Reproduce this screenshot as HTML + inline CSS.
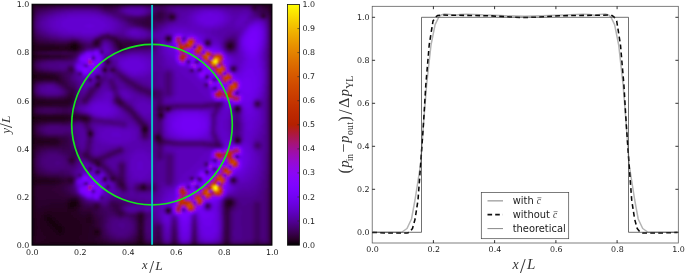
<!DOCTYPE html>
<html><head><meta charset="utf-8"><title>figure</title>
<style>
html,body{margin:0;padding:0;background:#fff;}
svg{display:block}
.t{font-family:"DejaVu Sans","Liberation Sans",sans-serif;font-size:7.9px;fill:#1a1a1a}
.m{font-family:"Liberation Serif","DejaVu Serif",serif;font-style:italic;fill:#333}
.r{font-family:"Liberation Serif","DejaVu Serif",serif;font-style:normal}
</style></head><body>
<svg width="685" height="273" viewBox="0 0 685 273">
<defs>
<clipPath id="hc"><rect x="0" y="0" width="240" height="241"/></clipPath>
<filter id="bl" x="-5%" y="-5%" width="110%" height="110%"><feGaussianBlur stdDeviation="0.8"/></filter>
<linearGradient id="cb" x1="0" y1="1" x2="0" y2="0">
<stop offset="0.000" stop-color="#000000"/>
<stop offset="0.025" stop-color="#280028"/>
<stop offset="0.050" stop-color="#39004f"/>
<stop offset="0.075" stop-color="#460074"/>
<stop offset="0.100" stop-color="#510096"/>
<stop offset="0.125" stop-color="#5a00b4"/>
<stop offset="0.150" stop-color="#6301ce"/>
<stop offset="0.175" stop-color="#6b01e3"/>
<stop offset="0.200" stop-color="#7202f3"/>
<stop offset="0.225" stop-color="#7903fc"/>
<stop offset="0.250" stop-color="#8004ff"/>
<stop offset="0.275" stop-color="#8605fc"/>
<stop offset="0.300" stop-color="#8c07f3"/>
<stop offset="0.325" stop-color="#9109e3"/>
<stop offset="0.350" stop-color="#970bce"/>
<stop offset="0.375" stop-color="#9c0db4"/>
<stop offset="0.400" stop-color="#a11096"/>
<stop offset="0.425" stop-color="#a61474"/>
<stop offset="0.450" stop-color="#ab174f"/>
<stop offset="0.475" stop-color="#b01b28"/>
<stop offset="0.500" stop-color="#b42000"/>
<stop offset="0.525" stop-color="#b92500"/>
<stop offset="0.550" stop-color="#bd2a00"/>
<stop offset="0.575" stop-color="#c13000"/>
<stop offset="0.600" stop-color="#c63700"/>
<stop offset="0.625" stop-color="#ca3e00"/>
<stop offset="0.650" stop-color="#ce4600"/>
<stop offset="0.675" stop-color="#d24e00"/>
<stop offset="0.700" stop-color="#d55700"/>
<stop offset="0.725" stop-color="#d96100"/>
<stop offset="0.750" stop-color="#dd6c00"/>
<stop offset="0.775" stop-color="#e07700"/>
<stop offset="0.800" stop-color="#e48300"/>
<stop offset="0.825" stop-color="#e88f00"/>
<stop offset="0.850" stop-color="#eb9d00"/>
<stop offset="0.875" stop-color="#efab00"/>
<stop offset="0.900" stop-color="#f2ba00"/>
<stop offset="0.925" stop-color="#f5ca00"/>
<stop offset="0.950" stop-color="#f9db00"/>
<stop offset="0.975" stop-color="#fcec00"/>
<stop offset="1.000" stop-color="#ffff00"/>
</linearGradient></defs>
<rect width="685" height="273" fill="#fff"/>
<g transform="translate(32.00 4.20)">
<rect x="0" y="0" width="240" height="241" fill="#10001c"/>
<g clip-path="url(#hc)"><g transform="scale(1 1.00417)" filter="url(#bl)" stroke-width="1.6" fill="none" shape-rendering="crispEdges">
<path stroke="#100006" d="M0 71.25h1.5M0 72.75h1.5M0 113.25h1.5M40.5 198.75h1.5M39 200.25h1.5"/>
<path stroke="#130009" d="M238.5 0.75h1.5M0 42.75h1.5M40.5 42.75h3M0 44.25h1.5M0 45.75h1.5M0 69.75h1.5M0 74.25h1.5M0 96.75h1.5M0 98.25h1.5M0 111.75h1.5M0 114.75h1.5M0 116.25h1.5M0 135.75h1.5M0 137.25h1.5M0 138.75h1.5M0 174.75h1.5M0 176.25h1.5M0 177.75h1.5M40.5 197.25h3M39 198.75h1.5M42 198.75h1.5M37.5 200.25h1.5M40.5 200.25h1.5M106.5 239.25h3"/>
<path stroke="#15000b" d="M238.5 2.25h1.5M238.5 3.75h1.5M238.5 5.25h1.5M238.5 6.75h1.5M0 41.25h1.5M40.5 41.25h3M39 42.75h1.5M40.5 44.25h3M0 47.25h1.5M0 50.25h1.5M0 51.75h1.5M0 53.25h1.5M0 68.25h1.5M0 75.75h1.5M0 95.25h1.5M0 99.75h1.5M0 101.25h1.5M0 110.25h1.5M0 117.75h1.5M0 134.25h1.5M0 140.25h1.5M0 173.25h1.5M0 179.25h1.5M39 197.25h1.5M37.5 198.75h1.5M42 200.25h1.5M37.5 201.75h3M0 209.25h1.5M0 210.75h1.5M0 212.25h1.5M0 213.75h1.5M0 215.25h1.5M0 216.75h1.5M0 218.25h1.5M0 219.75h1.5M0 221.25h1.5M0 222.75h1.5M0 224.25h1.5M0 225.75h1.5M0 227.25h1.5M0 228.75h1.5M0 230.25h1.5M0 231.75h1.5M0 233.25h1.5M0 234.75h1.5M0 239.25h1.5M4.5 239.25h51M105 239.25h1.5M109.5 239.25h1.5"/>
<path stroke="#18000e" d="M0 0.75h1.5M237 0.75h1.5M238.5 8.25h1.5M238.5 9.75h1.5M0 38.25h1.5M0 39.75h1.5M39 41.25h1.5M43.5 42.75h1.5M39 44.25h1.5M0 48.75h1.5M0 54.75h1.5M0 66.75h1.5M0 77.25h1.5M0 93.75h1.5M1.5 113.25h1.5M0 119.25h1.5M0 131.25h1.5M0 132.75h1.5M0 141.75h1.5M0 143.25h1.5M0 170.25h1.5M0 171.75h1.5M0 180.75h1.5M0 182.25h1.5M0 191.25h1.5M0 192.75h1.5M0 194.25h1.5M0 195.75h1.5M40.5 195.75h1.5M0 197.25h1.5M43.5 197.25h1.5M0 198.75h1.5M43.5 198.75h1.5M0 200.25h1.5M36 200.25h1.5M0 201.75h1.5M40.5 201.75h1.5M0 203.25h1.5M0 204.75h1.5M0 206.25h1.5M0 207.75h1.5M15 212.25h3M15 213.75h4.5M15 215.25h6M16.5 216.75h6M18 218.25h6M19.5 219.75h6M21 221.25h7.5M22.5 222.75h7.5M24 224.25h6M25.5 225.75h4.5M27 227.25h1.5M0 236.25h1.5M0 237.75h1.5M1.5 239.25h3M55.5 239.25h15M103.5 239.25h1.5M111 239.25h1.5M238.5 239.25h1.5"/>
<path stroke="#1b0012" d="M1.5 0.75h7.5M232.5 0.75h4.5M0 2.25h1.5M238.5 11.25h1.5M238.5 12.75h1.5M238.5 14.25h1.5M238.5 15.75h1.5M0 36.75h1.5M43.5 41.25h1.5M1.5 42.75h1.5M37.5 42.75h1.5M1.5 44.25h1.5M43.5 44.25h1.5M1.5 45.75h1.5M0 56.25h1.5M0 65.25h1.5M72 65.25h1.5M1.5 71.25h1.5M1.5 72.75h1.5M1.5 74.25h1.5M0 92.25h1.5M0 102.75h1.5M0 108.75h1.5M1.5 111.75h1.5M1.5 114.75h1.5M0 120.75h1.5M0 122.25h1.5M0 128.25h1.5M0 129.75h1.5M0 144.75h1.5M0 146.25h1.5M0 167.25h1.5M0 168.75h1.5M1.5 174.75h1.5M1.5 176.25h1.5M238.5 182.25h1.5M0 183.75h1.5M238.5 183.75h1.5M0 185.25h1.5M238.5 185.25h1.5M0 186.75h1.5M238.5 186.75h1.5M0 188.25h1.5M238.5 188.25h1.5M0 189.75h1.5M238.5 189.75h1.5M238.5 191.25h1.5M238.5 192.75h1.5M238.5 194.25h1.5M39 195.75h1.5M42 195.75h1.5M238.5 195.75h1.5M37.5 197.25h1.5M238.5 197.25h1.5M36 198.75h1.5M238.5 198.75h1.5M43.5 200.25h1.5M238.5 200.25h1.5M36 201.75h1.5M42 201.75h1.5M238.5 201.75h1.5M37.5 203.25h3M238.5 203.25h1.5M238.5 204.75h1.5M238.5 206.25h1.5M238.5 207.75h1.5M238.5 209.25h1.5M13.5 210.75h4.5M238.5 210.75h1.5M13.5 212.25h1.5M18 212.25h1.5M238.5 212.25h1.5M13.5 213.75h1.5M19.5 213.75h3M238.5 213.75h1.5M13.5 215.25h1.5M21 215.25h3M238.5 215.25h1.5M15 216.75h1.5M22.5 216.75h3M238.5 216.75h1.5M16.5 218.25h1.5M24 218.25h3M238.5 218.25h1.5M18 219.75h1.5M25.5 219.75h3M238.5 219.75h1.5M19.5 221.25h1.5M28.5 221.25h1.5M238.5 221.25h1.5M21 222.75h1.5M30 222.75h1.5M238.5 222.75h1.5M22.5 224.25h1.5M30 224.25h1.5M238.5 224.25h1.5M24 225.75h1.5M30 225.75h1.5M238.5 225.75h1.5M25.5 227.25h1.5M28.5 227.25h3M63 227.25h3M238.5 227.25h1.5M27 228.75h1.5M238.5 228.75h1.5M238.5 230.25h1.5M238.5 231.75h1.5M238.5 233.25h1.5M238.5 234.75h1.5M238.5 236.25h1.5M238.5 237.75h1.5M70.5 239.25h7.5M99 239.25h4.5M193.5 239.25h1.5"/>
<path stroke="#1e0015" d="M9 0.75h13.5M70.5 0.75h15M229.5 0.75h3M0 3.75h1.5M0 5.25h1.5M238.5 17.25h1.5M238.5 18.75h1.5M238.5 20.25h1.5M238.5 21.75h1.5M238.5 23.25h1.5M238.5 24.75h1.5M238.5 26.25h1.5M0 33.75h1.5M0 35.25h1.5M238.5 38.25h1.5M40.5 39.75h3M238.5 39.75h1.5M1.5 41.25h1.5M37.5 41.25h1.5M238.5 41.25h1.5M238.5 42.75h1.5M3 44.25h1.5M37.5 44.25h1.5M238.5 44.25h1.5M40.5 45.75h3M238.5 45.75h1.5M238.5 47.25h1.5M238.5 48.75h1.5M238.5 50.25h1.5M1.5 51.75h1.5M238.5 51.75h1.5M238.5 53.25h1.5M238.5 54.75h1.5M238.5 56.25h1.5M0 57.75h1.5M238.5 57.75h1.5M238.5 59.25h1.5M238.5 60.75h1.5M238.5 62.25h1.5M0 63.75h1.5M238.5 63.75h1.5M238.5 65.25h1.5M238.5 66.75h1.5M238.5 68.25h1.5M1.5 69.75h1.5M238.5 69.75h1.5M3 71.25h1.5M238.5 71.25h1.5M3 72.75h4.5M238.5 72.75h1.5M238.5 74.25h1.5M238.5 75.75h1.5M238.5 77.25h1.5M0 78.75h1.5M238.5 78.75h1.5M238.5 80.25h1.5M238.5 81.75h1.5M238.5 83.25h1.5M238.5 84.75h1.5M238.5 86.25h1.5M238.5 87.75h1.5M238.5 89.25h1.5M0 90.75h1.5M238.5 90.75h1.5M238.5 92.25h1.5M238.5 93.75h1.5M238.5 95.25h1.5M1.5 96.75h1.5M238.5 96.75h1.5M1.5 98.25h1.5M238.5 98.25h1.5M1.5 99.75h1.5M238.5 99.75h1.5M238.5 101.25h1.5M238.5 102.75h1.5M0 104.25h1.5M204 104.25h1.5M238.5 104.25h1.5M0 105.75h1.5M238.5 105.75h1.5M0 107.25h1.5M238.5 107.25h1.5M238.5 108.75h1.5M238.5 110.25h1.5M238.5 111.75h1.5M3 113.25h6M238.5 113.25h1.5M3 114.75h1.5M238.5 114.75h1.5M1.5 116.25h1.5M238.5 116.25h1.5M238.5 117.75h1.5M238.5 119.25h1.5M238.5 120.75h1.5M238.5 122.25h1.5M0 123.75h1.5M238.5 123.75h1.5M0 125.25h1.5M112.5 125.25h1.5M238.5 125.25h1.5M0 126.75h1.5M238.5 126.75h1.5M238.5 128.25h1.5M238.5 129.75h1.5M238.5 131.25h1.5M124.5 132.75h1.5M238.5 132.75h1.5M238.5 134.25h1.5M1.5 135.75h1.5M238.5 135.75h1.5M1.5 137.25h1.5M238.5 137.25h1.5M1.5 138.75h1.5M238.5 138.75h1.5M238.5 140.25h1.5M238.5 141.75h1.5M238.5 143.25h1.5M238.5 144.75h1.5M238.5 146.25h1.5M0 147.75h1.5M238.5 147.75h1.5M0 149.25h1.5M238.5 149.25h1.5M0 150.75h1.5M238.5 150.75h1.5M0 152.25h1.5M238.5 152.25h1.5M0 153.75h1.5M238.5 153.75h1.5M238.5 155.25h1.5M238.5 156.75h1.5M238.5 158.25h1.5M0 159.75h1.5M238.5 159.75h1.5M0 161.25h1.5M238.5 161.25h1.5M0 162.75h1.5M238.5 162.75h1.5M0 164.25h1.5M238.5 164.25h1.5M0 165.75h1.5M238.5 165.75h1.5M238.5 167.25h1.5M238.5 168.75h1.5M238.5 170.25h1.5M238.5 171.75h1.5M238.5 173.25h1.5M238.5 174.75h1.5M3 176.25h1.5M238.5 176.25h1.5M1.5 177.75h1.5M238.5 177.75h1.5M238.5 179.25h1.5M238.5 180.75h1.5M43.5 195.75h1.5M36 203.25h1.5M40.5 203.25h1.5M15 209.25h3M12 210.75h1.5M18 210.75h1.5M12 212.25h1.5M19.5 212.25h3M12 213.75h1.5M22.5 213.75h1.5M12 215.25h1.5M24 215.25h1.5M13.5 216.75h1.5M25.5 216.75h1.5M15 218.25h1.5M27 218.25h1.5M15 219.75h3M28.5 219.75h1.5M16.5 221.25h3M30 221.25h1.5M18 222.75h3M31.5 222.75h1.5M19.5 224.25h3M31.5 224.25h1.5M21 225.75h3M31.5 225.75h1.5M63 225.75h3M22.5 227.25h3M31.5 227.25h1.5M24 228.75h3M28.5 228.75h3M27 230.25h1.5M16.5 237.75h27M106.5 237.75h3M78 239.25h21M112.5 239.25h1.5M124.5 239.25h3M192 239.25h1.5M195 239.25h1.5"/>
<path stroke="#20001a" d="M22.5 0.75h13.5M63 0.75h7.5M85.5 0.75h4.5M228 0.75h1.5M0 6.75h1.5M0 8.25h1.5M238.5 27.75h1.5M238.5 29.25h1.5M0 30.75h1.5M238.5 30.75h1.5M0 32.25h1.5M238.5 32.25h1.5M238.5 33.75h1.5M238.5 35.25h1.5M238.5 36.75h1.5M39 39.75h1.5M45 41.25h1.5M3 42.75h4.5M36 42.75h1.5M45 42.75h1.5M4.5 44.25h18M36 44.25h1.5M3 45.75h3M37.5 45.75h3M1.5 47.25h1.5M1.5 53.25h1.5M0 59.25h1.5M0 60.75h1.5M0 62.25h1.5M1.5 68.25h1.5M3 69.75h1.5M4.5 71.25h7.5M7.5 72.75h10.5M64.5 72.75h1.5M3 74.25h3M1.5 75.75h1.5M0 80.25h1.5M0 89.25h1.5M1.5 95.25h1.5M3 96.75h1.5M3 98.25h1.5M1.5 110.25h1.5M3 111.75h3M9 113.25h24M4.5 114.75h22.5M112.5 123.75h1.5M111 125.25h1.5M1.5 134.25h1.5M3 135.75h1.5M204 135.75h1.5M3 137.25h1.5M1.5 140.25h1.5M0 155.25h1.5M0 156.75h1.5M0 158.25h1.5M1.5 173.25h1.5M3 174.75h3M4.5 176.25h9M3 177.75h3M1.5 179.25h1.5M109.5 182.25h3M40.5 194.25h1.5M37.5 195.75h1.5M36 197.25h1.5M195 197.25h3M34.5 198.75h1.5M45 198.75h1.5M195 198.75h3M34.5 200.25h1.5M34.5 201.75h1.5M43.5 201.75h1.5M42 203.25h1.5M37.5 204.75h4.5M15 207.75h3M1.5 209.25h1.5M12 209.25h3M18 209.25h3M1.5 210.75h1.5M10.5 210.75h1.5M19.5 210.75h4.5M1.5 212.25h1.5M10.5 212.25h1.5M22.5 212.25h3M1.5 213.75h1.5M10.5 213.75h1.5M24 213.75h4.5M55.5 213.75h1.5M1.5 215.25h1.5M10.5 215.25h1.5M25.5 215.25h6M55.5 215.25h3M1.5 216.75h1.5M10.5 216.75h3M27 216.75h6M1.5 218.25h1.5M12 218.25h3M28.5 218.25h6M1.5 219.75h1.5M13.5 219.75h1.5M30 219.75h6M1.5 221.25h1.5M13.5 221.25h3M31.5 221.25h4.5M1.5 222.75h1.5M15 222.75h3M33 222.75h4.5M1.5 224.25h1.5M16.5 224.25h3M33 224.25h4.5M1.5 225.75h1.5M18 225.75h3M33 225.75h4.5M1.5 227.25h1.5M19.5 227.25h3M33 227.25h3M66 227.25h1.5M1.5 228.75h1.5M21 228.75h3M31.5 228.75h4.5M63 228.75h3M1.5 230.25h1.5M22.5 230.25h4.5M28.5 230.25h6M1.5 231.75h1.5M24 231.75h9M1.5 233.25h1.5M27 233.25h3M1.5 234.75h1.5M19.5 236.25h19.5M108 236.25h1.5M1.5 237.75h1.5M4.5 237.75h12M43.5 237.75h12M109.5 237.75h1.5M114 239.25h3M120 239.25h4.5M127.5 239.25h1.5M141 239.25h3M162 239.25h1.5M196.5 239.25h1.5M237 239.25h1.5"/>
<path stroke="#23001e" d="M36 0.75h27M90 0.75h3M115.5 0.75h3M120 0.75h1.5M222 0.75h1.5M225 0.75h3M237 2.25h1.5M0 9.75h1.5M0 11.25h1.5M0 27.75h1.5M0 29.25h1.5M135 33.75h1.5M135 35.25h1.5M1.5 39.75h1.5M43.5 39.75h1.5M3 41.25h1.5M36 41.25h1.5M196.5 41.25h3M7.5 42.75h19.5M33 42.75h3M22.5 44.25h13.5M45 44.25h1.5M6 45.75h13.5M36 45.75h1.5M43.5 45.75h1.5M1.5 50.25h1.5M3 51.75h1.5M3 53.25h1.5M1.5 54.75h1.5M4.5 69.75h3M12 71.25h6M18 72.75h4.5M6 74.25h15M0 81.75h1.5M0 83.25h1.5M0 84.75h1.5M0 86.25h1.5M0 87.75h1.5M1.5 93.75h1.5M3 95.25h1.5M4.5 96.75h6M4.5 98.25h13.5M3 99.75h1.5M1.5 101.25h1.5M205.5 104.25h1.5M127.5 110.25h1.5M6 111.75h25.5M33 113.25h3M27 114.75h6M3 116.25h3M1.5 117.75h1.5M111 123.75h1.5M57 128.25h1.5M57 129.75h1.5M1.5 132.75h1.5M126 132.75h1.5M3 134.25h1.5M4.5 135.75h7.5M205.5 135.75h1.5M4.5 137.25h13.5M3 138.75h3M1.5 141.75h1.5M64.5 167.25h1.5M1.5 171.75h1.5M3 173.25h1.5M6 174.75h10.5M72 174.75h1.5M13.5 176.25h9M6 177.75h13.5M3 179.25h1.5M1.5 180.75h1.5M39 194.25h1.5M42 194.25h1.5M36 195.75h1.5M34.5 197.25h1.5M45 197.25h1.5M198 197.25h1.5M198 198.75h1.5M1.5 200.25h1.5M45 200.25h1.5M1.5 201.75h1.5M33 201.75h1.5M45 201.75h1.5M1.5 203.25h1.5M34.5 203.25h1.5M43.5 203.25h1.5M1.5 204.75h1.5M34.5 204.75h3M42 204.75h1.5M135 204.75h1.5M1.5 206.25h1.5M15 206.25h4.5M34.5 206.25h7.5M1.5 207.75h1.5M12 207.75h3M18 207.75h21M10.5 209.25h1.5M21 209.25h18M9 210.75h1.5M24 210.75h16.5M9 212.25h1.5M25.5 212.25h16.5M55.5 212.25h3M3 213.75h1.5M7.5 213.75h3M28.5 213.75h16.5M54 213.75h1.5M57 213.75h1.5M3 215.25h1.5M7.5 215.25h3M31.5 215.25h15M54 215.25h1.5M3 216.75h1.5M7.5 216.75h3M33 216.75h15M54 216.75h4.5M3 218.25h1.5M7.5 218.25h4.5M34.5 218.25h13.5M3 219.75h1.5M7.5 219.75h6M36 219.75h13.5M3 221.25h3M7.5 221.25h6M36 221.25h13.5M3 222.75h3M7.5 222.75h7.5M37.5 222.75h12M3 224.25h1.5M9 224.25h7.5M37.5 224.25h12M3 225.75h1.5M9 225.75h9M37.5 225.75h12M61.5 225.75h1.5M66 225.75h1.5M3 227.25h1.5M10.5 227.25h9M36 227.25h13.5M61.5 227.25h1.5M3 228.75h1.5M10.5 228.75h10.5M36 228.75h13.5M61.5 228.75h1.5M3 230.25h1.5M12 230.25h10.5M34.5 230.25h13.5M13.5 231.75h10.5M33 231.75h13.5M13.5 233.25h13.5M30 233.25h16.5M12 234.75h36M108 234.75h1.5M1.5 236.25h1.5M9 236.25h10.5M39 236.25h12M106.5 236.25h1.5M3 237.75h1.5M55.5 237.75h9M105 237.75h1.5M117 239.25h3M129 239.25h1.5M139.5 239.25h1.5M160.5 239.25h1.5M190.5 239.25h1.5M223.5 239.25h3M235.5 239.25h1.5"/>
<path stroke="#260023" d="M93 0.75h4.5M111 0.75h4.5M118.5 0.75h1.5M121.5 0.75h9M220.5 0.75h1.5M223.5 0.75h1.5M235.5 2.25h1.5M237 3.75h1.5M237 5.25h1.5M0 12.75h1.5M139.5 12.75h1.5M0 14.25h1.5M0 15.75h1.5M0 24.75h1.5M0 26.25h1.5M1.5 38.25h1.5M37.5 39.75h1.5M4.5 41.25h9M34.5 41.25h1.5M27 42.75h6M196.5 42.75h3M19.5 45.75h16.5M3 47.25h1.5M1.5 48.75h1.5M4.5 51.75h4.5M4.5 53.25h3M1.5 66.75h1.5M3 68.25h1.5M7.5 69.75h6M18 71.25h3M22.5 72.75h1.5M21 74.25h3M3 75.75h1.5M1.5 77.25h1.5M4.5 95.25h3M10.5 96.75h27M18 98.25h18M4.5 99.75h15M3 110.25h1.5M31.5 111.75h3M127.5 111.75h1.5M36 113.25h1.5M49.5 113.25h4.5M33 114.75h3M51 114.75h3M6 116.25h9M3 117.75h1.5M1.5 119.25h1.5M1.5 131.25h1.5M3 132.75h1.5M4.5 134.25h4.5M124.5 134.25h3M12 135.75h13.5M18 137.25h7.5M6 138.75h13.5M3 140.25h1.5M1.5 143.25h1.5M64.5 159.75h1.5M1.5 170.25h1.5M4.5 173.25h3M16.5 174.75h7.5M22.5 176.25h4.5M19.5 177.75h6M4.5 179.25h4.5M1.5 182.25h1.5M1.5 183.75h1.5M109.5 183.75h3M1.5 185.25h1.5M1.5 186.75h1.5M1.5 188.25h1.5M1.5 189.75h1.5M1.5 191.25h1.5M1.5 192.75h1.5M1.5 194.25h1.5M37.5 194.25h1.5M43.5 194.25h1.5M1.5 195.75h1.5M45 195.75h1.5M196.5 195.75h1.5M1.5 197.25h1.5M1.5 198.75h1.5M33 198.75h1.5M33 200.25h1.5M195 200.25h3M31.5 201.75h1.5M16.5 203.25h18M45 203.25h1.5M3 204.75h1.5M12 204.75h22.5M43.5 204.75h1.5M3 206.25h1.5M10.5 206.25h4.5M19.5 206.25h15M42 206.25h3M135 206.25h1.5M3 207.75h3M7.5 207.75h4.5M39 207.75h6M3 209.25h7.5M39 209.25h6M55.5 209.25h1.5M3 210.75h6M40.5 210.75h6M54 210.75h4.5M3 212.25h6M42 212.25h7.5M52.5 212.25h3M58.5 212.25h1.5M4.5 213.75h3M45 213.75h9M58.5 213.75h1.5M4.5 215.25h3M46.5 215.25h7.5M58.5 215.25h1.5M4.5 216.75h3M48 216.75h6M58.5 216.75h1.5M4.5 218.25h3M48 218.25h12M4.5 219.75h3M49.5 219.75h9M6 221.25h1.5M49.5 221.25h7.5M6 222.75h1.5M49.5 222.75h7.5M4.5 224.25h4.5M49.5 224.25h7.5M61.5 224.25h4.5M4.5 225.75h4.5M49.5 225.75h7.5M60 225.75h1.5M4.5 227.25h6M49.5 227.25h7.5M60 227.25h1.5M4.5 228.75h6M49.5 228.75h6M60 228.75h1.5M66 228.75h1.5M4.5 230.25h7.5M48 230.25h7.5M61.5 230.25h4.5M3 231.75h10.5M46.5 231.75h9M108 231.75h1.5M3 233.25h10.5M46.5 233.25h9M106.5 233.25h3M3 234.75h9M48 234.75h7.5M106.5 234.75h1.5M3 236.25h6M51 236.25h9M105 236.25h1.5M109.5 236.25h1.5M64.5 237.75h6M103.5 237.75h1.5M111 237.75h1.5M144 239.25h1.5M163.5 239.25h1.5M198 239.25h1.5M220.5 239.25h3M226.5 239.25h3M234 239.25h1.5"/>
<path stroke="#280028" d="M97.5 0.75h13.5M130.5 0.75h3M219 0.75h1.5M1.5 2.25h1.5M232.5 2.25h3M237 6.75h1.5M237 8.25h1.5M138 12.75h1.5M0 17.25h1.5M0 18.75h1.5M0 20.25h1.5M0 21.75h1.5M0 23.25h1.5M136.5 33.75h1.5M136.5 35.25h1.5M1.5 36.75h1.5M40.5 38.25h1.5M63 38.25h3M3 39.75h3M45 39.75h1.5M63 39.75h1.5M198 39.75h1.5M13.5 41.25h13.5M33 41.25h1.5M46.5 41.25h1.5M87 41.25h3M46.5 42.75h1.5M87 42.75h3M46.5 44.25h1.5M88.5 44.25h1.5M45 45.75h1.5M4.5 47.25h1.5M40.5 47.25h1.5M3 50.25h1.5M9 51.75h9M7.5 53.25h9M3 54.75h1.5M1.5 56.25h1.5M75 57.75h1.5M4.5 68.25h3M13.5 69.75h4.5M21 71.25h3M24 72.75h1.5M24 74.25h1.5M4.5 75.75h6M24 75.75h1.5M64.5 80.25h1.5M1.5 92.25h1.5M3 93.75h1.5M36 93.75h3M7.5 95.25h6M31.5 95.25h7.5M37.5 96.75h1.5M36 98.25h1.5M19.5 99.75h15M3 101.25h3M1.5 102.75h1.5M204 102.75h1.5M135 104.25h1.5M1.5 108.75h1.5M4.5 110.25h3M129 110.25h1.5M34.5 111.75h3M37.5 113.25h1.5M48 113.25h1.5M36 114.75h1.5M54 114.75h1.5M15 116.25h18M4.5 117.75h1.5M1.5 120.75h1.5M111 126.75h3M1.5 129.75h1.5M124.5 131.25h1.5M4.5 132.75h1.5M9 134.25h15M25.5 137.25h1.5M19.5 138.75h6M4.5 140.25h6M3 141.75h1.5M1.5 144.75h1.5M1.5 168.75h1.5M3 171.75h1.5M7.5 173.25h7.5M24 174.75h3M37.5 174.75h1.5M27 176.25h1.5M37.5 176.25h1.5M25.5 177.75h3M9 179.25h15M3 180.75h3M36 194.25h1.5M3 195.75h1.5M34.5 195.75h1.5M195 195.75h1.5M198 195.75h1.5M3 197.25h1.5M31.5 197.25h3M193.5 197.25h1.5M3 198.75h1.5M18 198.75h15M46.5 198.75h1.5M193.5 198.75h1.5M3 200.25h1.5M13.5 200.25h19.5M46.5 200.25h1.5M193.5 200.25h1.5M198 200.25h1.5M3 201.75h3M9 201.75h22.5M46.5 201.75h1.5M195 201.75h1.5M3 203.25h13.5M4.5 204.75h7.5M45 204.75h1.5M136.5 204.75h1.5M4.5 206.25h6M45 206.25h1.5M6 207.75h1.5M45 207.75h3M55.5 207.75h1.5M45 209.25h4.5M54 209.25h1.5M57 209.25h1.5M46.5 210.75h7.5M58.5 210.75h1.5M106.5 210.75h3M49.5 212.25h3M106.5 212.25h3M108 213.75h1.5M60 215.25h1.5M108 215.25h1.5M60 216.75h1.5M108 216.75h1.5M60 218.25h1.5M58.5 219.75h1.5M57 221.25h4.5M57 222.75h6M57 224.25h4.5M57 225.75h3M108 225.75h1.5M57 227.25h3M108 227.25h1.5M55.5 228.75h4.5M108 228.75h1.5M55.5 230.25h6M66 230.25h1.5M106.5 230.25h3M55.5 231.75h9M106.5 231.75h1.5M55.5 233.25h6M109.5 233.25h1.5M55.5 234.75h7.5M109.5 234.75h1.5M60 236.25h6M70.5 237.75h4.5M102 237.75h1.5M130.5 239.25h1.5M138 239.25h1.5M159 239.25h1.5M189 239.25h1.5M199.5 239.25h1.5M217.5 239.25h3M229.5 239.25h4.5"/>
<path stroke="#2b002d" d="M133.5 0.75h4.5M214.5 0.75h4.5M3 2.25h7.5M231 2.25h1.5M1.5 3.75h1.5M235.5 3.75h1.5M237 9.75h1.5M231 11.25h1.5M139.5 14.25h1.5M1.5 35.25h1.5M64.5 36.75h1.5M3 38.25h1.5M39 38.25h1.5M42 38.25h1.5M85.5 38.25h1.5M6 39.75h6M36 39.75h1.5M64.5 39.75h1.5M85.5 39.75h3M196.5 39.75h1.5M27 41.25h6M85.5 41.25h1.5M90 41.25h1.5M195 41.25h1.5M199.5 41.25h1.5M90 42.75h1.5M195 42.75h1.5M199.5 42.75h1.5M87 44.25h1.5M90 44.25h1.5M196.5 44.25h3M6 47.25h4.5M37.5 47.25h3M42 47.25h1.5M3 48.75h1.5M4.5 50.25h1.5M18 51.75h10.5M16.5 53.25h12M4.5 54.75h1.5M1.5 65.25h1.5M70.5 65.25h1.5M79.5 65.25h1.5M3 66.75h1.5M7.5 68.25h3M18 69.75h4.5M24 71.25h1.5M25.5 72.75h1.5M25.5 74.25h1.5M10.5 75.75h13.5M25.5 75.75h1.5M3 77.25h1.5M1.5 78.75h1.5M37.5 92.25h1.5M4.5 93.75h1.5M34.5 93.75h1.5M39 93.75h1.5M13.5 95.25h18M39 95.25h1.5M39 96.75h1.5M37.5 98.25h1.5M34.5 99.75h3M6 101.25h4.5M31.5 101.25h1.5M205.5 102.75h1.5M204 105.75h1.5M127.5 108.75h1.5M7.5 110.25h6M21 110.25h13.5M37.5 111.75h6M48 111.75h4.5M129 111.75h1.5M39 113.25h9M54 113.25h1.5M37.5 114.75h1.5M49.5 114.75h1.5M33 116.25h3M6 117.75h3M3 119.25h1.5M1.5 122.25h1.5M111 122.25h3M1.5 123.75h1.5M114 123.75h1.5M114 125.25h1.5M1.5 126.75h1.5M1.5 128.25h1.5M58.5 128.25h1.5M58.5 129.75h1.5M3 131.25h1.5M126 131.25h1.5M6 132.75h4.5M123 132.75h1.5M24 134.25h1.5M204 134.25h3M25.5 135.75h1.5M126 135.75h1.5M204 137.25h1.5M25.5 138.75h1.5M10.5 140.25h13.5M4.5 141.75h1.5M3 143.25h1.5M1.5 146.25h1.5M1.5 147.75h1.5M39 155.25h1.5M64.5 158.25h1.5M66 159.75h1.5M1.5 165.75h1.5M1.5 167.25h1.5M3 170.25h1.5M4.5 171.75h3M15 173.25h7.5M27 174.75h3M36 174.75h1.5M39 174.75h1.5M79.5 174.75h1.5M28.5 176.25h3M36 176.25h1.5M39 176.25h1.5M28.5 177.75h1.5M24 179.25h3M6 180.75h16.5M109.5 180.75h3M3 182.25h3M112.5 182.25h1.5M3 183.75h1.5M3 185.25h1.5M3 186.75h1.5M3 188.25h1.5M3 189.75h1.5M3 191.25h1.5M3 192.75h3M37.5 192.75h6M3 194.25h3M13.5 194.25h15M33 194.25h3M4.5 195.75h30M4.5 197.25h27M46.5 197.25h1.5M199.5 197.25h1.5M4.5 198.75h13.5M199.5 198.75h1.5M4.5 200.25h9M6 201.75h3M63 201.75h1.5M193.5 201.75h1.5M196.5 201.75h1.5M46.5 203.25h1.5M46.5 204.75h1.5M46.5 206.25h3M55.5 206.25h1.5M48 207.75h7.5M57 207.75h1.5M49.5 209.25h4.5M58.5 209.25h1.5M108 209.25h1.5M109.5 210.75h1.5M60 212.25h1.5M109.5 212.25h1.5M60 213.75h1.5M106.5 213.75h1.5M61.5 215.25h1.5M106.5 215.25h1.5M61.5 216.75h1.5M106.5 216.75h1.5M61.5 218.25h1.5M106.5 218.25h3M60 219.75h3M108 219.75h1.5M61.5 221.25h1.5M108 221.25h1.5M63 222.75h3M108 222.75h1.5M66 224.25h1.5M106.5 224.25h3M106.5 225.75h1.5M67.5 227.25h1.5M106.5 227.25h1.5M67.5 228.75h1.5M106.5 228.75h1.5M109.5 230.25h1.5M64.5 231.75h3M109.5 231.75h1.5M61.5 233.25h4.5M105 233.25h1.5M63 234.75h4.5M105 234.75h1.5M66 236.25h4.5M103.5 236.25h1.5M75 237.75h4.5M97.5 237.75h4.5M193.5 237.75h3M136.5 239.25h1.5M145.5 239.25h1.5M165 239.25h1.5M201 239.25h16.5"/>
<path stroke="#2e0033" d="M138 0.75h31.5M186 0.75h28.5M10.5 2.25h6M70.5 2.25h10.5M222 2.25h1.5M229.5 2.25h1.5M222 3.75h1.5M232.5 3.75h3M1.5 5.25h1.5M235.5 5.25h1.5M139.5 11.25h1.5M229.5 11.25h1.5M237 11.25h1.5M141 12.75h1.5M138 14.25h1.5M1.5 33.75h1.5M3 36.75h1.5M63 36.75h1.5M84 36.75h1.5M4.5 38.25h1.5M43.5 38.25h1.5M84 38.25h1.5M87 38.25h1.5M174 38.25h3M12 39.75h10.5M34.5 39.75h1.5M61.5 39.75h1.5M88.5 39.75h1.5M199.5 39.75h1.5M48 42.75h1.5M85.5 42.75h1.5M91.5 42.75h1.5M46.5 45.75h1.5M88.5 45.75h1.5M10.5 47.25h7.5M36 47.25h1.5M43.5 47.25h1.5M4.5 48.75h1.5M6 50.25h4.5M28.5 51.75h4.5M28.5 53.25h4.5M6 54.75h3M3 56.25h1.5M1.5 57.75h1.5M1.5 63.75h1.5M201 63.75h1.5M166.5 65.25h1.5M201 65.25h1.5M4.5 66.75h1.5M72 66.75h1.5M10.5 68.25h4.5M22.5 69.75h1.5M25.5 71.25h1.5M174 72.75h1.5M27 74.25h1.5M27 75.75h1.5M4.5 77.25h1.5M25.5 77.25h3M1.5 90.75h1.5M37.5 90.75h3M36 92.25h1.5M39 92.25h1.5M6 93.75h3M31.5 93.75h3M39 98.25h1.5M37.5 99.75h1.5M10.5 101.25h21M33 101.25h3M3 102.75h1.5M1.5 104.25h1.5M202.5 104.25h1.5M1.5 105.75h1.5M205.5 105.75h1.5M1.5 107.25h1.5M3 108.75h1.5M13.5 110.25h7.5M34.5 110.25h3M126 110.25h1.5M43.5 111.75h4.5M52.5 111.75h1.5M39 114.75h1.5M48 114.75h1.5M55.5 114.75h1.5M36 116.25h1.5M52.5 116.25h1.5M9 117.75h4.5M4.5 119.25h1.5M1.5 125.25h1.5M3 129.75h1.5M4.5 131.25h1.5M10.5 132.75h6M25.5 134.25h1.5M123 134.25h1.5M127.5 134.25h1.5M27 135.75h1.5M124.5 135.75h1.5M127.5 135.75h1.5M27 137.25h1.5M205.5 137.25h1.5M27 138.75h1.5M24 140.25h3M6 141.75h4.5M4.5 143.25h1.5M3 144.75h1.5M1.5 149.25h1.5M1.5 150.75h1.5M1.5 152.25h1.5M37.5 155.25h1.5M39 156.75h1.5M66 158.25h1.5M1.5 162.75h1.5M1.5 164.25h1.5M174 167.25h1.5M3 168.75h1.5M4.5 170.25h1.5M7.5 171.75h4.5M22.5 173.25h4.5M79.5 173.25h1.5M30 174.75h1.5M34.5 174.75h1.5M166.5 174.75h1.5M201 174.75h1.5M31.5 176.25h4.5M199.5 176.25h3M30 177.75h3M36 177.75h3M27 179.25h3M22.5 180.75h4.5M6 182.25h18M108 182.25h1.5M4.5 183.75h16.5M112.5 183.75h1.5M4.5 185.25h15M4.5 186.75h18M4.5 188.25h21M4.5 189.75h22.5M4.5 191.25h25.5M6 192.75h31.5M43.5 192.75h1.5M6 194.25h7.5M28.5 194.25h4.5M45 194.25h1.5M46.5 195.75h1.5M193.5 195.75h1.5M48 200.25h1.5M63 200.25h1.5M48 201.75h1.5M64.5 201.75h1.5M48 203.25h1.5M195 203.25h1.5M48 204.75h3M55.5 204.75h1.5M49.5 206.25h6M57 206.25h1.5M136.5 206.25h1.5M58.5 207.75h1.5M60 209.25h1.5M106.5 209.25h1.5M109.5 209.25h1.5M60 210.75h1.5M105 210.75h1.5M61.5 212.25h1.5M61.5 213.75h1.5M109.5 213.75h1.5M63 215.25h1.5M109.5 215.25h1.5M63 216.75h1.5M109.5 216.75h1.5M63 218.25h1.5M109.5 218.25h1.5M63 219.75h1.5M106.5 219.75h1.5M109.5 219.75h1.5M63 221.25h3M106.5 221.25h1.5M66 222.75h1.5M106.5 222.75h1.5M109.5 224.25h1.5M67.5 225.75h1.5M109.5 225.75h1.5M109.5 227.25h1.5M109.5 228.75h1.5M67.5 230.25h1.5M67.5 231.75h1.5M105 231.75h1.5M66 233.25h3M67.5 234.75h3M70.5 236.25h3M102 236.25h1.5M111 236.25h1.5M79.5 237.75h6M91.5 237.75h6M112.5 237.75h1.5M123 237.75h4.5M192 237.75h1.5M132 239.25h4.5M157.5 239.25h1.5M187.5 239.25h1.5"/>
<path stroke="#300039" d="M169.5 0.75h16.5M16.5 2.25h7.5M69 2.25h1.5M81 2.25h3M220.5 2.25h1.5M228 2.25h1.5M3 3.75h1.5M220.5 3.75h1.5M231 3.75h1.5M234 5.25h1.5M1.5 6.75h1.5M235.5 6.75h1.5M1.5 8.25h1.5M138 11.25h1.5M229.5 12.75h3M237 12.75h1.5M237 14.25h1.5M115.5 15.75h1.5M114 17.25h3M114 18.75h3M115.5 20.25h1.5M1.5 32.25h1.5M82.5 35.25h1.5M4.5 36.75h1.5M66 36.75h1.5M82.5 36.75h1.5M85.5 36.75h1.5M6 38.25h6M37.5 38.25h1.5M61.5 38.25h1.5M66 38.25h1.5M88.5 38.25h1.5M22.5 39.75h12M46.5 39.75h1.5M84 39.75h1.5M90 39.75h10.5M174 39.75h3M195 39.75h1.5M48 41.25h1.5M63 41.25h3M91.5 41.25h4.5M48 44.25h1.5M91.5 44.25h1.5M18 47.25h18M6 48.75h3M10.5 50.25h6M33 51.75h3M33 53.25h1.5M9 54.75h4.5M1.5 59.25h1.5M1.5 62.25h1.5M72 63.75h1.5M199.5 63.75h1.5M3 65.25h1.5M199.5 65.25h1.5M6 66.75h1.5M15 68.25h4.5M24 69.75h1.5M27 71.25h1.5M27 72.75h1.5M66 72.75h1.5M28.5 74.25h1.5M28.5 75.75h1.5M6 77.25h1.5M24 77.25h1.5M28.5 77.25h1.5M64.5 78.75h1.5M1.5 80.25h1.5M66 80.25h1.5M37.5 89.25h3M36 90.75h1.5M3 92.25h1.5M34.5 92.25h1.5M40.5 92.25h1.5M9 93.75h3M27 93.75h4.5M40.5 93.75h1.5M87 98.25h1.5M36 101.25h1.5M4.5 102.75h1.5M135 102.75h1.5M127.5 104.25h1.5M133.5 104.25h1.5M136.5 104.25h1.5M4.5 108.75h1.5M126 108.75h1.5M129 108.75h1.5M37.5 110.25h7.5M126 111.75h1.5M55.5 113.25h1.5M40.5 114.75h7.5M37.5 116.25h1.5M51 116.25h1.5M54 116.25h1.5M13.5 117.75h21M6 119.25h1.5M3 120.75h1.5M109.5 123.75h1.5M109.5 125.25h1.5M57 126.75h1.5M114 126.75h1.5M3 128.25h1.5M55.5 128.25h1.5M112.5 128.25h1.5M4.5 129.75h1.5M55.5 129.75h1.5M6 131.25h3M123 131.25h1.5M16.5 132.75h9M127.5 132.75h1.5M27 134.25h3M28.5 135.75h3M202.5 135.75h1.5M28.5 137.25h3M126 137.25h3M28.5 138.75h1.5M27 140.25h1.5M10.5 141.75h13.5M6 143.25h1.5M4.5 144.75h1.5M3 146.25h1.5M1.5 153.75h1.5M39 153.75h1.5M1.5 155.25h1.5M40.5 155.25h1.5M1.5 156.75h1.5M37.5 156.75h1.5M63 156.75h3M1.5 158.25h1.5M63 158.25h1.5M1.5 159.75h1.5M1.5 161.25h1.5M3 167.25h1.5M6 170.25h1.5M12 171.75h6M27 173.25h3M36 173.25h3M31.5 174.75h3M81 174.75h1.5M199.5 174.75h1.5M33 177.75h3M39 177.75h1.5M30 179.25h3M88.5 179.25h1.5M27 180.75h3M88.5 180.75h1.5M24 182.25h4.5M21 183.75h7.5M108 183.75h1.5M19.5 185.25h9M22.5 186.75h7.5M25.5 188.25h6M237 188.25h1.5M27 189.75h6M237 189.75h1.5M30 191.25h12M237 191.25h1.5M237 192.75h1.5M196.5 194.25h1.5M237 194.25h1.5M199.5 195.75h1.5M237 195.75h1.5M237 197.25h1.5M48 198.75h1.5M237 198.75h1.5M64.5 200.25h1.5M199.5 200.25h1.5M237 200.25h1.5M49.5 201.75h1.5M61.5 201.75h1.5M198 201.75h1.5M237 201.75h1.5M49.5 203.25h1.5M55.5 203.25h1.5M63 203.25h3M193.5 203.25h1.5M196.5 203.25h1.5M237 203.25h1.5M51 204.75h4.5M57 204.75h3M193.5 204.75h1.5M237 204.75h1.5M58.5 206.25h1.5M237 206.25h1.5M60 207.75h1.5M237 207.75h1.5M237 209.25h1.5M61.5 210.75h1.5M237 210.75h1.5M63 212.25h1.5M105 212.25h1.5M237 212.25h1.5M63 213.75h1.5M105 213.75h1.5M237 213.75h1.5M64.5 215.25h1.5M105 215.25h1.5M237 215.25h1.5M64.5 216.75h1.5M237 216.75h1.5M64.5 218.25h1.5M237 218.25h1.5M64.5 219.75h1.5M237 219.75h1.5M66 221.25h1.5M109.5 221.25h1.5M237 221.25h1.5M109.5 222.75h1.5M237 222.75h1.5M67.5 224.25h1.5M237 224.25h1.5M237 225.75h1.5M237 227.25h1.5M105 228.75h1.5M237 228.75h1.5M105 230.25h1.5M237 230.25h1.5M237 231.75h1.5M69 233.25h1.5M103.5 233.25h1.5M237 233.25h1.5M70.5 234.75h1.5M103.5 234.75h1.5M111 234.75h1.5M237 234.75h1.5M73.5 236.25h3M100.5 236.25h1.5M193.5 236.25h1.5M237 236.25h1.5M85.5 237.75h6M114 237.75h1.5M120 237.75h3M127.5 237.75h1.5M141 237.75h3M237 237.75h1.5M147 239.25h1.5M166.5 239.25h1.5M186 239.25h1.5"/>
<path stroke="#33003f" d="M24 2.25h7.5M66 2.25h3M84 2.25h3M223.5 2.25h4.5M4.5 3.75h6M229.5 3.75h1.5M3 5.25h1.5M222 5.25h1.5M231 5.25h3M234 6.75h1.5M235.5 8.25h1.5M1.5 9.75h1.5M126 9.75h3M229.5 9.75h3M124.5 11.25h4.5M124.5 12.75h4.5M136.5 12.75h1.5M114 14.25h4.5M141 14.25h1.5M112.5 15.75h3M117 15.75h1.5M237 15.75h1.5M109.5 17.25h4.5M117 17.25h1.5M237 17.25h1.5M109.5 18.75h4.5M117 18.75h1.5M111 20.25h4.5M117 20.25h1.5M115.5 21.75h3M1.5 30.75h1.5M79.5 33.75h1.5M133.5 33.75h1.5M3 35.25h1.5M66 35.25h1.5M81 35.25h1.5M84 35.25h1.5M133.5 35.25h1.5M6 36.75h1.5M87 36.75h1.5M12 38.25h6M36 38.25h1.5M45 38.25h1.5M82.5 38.25h1.5M90 38.25h9M196.5 38.25h3M66 39.75h1.5M100.5 39.75h16.5M61.5 41.25h1.5M84 41.25h1.5M96 41.25h10.5M49.5 42.75h1.5M93 42.75h3M85.5 44.25h1.5M195 44.25h1.5M199.5 44.25h1.5M87 45.75h1.5M90 45.75h1.5M45 47.25h1.5M9 48.75h6M40.5 48.75h1.5M16.5 50.25h12M36 51.75h3M34.5 53.25h3M13.5 54.75h9M4.5 56.25h1.5M73.5 57.75h1.5M75 59.25h1.5M1.5 60.75h1.5M37.5 65.25h1.5M73.5 65.25h1.5M7.5 66.75h3M19.5 68.25h4.5M25.5 69.75h1.5M64.5 71.25h1.5M28.5 72.75h1.5M30 75.75h1.5M7.5 77.25h4.5M22.5 77.25h1.5M30 77.25h1.5M3 78.75h1.5M27 78.75h6M66 78.75h1.5M64.5 81.75h1.5M39 86.25h1.5M37.5 87.75h4.5M1.5 89.25h1.5M36 89.25h1.5M40.5 89.25h1.5M40.5 90.75h1.5M4.5 92.25h1.5M33 92.25h1.5M12 93.75h15M40.5 95.25h1.5M40.5 96.75h1.5M85.5 96.75h3M88.5 98.25h1.5M39 99.75h1.5M37.5 101.25h1.5M6 102.75h3M27 102.75h9M127.5 102.75h1.5M136.5 102.75h1.5M3 104.25h1.5M126 104.25h1.5M126 105.75h3M135 105.75h1.5M3 107.25h1.5M127.5 107.25h1.5M6 108.75h3M28.5 108.75h7.5M45 110.25h1.5M54 111.75h1.5M127.5 113.25h1.5M39 116.25h1.5M49.5 116.25h1.5M55.5 116.25h1.5M34.5 117.75h1.5M7.5 119.25h3M4.5 120.75h1.5M111 120.75h1.5M3 122.25h1.5M114 122.25h1.5M3 123.75h1.5M3 125.25h1.5M3 126.75h1.5M111 128.25h1.5M6 129.75h1.5M9 131.25h3M57 131.25h1.5M25.5 132.75h3M30 134.25h3M31.5 135.75h3M31.5 137.25h3M30 138.75h3M28.5 140.25h4.5M24 141.75h4.5M7.5 143.25h4.5M6 144.75h1.5M4.5 146.25h1.5M3 147.75h1.5M3 149.25h1.5M37.5 153.75h1.5M40.5 153.75h1.5M63 155.25h1.5M40.5 156.75h1.5M61.5 156.75h1.5M66 156.75h1.5M3 165.75h1.5M237 165.75h1.5M237 167.25h1.5M4.5 168.75h1.5M237 168.75h1.5M7.5 170.25h3M237 170.25h1.5M18 171.75h9M237 171.75h1.5M30 173.25h6M39 173.25h1.5M81 173.25h1.5M237 173.25h1.5M237 174.75h1.5M237 176.25h1.5M87 177.75h3M237 177.75h1.5M33 179.25h4.5M87 179.25h1.5M90 179.25h1.5M237 179.25h1.5M30 180.75h3M90 180.75h1.5M237 180.75h1.5M28.5 182.25h3M237 182.25h1.5M28.5 183.75h3M237 183.75h1.5M28.5 185.25h3M237 185.25h1.5M30 186.75h3M237 186.75h1.5M31.5 188.25h3M33 189.75h4.5M42 191.25h1.5M45 192.75h1.5M46.5 194.25h1.5M195 194.25h1.5M198 194.25h1.5M48 197.25h1.5M192 197.25h1.5M192 198.75h1.5M49.5 200.25h1.5M61.5 200.25h1.5M174 200.25h3M192 200.25h1.5M51 201.75h1.5M66 201.75h1.5M174 201.75h3M192 201.75h1.5M51 203.25h4.5M57 203.25h6M60 204.75h4.5M195 204.75h1.5M60 206.25h1.5M193.5 206.25h3M61.5 207.75h1.5M87 207.75h1.5M193.5 207.75h1.5M61.5 209.25h3M105 209.25h1.5M63 210.75h3M64.5 212.25h1.5M64.5 213.75h3M66 215.25h1.5M66 216.75h1.5M105 216.75h1.5M66 218.25h1.5M105 218.25h1.5M66 219.75h1.5M105 219.75h1.5M105 221.25h1.5M67.5 222.75h1.5M105 222.75h1.5M105 224.25h1.5M69 225.75h1.5M105 225.75h1.5M69 227.25h1.5M105 227.25h1.5M193.5 227.25h1.5M69 228.75h1.5M193.5 228.75h1.5M69 230.25h1.5M193.5 230.25h1.5M69 231.75h1.5M103.5 231.75h1.5M111 231.75h1.5M193.5 231.75h1.5M70.5 233.25h1.5M111 233.25h1.5M193.5 233.25h1.5M72 234.75h3M102 234.75h1.5M193.5 234.75h3M76.5 236.25h3M97.5 236.25h3M112.5 236.25h1.5M124.5 236.25h3M192 236.25h1.5M195 236.25h1.5M115.5 237.75h3M160.5 237.75h3M196.5 237.75h1.5M148.5 239.25h1.5M156 239.25h1.5M168 239.25h4.5M181.5 239.25h4.5"/>
<path stroke="#360046" d="M31.5 2.25h10.5M58.5 2.25h7.5M87 2.25h1.5M120 2.25h1.5M10.5 3.75h4.5M72 3.75h9M223.5 3.75h1.5M228 3.75h1.5M4.5 5.25h1.5M220.5 5.25h1.5M229.5 5.25h1.5M3 6.75h1.5M231 6.75h3M126 8.25h3M234 8.25h1.5M124.5 9.75h1.5M129 9.75h1.5M235.5 9.75h1.5M1.5 11.25h1.5M123 11.25h1.5M129 11.25h1.5M136.5 11.25h1.5M141 11.25h1.5M232.5 11.25h1.5M115.5 12.75h3M120 12.75h1.5M123 12.75h1.5M129 12.75h1.5M112.5 14.25h1.5M120 14.25h1.5M123 14.25h6M136.5 14.25h1.5M108 15.75h4.5M105 17.25h4.5M106.5 18.75h3M237 18.75h1.5M109.5 20.25h1.5M237 20.25h1.5M112.5 21.75h3M237 21.75h1.5M1.5 29.25h1.5M75 32.25h1.5M3 33.75h1.5M76.5 33.75h3M81 33.75h3M4.5 35.25h1.5M64.5 35.25h1.5M67.5 35.25h1.5M79.5 35.25h1.5M7.5 36.75h4.5M40.5 36.75h3M61.5 36.75h1.5M81 36.75h1.5M88.5 36.75h1.5M18 38.25h6M34.5 38.25h1.5M99 38.25h6M111 38.25h7.5M199.5 38.25h1.5M48 39.75h1.5M60 39.75h1.5M82.5 39.75h1.5M117 39.75h1.5M49.5 41.25h1.5M106.5 41.25h10.5M193.5 41.25h1.5M201 41.25h1.5M84 42.75h1.5M96 42.75h6M201 42.75h1.5M49.5 44.25h1.5M93 44.25h1.5M237 44.25h1.5M48 45.75h1.5M237 45.75h1.5M237 47.25h1.5M15 48.75h15M34.5 48.75h6M42 48.75h1.5M237 48.75h1.5M28.5 50.25h12M237 50.25h1.5M39 51.75h1.5M237 51.75h1.5M37.5 53.25h1.5M237 53.25h1.5M22.5 54.75h10.5M237 54.75h1.5M6 56.25h3M75 56.25h1.5M237 56.25h1.5M3 57.75h1.5M76.5 57.75h1.5M163.5 57.75h1.5M237 57.75h1.5M237 59.25h1.5M237 60.75h1.5M237 62.25h1.5M3 63.75h1.5M37.5 63.75h1.5M237 63.75h1.5M4.5 65.25h1.5M39 65.25h1.5M81 65.25h1.5M10.5 66.75h3M37.5 66.75h1.5M79.5 66.75h1.5M24 68.25h1.5M27 69.75h1.5M28.5 71.25h1.5M30 72.75h1.5M30 74.25h1.5M64.5 74.25h1.5M31.5 75.75h1.5M57 75.75h1.5M181.5 75.75h1.5M12 77.25h10.5M31.5 77.25h1.5M25.5 78.75h1.5M33 78.75h1.5M28.5 80.25h6M63 80.25h1.5M237 80.25h1.5M1.5 81.75h1.5M33 81.75h3M237 81.75h1.5M34.5 83.25h3M237 83.25h1.5M36 84.75h4.5M237 84.75h1.5M37.5 86.25h1.5M40.5 86.25h1.5M237 86.25h1.5M1.5 87.75h1.5M237 87.75h1.5M237 89.25h1.5M3 90.75h1.5M34.5 90.75h1.5M237 90.75h1.5M6 92.25h1.5M31.5 92.25h1.5M237 92.25h1.5M237 93.75h1.5M85.5 95.25h1.5M237 95.25h1.5M88.5 96.75h1.5M237 96.75h1.5M40.5 98.25h1.5M85.5 98.25h1.5M225 98.25h1.5M237 98.25h1.5M88.5 99.75h1.5M223.5 99.75h3M237 99.75h1.5M237 101.25h1.5M9 102.75h18M36 102.75h1.5M126 102.75h1.5M129 102.75h1.5M133.5 102.75h1.5M202.5 102.75h1.5M237 102.75h1.5M4.5 104.25h1.5M129 104.25h1.5M237 104.25h1.5M3 105.75h1.5M202.5 105.75h1.5M237 105.75h1.5M126 107.25h1.5M237 107.25h1.5M9 108.75h6M19.5 108.75h9M36 108.75h7.5M237 108.75h1.5M46.5 110.25h1.5M237 110.25h1.5M237 111.75h1.5M237 113.25h1.5M237 114.75h1.5M40.5 116.25h1.5M237 116.25h1.5M36 117.75h1.5M52.5 117.75h3M237 117.75h1.5M10.5 119.25h3M237 119.25h1.5M6 120.75h1.5M109.5 120.75h1.5M112.5 120.75h1.5M237 120.75h1.5M4.5 122.25h1.5M109.5 122.25h1.5M237 122.25h1.5M237 123.75h1.5M237 125.25h1.5M109.5 126.75h1.5M237 126.75h1.5M4.5 128.25h1.5M237 128.25h1.5M7.5 129.75h1.5M124.5 129.75h3M237 129.75h1.5M12 131.25h3M58.5 131.25h1.5M127.5 131.25h1.5M237 131.25h1.5M28.5 132.75h6M237 132.75h1.5M33 134.25h3M202.5 134.25h1.5M237 134.25h1.5M34.5 135.75h1.5M129 135.75h1.5M207 135.75h1.5M237 135.75h1.5M34.5 137.25h1.5M124.5 137.25h1.5M129 137.25h1.5M237 137.25h1.5M33 138.75h3M237 138.75h1.5M33 140.25h3M237 140.25h1.5M28.5 141.75h7.5M237 141.75h1.5M12 143.25h6M22.5 143.25h4.5M30 143.25h3M237 143.25h1.5M7.5 144.75h1.5M237 144.75h1.5M6 146.25h1.5M237 146.25h1.5M4.5 147.75h1.5M237 147.75h1.5M237 149.25h1.5M3 150.75h1.5M40.5 150.75h1.5M52.5 150.75h3M237 150.75h1.5M3 152.25h1.5M39 152.25h3M237 152.25h1.5M237 153.75h1.5M36 155.25h1.5M60 155.25h3M64.5 155.25h1.5M237 155.25h1.5M60 156.75h1.5M237 156.75h1.5M39 158.25h1.5M237 158.25h1.5M63 159.75h1.5M67.5 159.75h1.5M237 159.75h1.5M64.5 161.25h3M237 161.25h1.5M3 162.75h1.5M237 162.75h1.5M3 164.25h1.5M181.5 164.25h1.5M237 164.25h1.5M4.5 167.25h1.5M6 168.75h3M64.5 168.75h1.5M10.5 170.25h4.5M27 171.75h4.5M40.5 174.75h1.5M70.5 174.75h1.5M40.5 176.25h1.5M85.5 176.25h4.5M85.5 177.75h1.5M37.5 179.25h1.5M33 180.75h3M87 180.75h1.5M108 180.75h1.5M112.5 180.75h1.5M31.5 182.25h3M88.5 182.25h3M114 182.25h1.5M163.5 182.25h1.5M31.5 183.75h1.5M31.5 185.25h3M109.5 185.25h3M33 186.75h3M34.5 188.25h3M37.5 189.75h3M43.5 191.25h1.5M48 195.75h1.5M201 197.25h1.5M49.5 198.75h1.5M201 198.75h1.5M51 200.25h1.5M66 200.25h1.5M81 200.25h4.5M52.5 201.75h9M81 201.75h4.5M199.5 201.75h1.5M66 203.25h1.5M82.5 203.25h3M192 203.25h1.5M64.5 204.75h1.5M84 204.75h3M133.5 204.75h1.5M196.5 204.75h1.5M61.5 206.25h4.5M84 206.25h4.5M133.5 206.25h1.5M63 207.75h3M85.5 207.75h1.5M88.5 207.75h1.5M106.5 207.75h3M195 207.75h1.5M64.5 209.25h1.5M87 209.25h3M111 209.25h1.5M193.5 209.25h3M66 210.75h1.5M103.5 210.75h1.5M111 210.75h1.5M193.5 210.75h3M66 212.25h3M103.5 212.25h1.5M111 212.25h1.5M193.5 212.25h3M67.5 213.75h1.5M103.5 213.75h1.5M111 213.75h1.5M193.5 213.75h3M67.5 215.25h1.5M111 215.25h1.5M193.5 215.25h3M67.5 216.75h1.5M193.5 216.75h3M67.5 218.25h1.5M193.5 218.25h3M67.5 219.75h1.5M193.5 219.75h3M67.5 221.25h1.5M193.5 221.25h3M193.5 222.75h3M69 224.25h1.5M193.5 224.25h3M193.5 225.75h3M195 227.25h1.5M111 228.75h1.5M195 228.75h1.5M70.5 230.25h1.5M103.5 230.25h1.5M111 230.25h1.5M195 230.25h1.5M70.5 231.75h1.5M124.5 231.75h3M195 231.75h1.5M72 233.25h3M102 233.25h1.5M124.5 233.25h3M195 233.25h1.5M75 234.75h1.5M100.5 234.75h1.5M124.5 234.75h3M192 234.75h1.5M79.5 236.25h4.5M93 236.25h4.5M123 236.25h1.5M127.5 236.25h1.5M141 236.25h1.5M118.5 237.75h1.5M129 237.75h1.5M139.5 237.75h1.5M190.5 237.75h1.5M223.5 237.75h3M235.5 237.75h1.5M150 239.25h6M172.5 239.25h9"/>
<path stroke="#38004d" d="M42 2.25h16.5M88.5 2.25h1.5M121.5 2.25h9M219 2.25h1.5M15 3.75h4.5M70.5 3.75h1.5M81 3.75h3M225 3.75h3M6 5.25h3M223.5 5.25h1.5M228 5.25h1.5M4.5 6.75h1.5M228 6.75h3M3 8.25h1.5M124.5 8.25h1.5M129 8.25h1.5M229.5 8.25h4.5M123 9.75h1.5M130.5 9.75h1.5M232.5 9.75h3M120 11.25h3M130.5 11.25h1.5M228 11.25h1.5M235.5 11.25h1.5M1.5 12.75h1.5M114 12.75h1.5M118.5 12.75h1.5M121.5 12.75h1.5M130.5 12.75h1.5M232.5 12.75h1.5M1.5 14.25h1.5M109.5 14.25h3M118.5 14.25h1.5M121.5 14.25h1.5M129 14.25h1.5M102 15.75h6M118.5 15.75h3M123 15.75h6M102 17.25h3M118.5 17.25h1.5M103.5 18.75h3M118.5 18.75h1.5M106.5 20.25h3M118.5 20.25h1.5M111 21.75h1.5M118.5 21.75h1.5M115.5 23.25h3M237 23.25h1.5M237 24.75h1.5M1.5 26.25h1.5M237 26.25h1.5M1.5 27.75h1.5M237 27.75h1.5M237 29.25h1.5M237 30.75h1.5M3 32.25h1.5M72 32.25h3M76.5 32.25h1.5M135 32.25h1.5M237 32.25h1.5M4.5 33.75h1.5M67.5 33.75h4.5M75 33.75h1.5M237 33.75h1.5M6 35.25h3M63 35.25h1.5M78 35.25h1.5M85.5 35.25h1.5M237 35.25h1.5M12 36.75h4.5M39 36.75h1.5M43.5 36.75h1.5M67.5 36.75h1.5M90 36.75h7.5M135 36.75h3M237 36.75h1.5M24 38.25h10.5M46.5 38.25h1.5M105 38.25h6M118.5 38.25h1.5M195 38.25h1.5M237 38.25h1.5M118.5 39.75h1.5M193.5 39.75h1.5M201 39.75h1.5M237 39.75h1.5M60 41.25h1.5M66 41.25h1.5M117 41.25h1.5M237 41.25h1.5M51 42.75h1.5M102 42.75h9M193.5 42.75h1.5M237 42.75h1.5M94.5 44.25h1.5M85.5 45.75h1.5M91.5 45.75h1.5M196.5 45.75h3M46.5 47.25h1.5M30 48.75h4.5M43.5 48.75h1.5M40.5 50.25h3M40.5 51.75h1.5M39 53.25h1.5M33 54.75h3M9 56.25h1.5M4.5 57.75h1.5M3 59.25h1.5M73.5 59.25h1.5M3 62.25h1.5M39 63.75h1.5M6 65.25h1.5M36 65.25h1.5M78 65.25h1.5M159 65.25h1.5M237 65.25h1.5M13.5 66.75h3M39 66.75h1.5M70.5 66.75h1.5M237 66.75h1.5M25.5 68.25h3M237 68.25h1.5M28.5 69.75h3M237 69.75h1.5M30 71.25h1.5M237 71.25h1.5M31.5 72.75h1.5M237 72.75h1.5M31.5 74.25h1.5M66 74.25h1.5M237 74.25h1.5M33 75.75h1.5M237 75.75h1.5M33 77.25h1.5M237 77.25h1.5M4.5 78.75h1.5M24 78.75h1.5M34.5 78.75h1.5M237 78.75h1.5M3 80.25h1.5M27 80.25h1.5M34.5 80.25h1.5M174 80.25h1.5M30 81.75h3M36 81.75h1.5M63 81.75h1.5M66 81.75h1.5M1.5 83.25h1.5M33 83.25h1.5M37.5 83.25h3M1.5 84.75h1.5M34.5 84.75h1.5M40.5 84.75h1.5M1.5 86.25h1.5M36 86.25h1.5M42 86.25h1.5M36 87.75h1.5M42 87.75h1.5M120 87.75h1.5M34.5 89.25h1.5M42 89.25h1.5M120 89.25h1.5M33 90.75h1.5M42 90.75h1.5M7.5 92.25h3M28.5 92.25h3M42 92.25h1.5M42 93.75h1.5M84 95.25h1.5M87 95.25h1.5M84 96.75h1.5M90 98.25h1.5M223.5 98.25h1.5M87 99.75h1.5M90 99.75h1.5M39 101.25h1.5M37.5 102.75h1.5M6 104.25h1.5M30 104.25h6M130.5 104.25h3M207 104.25h1.5M4.5 105.75h1.5M129 105.75h1.5M4.5 107.25h3M30 107.25h6M129 107.25h1.5M15 108.75h4.5M48 110.25h3M55.5 111.75h1.5M57 113.25h1.5M126 113.25h1.5M129 113.25h1.5M57 114.75h1.5M42 116.25h1.5M48 116.25h1.5M37.5 117.75h1.5M108 117.75h1.5M13.5 119.25h3M30 119.25h4.5M109.5 119.25h3M7.5 120.75h1.5M4.5 123.75h1.5M4.5 125.25h1.5M4.5 126.75h1.5M55.5 126.75h1.5M58.5 126.75h1.5M6 128.25h1.5M114 128.25h1.5M9 129.75h1.5M111 129.75h3M15 131.25h10.5M34.5 132.75h1.5M36 134.25h1.5M129 134.25h1.5M36 135.75h1.5M123 135.75h1.5M36 137.25h1.5M202.5 137.25h1.5M36 138.75h1.5M126 138.75h3M36 140.25h1.5M36 141.75h1.5M18 143.25h4.5M27 143.25h3M33 143.25h4.5M9 144.75h4.5M30 144.75h7.5M7.5 146.25h1.5M42 146.25h1.5M6 147.75h1.5M39 147.75h4.5M4.5 149.25h1.5M39 149.25h4.5M52.5 149.25h3M39 150.75h1.5M42 150.75h1.5M55.5 150.75h1.5M37.5 152.25h1.5M42 152.25h1.5M52.5 152.25h4.5M3 153.75h1.5M36 153.75h1.5M42 153.75h1.5M57 153.75h1.5M3 155.25h1.5M42 155.25h1.5M58.5 155.25h1.5M66 155.25h1.5M3 156.75h1.5M36 156.75h1.5M3 158.25h1.5M37.5 158.25h1.5M40.5 158.25h1.5M61.5 158.25h1.5M67.5 158.25h1.5M3 159.75h1.5M174 159.75h1.5M3 161.25h1.5M4.5 164.25h1.5M57 164.25h1.5M4.5 165.75h1.5M6 167.25h1.5M66 167.25h1.5M9 168.75h3M15 170.25h12M31.5 171.75h7.5M79.5 171.75h3M72 173.25h1.5M78 173.25h1.5M82.5 173.25h1.5M78 174.75h1.5M82.5 174.75h7.5M159 174.75h1.5M90 177.75h1.5M39 179.25h1.5M85.5 179.25h1.5M36 180.75h1.5M34.5 182.25h1.5M75 182.25h1.5M91.5 182.25h1.5M106.5 182.25h1.5M120 182.25h1.5M33 183.75h3M90 183.75h3M106.5 183.75h1.5M114 183.75h1.5M120 183.75h1.5M34.5 185.25h1.5M112.5 185.25h1.5M36 186.75h1.5M37.5 188.25h1.5M40.5 189.75h1.5M193.5 194.25h1.5M199.5 194.25h1.5M192 195.75h1.5M201 195.75h1.5M49.5 197.25h1.5M51 198.75h1.5M63 198.75h3M79.5 198.75h6M52.5 200.25h4.5M60 200.25h1.5M79.5 200.25h1.5M85.5 200.25h1.5M201 200.25h1.5M79.5 201.75h1.5M85.5 201.75h1.5M81 203.25h1.5M85.5 203.25h1.5M135 203.25h1.5M198 203.25h1.5M66 204.75h1.5M81 204.75h3M87 204.75h1.5M192 204.75h1.5M66 206.25h1.5M82.5 206.25h1.5M88.5 206.25h1.5M192 206.25h1.5M196.5 206.25h1.5M66 207.75h1.5M84 207.75h1.5M90 207.75h1.5M109.5 207.75h1.5M192 207.75h1.5M66 209.25h3M85.5 209.25h1.5M90 209.25h1.5M103.5 209.25h1.5M192 209.25h1.5M67.5 210.75h3M102 210.75h1.5M69 212.25h1.5M69 213.75h1.5M69 215.25h1.5M103.5 215.25h1.5M69 216.75h1.5M103.5 216.75h1.5M111 216.75h1.5M69 218.25h1.5M111 218.25h1.5M69 219.75h1.5M111 219.75h1.5M69 221.25h1.5M111 221.25h1.5M69 222.75h1.5M111 222.75h1.5M111 224.25h1.5M70.5 225.75h1.5M111 225.75h1.5M124.5 225.75h1.5M192 225.75h1.5M70.5 227.25h1.5M103.5 227.25h1.5M111 227.25h1.5M124.5 227.25h3M192 227.25h1.5M70.5 228.75h1.5M103.5 228.75h1.5M124.5 228.75h3M192 228.75h1.5M72 230.25h1.5M124.5 230.25h3M192 230.25h1.5M72 231.75h3M102 231.75h1.5M123 231.75h1.5M192 231.75h1.5M75 233.25h1.5M100.5 233.25h1.5M123 233.25h1.5M192 233.25h1.5M76.5 234.75h3M97.5 234.75h3M112.5 234.75h1.5M123 234.75h1.5M127.5 234.75h1.5M141 234.75h1.5M84 236.25h9M114 236.25h1.5M120 236.25h3M142.5 236.25h1.5M162 236.25h1.5M196.5 236.25h1.5M144 237.75h1.5M163.5 237.75h1.5M198 237.75h1.5M222 237.75h1.5M226.5 237.75h1.5M234 237.75h1.5"/>
<path stroke="#3b0054" d="M90 2.25h3M115.5 2.25h3M130.5 2.25h3M19.5 3.75h4.5M69 3.75h1.5M84 3.75h1.5M126 3.75h1.5M219 3.75h1.5M9 5.25h4.5M72 5.25h9M225 5.25h3M6 6.75h1.5M124.5 6.75h6M226.5 6.75h1.5M123 8.25h1.5M130.5 8.25h1.5M228 8.25h1.5M3 9.75h1.5M120 9.75h3M132 9.75h1.5M138 9.75h3M228 9.75h1.5M117 11.25h1.5M132 11.25h1.5M135 11.25h1.5M234 11.25h1.5M112.5 12.75h1.5M132 12.75h1.5M135 12.75h1.5M235.5 12.75h1.5M103.5 14.25h6M130.5 14.25h1.5M1.5 15.75h1.5M99 15.75h3M121.5 15.75h1.5M129 15.75h1.5M138 15.75h3M1.5 17.25h1.5M100.5 17.25h1.5M120 17.25h1.5M124.5 17.25h3M102 18.75h1.5M120 18.75h1.5M105 20.25h1.5M109.5 21.75h1.5M1.5 23.25h1.5M114 23.25h1.5M118.5 23.25h1.5M1.5 24.75h1.5M3 30.75h1.5M4.5 32.25h1.5M70.5 32.25h1.5M78 32.25h3M136.5 32.25h1.5M6 33.75h3M72 33.75h3M84 33.75h1.5M138 33.75h1.5M9 35.25h4.5M69 35.25h1.5M87 35.25h1.5M138 35.25h1.5M16.5 36.75h6M37.5 36.75h1.5M79.5 36.75h1.5M97.5 36.75h3M114 36.75h4.5M196.5 36.75h4.5M60 38.25h1.5M67.5 38.25h1.5M81 38.25h1.5M201 38.25h1.5M49.5 39.75h1.5M51 41.25h1.5M82.5 41.25h1.5M118.5 41.25h1.5M61.5 42.75h3M111 42.75h7.5M51 44.25h1.5M84 44.25h1.5M96 44.25h3M201 44.25h1.5M49.5 45.75h1.5M199.5 45.75h1.5M87 47.25h3M42 51.75h1.5M40.5 53.25h1.5M36 54.75h3M10.5 56.25h4.5M73.5 56.25h1.5M6 57.75h1.5M76.5 59.25h1.5M3 60.75h1.5M52.5 60.75h1.5M4.5 63.75h1.5M36 63.75h1.5M70.5 63.75h1.5M73.5 63.75h1.5M79.5 63.75h1.5M7.5 65.25h3M16.5 66.75h4.5M36 66.75h1.5M73.5 66.75h1.5M81 66.75h1.5M28.5 68.25h1.5M31.5 69.75h1.5M31.5 71.25h1.5M33 72.75h1.5M63 72.75h1.5M33 74.25h1.5M34.5 77.25h1.5M6 78.75h3M22.5 78.75h1.5M36 80.25h1.5M37.5 81.75h1.5M31.5 83.25h1.5M40.5 83.25h1.5M33 84.75h1.5M42 84.75h1.5M34.5 86.25h1.5M121.5 87.75h1.5M3 89.25h1.5M121.5 89.25h1.5M4.5 90.75h1.5M120 90.75h1.5M10.5 92.25h3M25.5 92.25h3M54 93.75h1.5M84 93.75h3M42 95.25h1.5M52.5 95.25h1.5M42 96.75h1.5M40.5 99.75h1.5M91.5 99.75h1.5M90 101.25h4.5M126 101.25h3M93 102.75h3M124.5 102.75h1.5M130.5 102.75h3M7.5 104.25h4.5M24 104.25h6M36 104.25h3M94.5 104.25h3M124.5 104.25h1.5M6 105.75h1.5M30 105.75h7.5M96 105.75h3M124.5 105.75h1.5M133.5 105.75h1.5M136.5 105.75h1.5M7.5 107.25h3M24 107.25h6M36 107.25h4.5M99 107.25h1.5M204 107.25h1.5M43.5 108.75h1.5M100.5 108.75h1.5M124.5 108.75h1.5M51 110.25h1.5M100.5 110.25h3M124.5 110.25h1.5M130.5 110.25h1.5M102 111.75h3M124.5 111.75h1.5M103.5 113.25h3M105 114.75h3M43.5 116.25h4.5M57 116.25h1.5M106.5 116.25h3M39 117.75h1.5M51 117.75h1.5M55.5 117.75h1.5M106.5 117.75h1.5M109.5 117.75h1.5M16.5 119.25h13.5M34.5 119.25h3M108 119.25h1.5M9 120.75h1.5M114 120.75h1.5M6 122.25h1.5M115.5 125.25h1.5M6 126.75h1.5M7.5 128.25h1.5M109.5 128.25h1.5M10.5 129.75h1.5M123 129.75h1.5M25.5 131.25h10.5M55.5 131.25h1.5M111 131.25h3M36 132.75h1.5M121.5 132.75h1.5M204 132.75h3M121.5 134.25h1.5M207 134.25h1.5M37.5 135.75h1.5M130.5 135.75h1.5M37.5 137.25h1.5M130.5 137.25h1.5M37.5 138.75h1.5M124.5 138.75h1.5M129 138.75h1.5M37.5 140.25h1.5M184.5 140.25h1.5M37.5 141.75h1.5M37.5 143.25h1.5M13.5 144.75h16.5M37.5 144.75h4.5M9 146.25h3M30 146.25h12M43.5 146.25h1.5M7.5 147.75h1.5M34.5 147.75h4.5M43.5 147.75h1.5M54 147.75h1.5M6 149.25h1.5M36 149.25h3M43.5 149.25h1.5M51 149.25h1.5M55.5 149.25h1.5M4.5 150.75h1.5M37.5 150.75h1.5M51 150.75h1.5M4.5 152.25h1.5M36 152.25h1.5M57 152.25h1.5M55.5 153.75h1.5M58.5 153.75h10.5M57 155.25h1.5M67.5 155.25h1.5M42 156.75h1.5M58.5 156.75h1.5M67.5 156.75h1.5M4.5 161.25h1.5M67.5 161.25h1.5M4.5 162.75h1.5M6 164.25h1.5M6 165.75h1.5M7.5 167.25h3M12 168.75h3M27 170.25h6M39 171.75h1.5M40.5 173.25h1.5M84 173.25h1.5M87 173.25h3M84 176.25h1.5M90 176.25h1.5M40.5 177.75h1.5M52.5 179.25h1.5M91.5 179.25h1.5M37.5 180.75h1.5M85.5 180.75h1.5M91.5 180.75h1.5M36 182.25h1.5M87 182.25h1.5M36 183.75h1.5M88.5 183.75h1.5M36 185.25h1.5M108 185.25h1.5M37.5 186.75h1.5M39 188.25h3M42 189.75h1.5M45 191.25h1.5M46.5 192.75h1.5M48 194.25h1.5M49.5 195.75h1.5M79.5 197.25h4.5M235.5 197.25h1.5M52.5 198.75h1.5M61.5 198.75h1.5M78 198.75h1.5M85.5 198.75h1.5M235.5 198.75h1.5M57 200.25h3M78 200.25h1.5M87 200.25h1.5M235.5 200.25h1.5M67.5 201.75h1.5M78 201.75h1.5M87 201.75h1.5M235.5 201.75h1.5M67.5 203.25h1.5M79.5 203.25h1.5M87 203.25h1.5M235.5 203.25h1.5M67.5 204.75h1.5M79.5 204.75h1.5M235.5 204.75h1.5M67.5 206.25h3M81 206.25h1.5M235.5 206.25h1.5M67.5 207.75h3M82.5 207.75h1.5M105 207.75h1.5M196.5 207.75h1.5M235.5 207.75h1.5M69 209.25h3M84 209.25h1.5M196.5 209.25h1.5M235.5 209.25h1.5M70.5 210.75h1.5M87 210.75h3M100.5 210.75h1.5M192 210.75h1.5M235.5 210.75h1.5M70.5 212.25h1.5M102 212.25h1.5M192 212.25h1.5M235.5 212.25h1.5M70.5 213.75h1.5M102 213.75h1.5M192 213.75h1.5M235.5 213.75h1.5M70.5 215.25h1.5M192 215.25h1.5M235.5 215.25h1.5M70.5 216.75h1.5M192 216.75h1.5M235.5 216.75h1.5M70.5 218.25h1.5M103.5 218.25h1.5M192 218.25h1.5M235.5 218.25h1.5M70.5 219.75h1.5M103.5 219.75h1.5M192 219.75h1.5M235.5 219.75h1.5M70.5 221.25h1.5M103.5 221.25h1.5M192 221.25h1.5M235.5 221.25h1.5M70.5 222.75h1.5M103.5 222.75h1.5M124.5 222.75h3M192 222.75h1.5M235.5 222.75h1.5M70.5 224.25h1.5M103.5 224.25h1.5M124.5 224.25h3M192 224.25h1.5M235.5 224.25h1.5M103.5 225.75h1.5M123 225.75h1.5M126 225.75h1.5M235.5 225.75h1.5M72 227.25h1.5M123 227.25h1.5M235.5 227.25h1.5M72 228.75h1.5M123 228.75h1.5M235.5 228.75h1.5M73.5 230.25h1.5M102 230.25h1.5M123 230.25h1.5M235.5 230.25h1.5M75 231.75h1.5M100.5 231.75h1.5M127.5 231.75h1.5M141 231.75h1.5M235.5 231.75h1.5M76.5 233.25h1.5M99 233.25h1.5M112.5 233.25h1.5M121.5 233.25h1.5M127.5 233.25h1.5M141 233.25h1.5M196.5 233.25h1.5M235.5 233.25h1.5M79.5 234.75h3M94.5 234.75h3M120 234.75h3M142.5 234.75h1.5M196.5 234.75h1.5M115.5 236.25h3M139.5 236.25h1.5M160.5 236.25h1.5M190.5 236.25h1.5M223.5 236.25h3M235.5 236.25h1.5M138 237.75h1.5M159 237.75h1.5M220.5 237.75h1.5M228 237.75h6"/>
<path stroke="#3e005c" d="M93 2.25h1.5M112.5 2.25h3M118.5 2.25h1.5M133.5 2.25h1.5M217.5 2.25h1.5M24 3.75h6M66 3.75h3M85.5 3.75h1.5M123 3.75h3M127.5 3.75h3M13.5 5.25h4.5M70.5 5.25h1.5M81 5.25h3M124.5 5.25h6M7.5 6.75h3M76.5 6.75h4.5M123 6.75h1.5M130.5 6.75h1.5M222 6.75h4.5M4.5 8.25h1.5M121.5 8.25h1.5M132 8.25h1.5M226.5 8.25h1.5M133.5 9.75h1.5M136.5 9.75h1.5M3 11.25h1.5M115.5 11.25h1.5M118.5 11.25h1.5M133.5 11.25h1.5M111 12.75h1.5M133.5 12.75h1.5M142.5 12.75h1.5M228 12.75h1.5M234 12.75h1.5M96 14.25h7.5M132 14.25h1.5M135 14.25h1.5M235.5 14.25h1.5M96 15.75h3M130.5 15.75h1.5M97.5 17.25h3M121.5 17.25h3M127.5 17.25h1.5M1.5 18.75h1.5M100.5 18.75h1.5M121.5 18.75h1.5M1.5 20.25h1.5M102 20.25h3M120 20.25h1.5M1.5 21.75h1.5M108 21.75h1.5M120 21.75h1.5M112.5 23.25h1.5M117 24.75h1.5M3 29.25h1.5M4.5 30.75h1.5M75 30.75h1.5M6 32.25h1.5M69 32.25h1.5M81 32.25h1.5M9 33.75h1.5M66 33.75h1.5M13.5 35.25h3M76.5 35.25h1.5M88.5 35.25h4.5M151.5 35.25h1.5M22.5 36.75h4.5M34.5 36.75h3M45 36.75h1.5M100.5 36.75h3M111 36.75h3M118.5 36.75h1.5M174 36.75h3M48 38.25h1.5M177 38.25h1.5M193.5 38.25h1.5M51 39.75h1.5M58.5 39.75h1.5M67.5 39.75h1.5M81 39.75h1.5M120 39.75h1.5M52.5 41.25h1.5M58.5 41.25h1.5M120 41.25h1.5M52.5 42.75h1.5M60 42.75h1.5M64.5 42.75h1.5M82.5 42.75h1.5M118.5 42.75h1.5M99 44.25h7.5M193.5 44.25h1.5M93 45.75h1.5M195 45.75h1.5M48 47.25h1.5M90 47.25h1.5M45 48.75h1.5M43.5 50.25h1.5M42 53.25h1.5M60 53.25h1.5M39 54.75h1.5M15 56.25h6M76.5 56.25h1.5M7.5 57.75h1.5M4.5 59.25h1.5M4.5 60.75h1.5M4.5 62.25h1.5M37.5 62.25h1.5M201 62.25h1.5M6 63.75h1.5M81 63.75h1.5M202.5 63.75h1.5M10.5 65.25h1.5M40.5 65.25h1.5M202.5 65.25h1.5M21 66.75h6M34.5 66.75h1.5M78 66.75h1.5M30 68.25h10.5M33 69.75h3M46.5 69.75h1.5M33 71.25h1.5M66 71.25h1.5M34.5 72.75h1.5M34.5 74.25h1.5M34.5 75.75h1.5M93 75.75h1.5M36 77.25h1.5M66 77.25h1.5M94.5 77.25h3M9 78.75h1.5M36 78.75h1.5M63 78.75h1.5M97.5 78.75h3M4.5 80.25h1.5M25.5 80.25h1.5M37.5 80.25h1.5M99 80.25h4.5M3 81.75h1.5M28.5 81.75h1.5M39 81.75h3M102 81.75h4.5M42 83.25h1.5M105 83.25h4.5M108 84.75h4.5M58.5 86.25h1.5M111 86.25h4.5M120 86.25h1.5M34.5 87.75h1.5M57 87.75h3M114 87.75h4.5M123 87.75h1.5M204 87.75h1.5M33 89.25h1.5M55.5 89.25h3M123 89.25h1.5M6 90.75h1.5M31.5 90.75h1.5M55.5 90.75h3M121.5 90.75h1.5M13.5 92.25h12M54 92.25h3M120 92.25h1.5M52.5 93.75h1.5M51 95.25h1.5M54 95.25h1.5M82.5 95.25h1.5M51 96.75h3M90 96.75h1.5M42 98.25h1.5M84 98.25h1.5M85.5 99.75h1.5M126 99.75h1.5M184.5 99.75h3M226.5 99.75h1.5M40.5 101.25h1.5M88.5 101.25h1.5M129 101.25h1.5M184.5 101.25h1.5M39 102.75h1.5M91.5 102.75h1.5M96 102.75h1.5M138 102.75h1.5M12 104.25h12M93 104.25h1.5M97.5 104.25h1.5M138 104.25h1.5M7.5 105.75h22.5M37.5 105.75h1.5M94.5 105.75h1.5M99 105.75h1.5M130.5 105.75h1.5M207 105.75h1.5M10.5 107.25h13.5M40.5 107.25h3M97.5 107.25h1.5M100.5 107.25h1.5M124.5 107.25h1.5M205.5 107.25h1.5M45 108.75h1.5M99 108.75h1.5M102 108.75h1.5M130.5 108.75h1.5M52.5 110.25h1.5M130.5 111.75h1.5M102 113.25h1.5M103.5 114.75h1.5M126 114.75h3M105 116.25h1.5M40.5 117.75h1.5M49.5 117.75h1.5M37.5 119.25h1.5M52.5 119.25h3M112.5 119.25h1.5M10.5 120.75h3M108 120.75h1.5M7.5 122.25h1.5M6 123.75h1.5M115.5 123.75h1.5M6 125.25h1.5M55.5 125.25h3M7.5 126.75h1.5M9 128.25h1.5M60 128.25h1.5M126 128.25h1.5M12 129.75h3M60 129.75h1.5M114 129.75h1.5M127.5 129.75h1.5M36 131.25h1.5M121.5 131.25h1.5M37.5 132.75h1.5M57 132.75h1.5M112.5 132.75h1.5M129 132.75h1.5M37.5 134.25h1.5M123 137.25h1.5M132 137.25h1.5M207 137.25h1.5M39 138.75h1.5M130.5 138.75h1.5M184.5 138.75h1.5M39 140.25h1.5M126 140.25h3M183 140.25h1.5M186 140.25h1.5M39 141.75h1.5M39 143.25h3M42 144.75h3M12 146.25h3M25.5 146.25h4.5M84 146.25h4.5M9 147.75h1.5M30 147.75h4.5M52.5 147.75h1.5M55.5 147.75h1.5M81 147.75h3M7.5 149.25h1.5M33 149.25h3M78 149.25h3M6 150.75h1.5M34.5 150.75h3M43.5 150.75h1.5M57 150.75h1.5M75 150.75h3M43.5 152.25h1.5M51 152.25h1.5M58.5 152.25h1.5M70.5 152.25h3M204 152.25h1.5M4.5 153.75h1.5M54 153.75h1.5M69 153.75h1.5M4.5 155.25h1.5M34.5 155.25h1.5M69 155.25h1.5M4.5 156.75h1.5M4.5 158.25h1.5M36 158.25h1.5M60 158.25h1.5M69 158.25h1.5M4.5 159.75h1.5M39 159.75h1.5M69 159.75h1.5M69 161.25h3M88.5 161.25h1.5M6 162.75h1.5M88.5 162.75h1.5M7.5 164.25h1.5M88.5 164.25h1.5M7.5 165.75h3M64.5 165.75h1.5M88.5 165.75h1.5M10.5 167.25h3M63 167.25h1.5M88.5 167.25h1.5M15 168.75h16.5M78 168.75h1.5M88.5 168.75h1.5M33 170.25h4.5M46.5 170.25h1.5M78 170.25h3M88.5 170.25h1.5M78 171.75h1.5M82.5 171.75h1.5M87 171.75h3M85.5 173.25h1.5M90 173.25h1.5M73.5 174.75h1.5M90 174.75h1.5M202.5 174.75h1.5M72 176.25h1.5M79.5 176.25h4.5M202.5 176.25h1.5M235.5 176.25h1.5M84 177.75h1.5M201 177.75h1.5M235.5 177.75h1.5M109.5 179.25h3M235.5 179.25h1.5M39 180.75h1.5M106.5 180.75h1.5M114 180.75h1.5M120 180.75h1.5M235.5 180.75h1.5M37.5 182.25h1.5M105 182.25h1.5M115.5 182.25h3M121.5 182.25h1.5M235.5 182.25h1.5M37.5 183.75h1.5M105 183.75h1.5M115.5 183.75h3M121.5 183.75h1.5M235.5 183.75h1.5M37.5 185.25h1.5M90 185.25h3M114 185.25h1.5M120 185.25h1.5M235.5 185.25h1.5M39 186.75h1.5M60 186.75h1.5M235.5 186.75h1.5M235.5 188.25h1.5M43.5 189.75h1.5M235.5 189.75h1.5M235.5 191.25h1.5M196.5 192.75h1.5M235.5 192.75h1.5M235.5 194.25h1.5M235.5 195.75h1.5M51 197.25h1.5M78 197.25h1.5M84 197.25h3M202.5 197.25h1.5M54 198.75h3M60 198.75h1.5M66 198.75h1.5M87 198.75h3M202.5 198.75h1.5M67.5 200.25h1.5M76.5 200.25h1.5M88.5 200.25h1.5M76.5 201.75h1.5M201 201.75h1.5M69 203.25h1.5M76.5 203.25h3M136.5 203.25h1.5M199.5 203.25h1.5M69 204.75h3M76.5 204.75h3M88.5 204.75h1.5M198 204.75h1.5M70.5 206.25h4.5M78 206.25h3M90 206.25h1.5M70.5 207.75h4.5M81 207.75h1.5M91.5 207.75h1.5M111 207.75h1.5M135 207.75h1.5M72 209.25h3M82.5 209.25h1.5M91.5 209.25h1.5M100.5 209.25h3M112.5 209.25h1.5M72 210.75h3M85.5 210.75h1.5M90 210.75h1.5M99 210.75h1.5M112.5 210.75h1.5M196.5 210.75h1.5M72 212.25h1.5M100.5 212.25h1.5M112.5 212.25h1.5M196.5 212.25h1.5M72 213.75h1.5M112.5 213.75h1.5M196.5 213.75h1.5M72 215.25h1.5M102 215.25h1.5M196.5 215.25h1.5M72 216.75h1.5M196.5 216.75h1.5M72 218.25h1.5M196.5 218.25h1.5M196.5 219.75h1.5M124.5 221.25h3M196.5 221.25h1.5M72 222.75h1.5M123 222.75h1.5M196.5 222.75h1.5M72 224.25h1.5M123 224.25h1.5M196.5 224.25h1.5M72 225.75h1.5M196.5 225.75h1.5M102 227.25h1.5M121.5 227.25h1.5M127.5 227.25h1.5M141 227.25h1.5M196.5 227.25h1.5M73.5 228.75h1.5M102 228.75h1.5M121.5 228.75h1.5M127.5 228.75h1.5M141 228.75h1.5M196.5 228.75h1.5M75 230.25h1.5M100.5 230.25h1.5M112.5 230.25h1.5M121.5 230.25h1.5M127.5 230.25h1.5M141 230.25h3M196.5 230.25h1.5M76.5 231.75h1.5M99 231.75h1.5M112.5 231.75h1.5M120 231.75h3M142.5 231.75h1.5M196.5 231.75h1.5M78 233.25h3M96 233.25h3M120 233.25h1.5M142.5 233.25h1.5M162 233.25h1.5M82.5 234.75h12M114 234.75h1.5M139.5 234.75h1.5M160.5 234.75h3M190.5 234.75h1.5M223.5 234.75h3M235.5 234.75h1.5M118.5 236.25h1.5M129 236.25h1.5M198 236.25h1.5M222 236.25h1.5M226.5 236.25h1.5M130.5 237.75h1.5M189 237.75h1.5M199.5 237.75h1.5M211.5 237.75h9"/>
<path stroke="#400064" d="M94.5 2.25h3M111 2.25h1.5M135 2.25h3M216 2.25h1.5M30 3.75h7.5M63 3.75h3M87 3.75h1.5M120 3.75h3M130.5 3.75h3M18 5.25h3M69 5.25h1.5M84 5.25h1.5M123 5.25h1.5M130.5 5.25h1.5M219 5.25h1.5M10.5 6.75h3M73.5 6.75h3M81 6.75h3M121.5 6.75h1.5M132 6.75h1.5M6 8.25h3M120 8.25h1.5M133.5 8.25h1.5M225 8.25h1.5M4.5 9.75h1.5M135 9.75h1.5M141 9.75h1.5M226.5 9.75h1.5M114 11.25h1.5M142.5 11.25h1.5M3 12.75h1.5M108 12.75h3M93 14.25h3M133.5 14.25h1.5M142.5 14.25h1.5M229.5 14.25h3M94.5 15.75h1.5M132 15.75h1.5M136.5 15.75h1.5M141 15.75h1.5M235.5 15.75h1.5M96 17.25h1.5M129 17.25h1.5M235.5 17.25h1.5M99 18.75h1.5M123 18.75h4.5M100.5 20.25h1.5M121.5 20.25h1.5M105 21.75h3M111 23.25h1.5M120 23.25h1.5M115.5 24.75h1.5M118.5 24.75h1.5M3 26.25h1.5M3 27.75h1.5M4.5 29.25h1.5M6 30.75h1.5M73.5 30.75h1.5M7.5 32.25h3M82.5 32.25h1.5M10.5 33.75h4.5M64.5 33.75h1.5M85.5 33.75h1.5M16.5 35.25h4.5M61.5 35.25h1.5M70.5 35.25h1.5M93 35.25h3M117 35.25h1.5M198 35.25h1.5M27 36.75h7.5M46.5 36.75h1.5M60 36.75h1.5M69 36.75h1.5M78 36.75h1.5M103.5 36.75h7.5M133.5 36.75h1.5M195 36.75h1.5M201 36.75h1.5M49.5 38.25h1.5M79.5 38.25h1.5M120 38.25h1.5M172.5 38.25h1.5M52.5 39.75h1.5M177 39.75h1.5M202.5 39.75h1.5M54 41.25h4.5M81 41.25h1.5M202.5 41.25h1.5M54 42.75h6M66 42.75h1.5M120 42.75h1.5M202.5 42.75h1.5M52.5 44.25h1.5M82.5 44.25h1.5M106.5 44.25h10.5M51 45.75h1.5M84 45.75h1.5M94.5 45.75h1.5M69 47.25h1.5M85.5 47.25h1.5M91.5 47.25h1.5M43.5 51.75h1.5M40.5 54.75h1.5M21 56.25h16.5M9 57.75h3M154.5 57.75h1.5M6 59.25h1.5M6 62.25h1.5M36 62.25h1.5M39 62.25h1.5M199.5 62.25h1.5M7.5 63.75h1.5M78 63.75h1.5M12 65.25h4.5M34.5 65.25h1.5M82.5 65.25h1.5M27 66.75h3M33 66.75h1.5M40.5 66.75h1.5M82.5 66.75h1.5M159 66.75h1.5M201 66.75h1.5M36 69.75h3M34.5 71.25h3M88.5 71.25h1.5M36 72.75h1.5M88.5 72.75h3M36 74.25h1.5M90 74.25h4.5M36 75.75h1.5M66 75.75h1.5M91.5 75.75h1.5M94.5 75.75h3M37.5 77.25h1.5M64.5 77.25h1.5M67.5 77.25h1.5M93 77.25h1.5M97.5 77.25h3M10.5 78.75h12M37.5 78.75h3M67.5 78.75h1.5M94.5 78.75h3M100.5 78.75h1.5M24 80.25h1.5M39 80.25h3M67.5 80.25h1.5M97.5 80.25h1.5M103.5 80.25h1.5M172.5 80.25h1.5M27 81.75h1.5M61.5 81.75h1.5M100.5 81.75h1.5M106.5 81.75h1.5M3 83.25h1.5M30 83.25h1.5M61.5 83.25h4.5M102 83.25h3M109.5 83.25h1.5M31.5 84.75h1.5M43.5 84.75h1.5M58.5 84.75h4.5M105 84.75h3M112.5 84.75h3M181.5 84.75h1.5M33 86.25h1.5M43.5 86.25h1.5M57 86.25h1.5M60 86.25h1.5M108 86.25h3M115.5 86.25h3M121.5 86.25h3M3 87.75h1.5M33 87.75h1.5M43.5 87.75h1.5M60 87.75h1.5M112.5 87.75h1.5M118.5 87.75h1.5M124.5 87.75h3M4.5 89.25h1.5M43.5 89.25h1.5M58.5 89.25h1.5M115.5 89.25h4.5M124.5 89.25h3M7.5 90.75h1.5M28.5 90.75h3M43.5 90.75h1.5M54 90.75h1.5M123 90.75h4.5M43.5 92.25h1.5M52.5 92.25h1.5M57 92.25h1.5M84 92.25h3M121.5 92.25h6M43.5 93.75h1.5M51 93.75h1.5M55.5 93.75h1.5M82.5 93.75h1.5M87 93.75h1.5M88.5 95.25h1.5M82.5 96.75h1.5M91.5 98.25h1.5M126 98.25h1.5M226.5 98.25h1.5M42 99.75h1.5M93 99.75h1.5M127.5 99.75h1.5M183 99.75h1.5M187.5 99.75h1.5M87 101.25h1.5M94.5 101.25h1.5M124.5 101.25h1.5M130.5 101.25h1.5M133.5 101.25h4.5M183 101.25h1.5M186 101.25h1.5M204 101.25h1.5M225 101.25h1.5M40.5 102.75h1.5M90 102.75h1.5M207 102.75h1.5M39 104.25h1.5M39 105.75h1.5M132 105.75h1.5M96 107.25h1.5M130.5 107.25h1.5M202.5 107.25h1.5M46.5 108.75h1.5M97.5 108.75h1.5M54 110.25h1.5M99 110.25h1.5M103.5 110.25h1.5M57 111.75h1.5M100.5 111.75h1.5M105 111.75h1.5M106.5 113.25h1.5M124.5 113.25h1.5M58.5 114.75h1.5M108 114.75h1.5M109.5 116.25h1.5M42 117.75h1.5M57 117.75h1.5M105 117.75h1.5M111 117.75h1.5M39 119.25h1.5M55.5 119.25h1.5M106.5 119.25h1.5M13.5 120.75h3M28.5 120.75h9M54 120.75h1.5M9 122.25h3M108 122.25h1.5M115.5 122.25h1.5M7.5 123.75h1.5M55.5 123.75h1.5M108 123.75h1.5M7.5 125.25h1.5M108 125.25h1.5M9 126.75h1.5M115.5 126.75h1.5M10.5 128.25h1.5M124.5 128.25h1.5M15 129.75h22.5M109.5 129.75h1.5M37.5 131.25h1.5M114 131.25h1.5M55.5 132.75h1.5M58.5 132.75h1.5M111 132.75h1.5M202.5 132.75h1.5M39 134.25h1.5M39 135.75h1.5M121.5 135.75h1.5M132 135.75h1.5M39 137.25h1.5M133.5 137.25h3M132 138.75h1.5M183 138.75h1.5M124.5 140.25h1.5M129 140.25h1.5M181.5 140.25h1.5M225 140.25h1.5M40.5 141.75h1.5M126 141.75h1.5M184.5 141.75h3M42 143.25h1.5M87 144.75h1.5M15 146.25h10.5M45 146.25h1.5M54 146.25h3M82.5 146.25h1.5M10.5 147.75h4.5M25.5 147.75h4.5M45 147.75h1.5M51 147.75h1.5M79.5 147.75h1.5M84 147.75h3M9 149.25h1.5M30 149.25h3M45 149.25h1.5M75 149.25h3M81 149.25h1.5M7.5 150.75h1.5M33 150.75h1.5M49.5 150.75h1.5M72 150.75h3M78 150.75h1.5M6 152.25h3M34.5 152.25h1.5M69 152.25h1.5M73.5 152.25h3M6 153.75h1.5M34.5 153.75h1.5M43.5 153.75h1.5M52.5 153.75h1.5M70.5 153.75h3M6 155.25h1.5M43.5 155.25h1.5M55.5 155.25h1.5M181.5 155.25h1.5M6 156.75h1.5M34.5 156.75h1.5M57 156.75h1.5M69 156.75h1.5M6 158.25h1.5M42 158.25h1.5M235.5 158.25h1.5M6 159.75h1.5M36 159.75h3M40.5 159.75h1.5M70.5 159.75h1.5M88.5 159.75h1.5M172.5 159.75h1.5M235.5 159.75h1.5M6 161.25h1.5M72 161.25h1.5M90 161.25h1.5M235.5 161.25h1.5M7.5 162.75h1.5M70.5 162.75h4.5M90 162.75h1.5M235.5 162.75h1.5M9 164.25h1.5M72 164.25h4.5M90 164.25h1.5M235.5 164.25h1.5M10.5 165.75h3M73.5 165.75h4.5M90 165.75h1.5M235.5 165.75h1.5M13.5 167.25h6M27 167.25h4.5M75 167.25h4.5M90 167.25h1.5M235.5 167.25h1.5M31.5 168.75h4.5M76.5 168.75h1.5M79.5 168.75h1.5M87 168.75h1.5M90 168.75h1.5M235.5 168.75h1.5M37.5 170.25h1.5M81 170.25h1.5M87 170.25h1.5M90 170.25h1.5M235.5 170.25h1.5M40.5 171.75h1.5M84 171.75h3M90 171.75h1.5M235.5 171.75h1.5M159 173.25h1.5M201 173.25h1.5M235.5 173.25h1.5M235.5 174.75h1.5M91.5 177.75h1.5M199.5 177.75h1.5M40.5 179.25h1.5M84 179.25h1.5M121.5 180.75h1.5M39 182.25h1.5M85.5 182.25h1.5M93 182.25h1.5M118.5 182.25h1.5M154.5 182.25h1.5M39 183.75h1.5M93 183.75h1.5M103.5 183.75h1.5M118.5 183.75h1.5M39 185.25h1.5M106.5 185.25h1.5M40.5 186.75h1.5M42 188.25h1.5M46.5 191.25h1.5M48 192.75h1.5M69 192.75h1.5M195 192.75h1.5M198 192.75h1.5M49.5 194.25h1.5M192 194.25h1.5M201 194.25h1.5M51 195.75h1.5M79.5 195.75h6M202.5 195.75h1.5M52.5 197.25h1.5M87 197.25h3M190.5 197.25h1.5M57 198.75h3M76.5 198.75h1.5M90 198.75h3M190.5 198.75h1.5M223.5 198.75h3M90 200.25h1.5M190.5 200.25h1.5M202.5 200.25h1.5M223.5 200.25h3M69 201.75h1.5M75 201.75h1.5M88.5 201.75h1.5M190.5 201.75h1.5M223.5 201.75h3M70.5 203.25h6M88.5 203.25h1.5M190.5 203.25h1.5M223.5 203.25h3M72 204.75h4.5M151.5 204.75h1.5M223.5 204.75h3M75 206.25h3M198 206.25h1.5M223.5 206.25h3M75 207.75h6M136.5 207.75h1.5M223.5 207.75h3M75 209.25h7.5M93 209.25h3M97.5 209.25h3M223.5 209.25h3M75 210.75h1.5M84 210.75h1.5M91.5 210.75h3M96 210.75h3M223.5 210.75h3M73.5 212.25h3M87 212.25h3M99 212.25h1.5M223.5 212.25h3M73.5 213.75h1.5M100.5 213.75h1.5M223.5 213.75h3M73.5 215.25h1.5M100.5 215.25h1.5M112.5 215.25h1.5M223.5 215.25h3M73.5 216.75h1.5M102 216.75h1.5M112.5 216.75h1.5M223.5 216.75h3M102 218.25h1.5M112.5 218.25h1.5M223.5 218.25h3M72 219.75h1.5M102 219.75h1.5M112.5 219.75h1.5M124.5 219.75h1.5M223.5 219.75h3M72 221.25h1.5M102 221.25h1.5M123 221.25h1.5M223.5 221.25h3M102 222.75h1.5M121.5 222.75h1.5M127.5 222.75h1.5M223.5 222.75h3M73.5 224.25h1.5M102 224.25h1.5M112.5 224.25h1.5M121.5 224.25h1.5M127.5 224.25h1.5M141 224.25h1.5M223.5 224.25h3M73.5 225.75h1.5M102 225.75h1.5M112.5 225.75h1.5M120 225.75h3M127.5 225.75h1.5M141 225.75h1.5M223.5 225.75h3M73.5 227.25h1.5M112.5 227.25h1.5M120 227.25h1.5M142.5 227.25h1.5M223.5 227.25h3M75 228.75h1.5M100.5 228.75h1.5M112.5 228.75h1.5M120 228.75h1.5M142.5 228.75h1.5M223.5 228.75h3M76.5 230.25h1.5M99 230.25h1.5M120 230.25h1.5M162 230.25h1.5M223.5 230.25h3M78 231.75h1.5M97.5 231.75h1.5M160.5 231.75h3M223.5 231.75h3M81 233.25h3M93 233.25h3M114 233.25h1.5M139.5 233.25h1.5M160.5 233.25h1.5M190.5 233.25h1.5M222 233.25h4.5M115.5 234.75h3M129 234.75h1.5M222 234.75h1.5M226.5 234.75h1.5M144 236.25h1.5M163.5 236.25h1.5M220.5 236.25h1.5M228 236.25h1.5M234 236.25h1.5M145.5 237.75h1.5M165 237.75h1.5M201 237.75h10.5"/>
<path stroke="#43006b" d="M97.5 2.25h13.5M138 2.25h6M207 2.25h9M37.5 3.75h25.5M88.5 3.75h1.5M133.5 3.75h1.5M21 5.25h4.5M67.5 5.25h1.5M120 5.25h3M132 5.25h1.5M13.5 6.75h3M72 6.75h1.5M84 6.75h1.5M120 6.75h1.5M133.5 6.75h1.5M220.5 6.75h1.5M9 8.25h3M76.5 8.25h9M135 8.25h4.5M223.5 8.25h1.5M6 9.75h1.5M117 9.75h3M225 9.75h1.5M4.5 11.25h1.5M226.5 11.25h1.5M90 12.75h18M3 14.25h1.5M91.5 14.25h1.5M232.5 14.25h3M3 15.75h1.5M93 15.75h1.5M133.5 15.75h3M94.5 17.25h1.5M130.5 17.25h1.5M96 18.75h3M127.5 18.75h3M235.5 18.75h1.5M99 20.25h1.5M123 20.25h3M103.5 21.75h1.5M121.5 21.75h3M109.5 23.25h1.5M121.5 23.25h1.5M3 24.75h1.5M114 24.75h1.5M120 24.75h1.5M4.5 27.75h1.5M7.5 30.75h1.5M72 30.75h1.5M76.5 30.75h1.5M10.5 32.25h1.5M67.5 32.25h1.5M84 32.25h1.5M133.5 32.25h1.5M15 33.75h3M87 33.75h3M21 35.25h4.5M37.5 35.25h7.5M72 35.25h4.5M96 35.25h3M114 35.25h3M118.5 35.25h1.5M196.5 35.25h1.5M199.5 35.25h3M120 36.75h1.5M51 38.25h1.5M58.5 38.25h1.5M202.5 38.25h1.5M54 39.75h4.5M121.5 39.75h1.5M172.5 39.75h1.5M192 39.75h1.5M67.5 41.25h1.5M121.5 41.25h1.5M175.5 41.25h1.5M192 41.25h1.5M81 42.75h1.5M192 42.75h1.5M54 44.25h1.5M117 44.25h1.5M120 44.25h1.5M96 45.75h4.5M201 45.75h1.5M196.5 47.25h3M46.5 48.75h1.5M45 50.25h1.5M235.5 50.25h1.5M235.5 51.75h1.5M235.5 53.25h1.5M75 54.75h1.5M37.5 56.25h3M12 57.75h3M7.5 59.25h1.5M6 60.75h1.5M73.5 60.75h3M7.5 62.25h1.5M72 62.25h1.5M9 63.75h3M34.5 63.75h1.5M40.5 63.75h1.5M198 63.75h1.5M16.5 65.25h4.5M168 65.25h1.5M30 66.75h3M199.5 66.75h1.5M40.5 68.25h1.5M72 68.25h1.5M81 68.25h6M39 69.75h1.5M85.5 69.75h3M37.5 71.25h1.5M85.5 71.25h3M90 71.25h1.5M174 71.25h1.5M37.5 72.75h1.5M67.5 72.75h1.5M87 72.75h1.5M91.5 72.75h1.5M37.5 74.25h1.5M57 74.25h1.5M67.5 74.25h1.5M88.5 74.25h1.5M94.5 74.25h1.5M37.5 75.75h1.5M58.5 75.75h1.5M64.5 75.75h1.5M67.5 75.75h1.5M90 75.75h1.5M97.5 75.75h1.5M39 77.25h1.5M78 77.25h1.5M100.5 77.25h1.5M40.5 78.75h1.5M79.5 78.75h1.5M102 78.75h1.5M6 80.25h1.5M42 80.25h1.5M79.5 80.25h1.5M96 80.25h1.5M105 80.25h1.5M4.5 81.75h1.5M42 81.75h1.5M79.5 81.75h3M99 81.75h1.5M108 81.75h1.5M28.5 83.25h1.5M43.5 83.25h1.5M60 83.25h1.5M81 83.25h1.5M111 83.25h1.5M3 84.75h1.5M57 84.75h1.5M63 84.75h1.5M103.5 84.75h1.5M115.5 84.75h1.5M120 84.75h3M3 86.25h1.5M31.5 86.25h1.5M61.5 86.25h1.5M106.5 86.25h1.5M124.5 86.25h3M55.5 87.75h1.5M111 87.75h1.5M127.5 87.75h1.5M31.5 89.25h1.5M54 89.25h1.5M114 89.25h1.5M127.5 89.25h1.5M9 90.75h3M27 90.75h1.5M58.5 90.75h1.5M118.5 90.75h1.5M127.5 90.75h1.5M235.5 90.75h1.5M127.5 92.25h1.5M235.5 92.25h1.5M120 93.75h1.5M123 93.75h6M235.5 93.75h1.5M43.5 95.25h1.5M49.5 95.25h1.5M124.5 95.25h4.5M235.5 95.25h1.5M43.5 96.75h1.5M49.5 96.75h1.5M54 96.75h1.5M124.5 96.75h4.5M235.5 96.75h1.5M51 98.25h1.5M124.5 98.25h1.5M127.5 98.25h1.5M184.5 98.25h3M235.5 98.25h1.5M124.5 99.75h1.5M129 99.75h1.5M180 99.75h3M235.5 99.75h1.5M42 101.25h1.5M96 101.25h1.5M132 101.25h1.5M138 101.25h3M144 101.25h1.5M171 101.25h6M181.5 101.25h1.5M205.5 101.25h1.5M223.5 101.25h1.5M235.5 101.25h1.5M97.5 102.75h1.5M123 102.75h1.5M139.5 102.75h1.5M183 102.75h3M235.5 102.75h1.5M40.5 104.25h1.5M91.5 104.25h1.5M99 104.25h1.5M123 104.25h1.5M201 104.25h1.5M235.5 104.25h1.5M40.5 105.75h1.5M93 105.75h1.5M100.5 105.75h1.5M123 105.75h1.5M235.5 105.75h1.5M43.5 107.25h1.5M102 107.25h1.5M235.5 107.25h1.5M48 108.75h1.5M235.5 108.75h1.5M123 110.25h1.5M235.5 110.25h1.5M235.5 111.75h1.5M58.5 113.25h1.5M100.5 113.25h1.5M235.5 113.25h1.5M102 114.75h1.5M124.5 114.75h1.5M235.5 114.75h1.5M58.5 116.25h1.5M103.5 116.25h1.5M126 116.25h3M235.5 116.25h1.5M43.5 117.75h1.5M48 117.75h1.5M126 117.75h1.5M235.5 117.75h1.5M51 119.25h1.5M114 119.25h1.5M235.5 119.25h1.5M16.5 120.75h12M37.5 120.75h1.5M52.5 120.75h1.5M55.5 120.75h1.5M235.5 120.75h1.5M12 122.25h1.5M54 122.25h3M235.5 122.25h1.5M9 123.75h3M54 123.75h1.5M57 123.75h1.5M235.5 123.75h1.5M9 125.25h1.5M58.5 125.25h1.5M126 125.25h1.5M235.5 125.25h1.5M10.5 126.75h1.5M54 126.75h1.5M108 126.75h1.5M124.5 126.75h3M235.5 126.75h1.5M12 128.25h3M31.5 128.25h6M54 128.25h1.5M115.5 128.25h1.5M123 128.25h1.5M127.5 128.25h1.5M235.5 128.25h1.5M37.5 129.75h1.5M54 129.75h1.5M121.5 129.75h1.5M235.5 129.75h1.5M39 131.25h1.5M60 131.25h1.5M109.5 131.25h1.5M129 131.25h1.5M204 131.25h1.5M235.5 131.25h1.5M39 132.75h1.5M114 132.75h1.5M120 132.75h1.5M235.5 132.75h1.5M55.5 134.25h3M130.5 134.25h1.5M235.5 134.25h1.5M57 135.75h1.5M235.5 135.75h1.5M40.5 137.25h1.5M55.5 137.25h3M136.5 137.25h3M183 137.25h3M235.5 137.25h1.5M40.5 138.75h1.5M55.5 138.75h3M123 138.75h1.5M133.5 138.75h13.5M169.5 138.75h3M181.5 138.75h1.5M186 138.75h1.5M204 138.75h3M235.5 138.75h1.5M40.5 140.25h1.5M55.5 140.25h1.5M175.5 140.25h6M187.5 140.25h1.5M223.5 140.25h1.5M235.5 140.25h1.5M42 141.75h1.5M55.5 141.75h1.5M124.5 141.75h1.5M127.5 141.75h1.5M183 141.75h1.5M187.5 141.75h1.5M223.5 141.75h3M235.5 141.75h1.5M43.5 143.25h1.5M55.5 143.25h1.5M126 143.25h3M235.5 143.25h1.5M45 144.75h1.5M54 144.75h3M85.5 144.75h1.5M88.5 144.75h1.5M126 144.75h1.5M235.5 144.75h1.5M52.5 146.25h1.5M81 146.25h1.5M88.5 146.25h1.5M126 146.25h1.5M235.5 146.25h1.5M15 147.75h10.5M78 147.75h1.5M87 147.75h1.5M126 147.75h3M235.5 147.75h1.5M10.5 149.25h4.5M25.5 149.25h4.5M49.5 149.25h1.5M57 149.25h1.5M73.5 149.25h1.5M82.5 149.25h1.5M126 149.25h3M235.5 149.25h1.5M9 150.75h3M30 150.75h3M45 150.75h1.5M70.5 150.75h1.5M79.5 150.75h1.5M126 150.75h3M235.5 150.75h1.5M9 152.25h1.5M31.5 152.25h3M45 152.25h1.5M49.5 152.25h1.5M60 152.25h1.5M66 152.25h3M76.5 152.25h1.5M126 152.25h3M235.5 152.25h1.5M7.5 153.75h1.5M33 153.75h1.5M235.5 153.75h1.5M7.5 155.25h1.5M33 155.25h1.5M70.5 155.25h1.5M235.5 155.25h1.5M7.5 156.75h1.5M43.5 156.75h1.5M235.5 156.75h1.5M7.5 158.25h1.5M34.5 158.25h1.5M70.5 158.25h1.5M7.5 159.75h1.5M42 159.75h1.5M61.5 159.75h1.5M87 159.75h1.5M90 159.75h1.5M7.5 161.25h3M37.5 161.25h4.5M63 161.25h1.5M87 161.25h1.5M9 162.75h3M69 162.75h1.5M87 162.75h1.5M10.5 164.25h3M58.5 164.25h1.5M87 164.25h1.5M13.5 165.75h4.5M27 165.75h9M57 165.75h1.5M87 165.75h1.5M19.5 167.25h7.5M31.5 167.25h6M87 167.25h1.5M36 168.75h3M174 168.75h1.5M39 170.25h1.5M76.5 170.25h1.5M82.5 170.25h1.5M85.5 170.25h1.5M46.5 171.75h1.5M42 173.25h1.5M199.5 173.25h1.5M42 174.75h1.5M91.5 174.75h1.5M168 174.75h1.5M198 174.75h1.5M91.5 176.25h1.5M198 176.25h1.5M82.5 177.75h1.5M108 179.25h1.5M112.5 179.25h1.5M120 179.25h1.5M40.5 180.75h1.5M75 180.75h1.5M84 180.75h1.5M93 180.75h1.5M105 180.75h1.5M115.5 180.75h3M73.5 182.25h1.5M103.5 182.25h1.5M40.5 183.75h1.5M87 183.75h1.5M234 183.75h1.5M40.5 185.25h1.5M88.5 185.25h1.5M93 185.25h1.5M105 185.25h1.5M115.5 185.25h3M121.5 185.25h1.5M234 185.25h1.5M42 186.75h1.5M91.5 186.75h1.5M109.5 186.75h3M120 186.75h1.5M234 186.75h1.5M234 188.25h1.5M45 189.75h1.5M234 189.75h1.5M234 191.25h1.5M199.5 192.75h1.5M234 192.75h1.5M234 194.25h1.5M78 195.75h1.5M85.5 195.75h3M234 195.75h1.5M54 197.25h1.5M63 197.25h1.5M76.5 197.25h1.5M90 197.25h4.5M234 197.25h1.5M67.5 198.75h1.5M93 198.75h3M222 198.75h1.5M226.5 198.75h1.5M234 198.75h1.5M69 200.25h1.5M75 200.25h1.5M91.5 200.25h1.5M222 200.25h1.5M226.5 200.25h1.5M234 200.25h1.5M70.5 201.75h4.5M202.5 201.75h1.5M222 201.75h1.5M226.5 201.75h1.5M234 201.75h1.5M133.5 203.25h1.5M201 203.25h1.5M222 203.25h1.5M226.5 203.25h1.5M234 203.25h1.5M90 204.75h1.5M138 204.75h1.5M190.5 204.75h1.5M199.5 204.75h1.5M222 204.75h1.5M226.5 204.75h1.5M234 204.75h1.5M91.5 206.25h1.5M106.5 206.25h3M138 206.25h1.5M190.5 206.25h1.5M222 206.25h1.5M226.5 206.25h1.5M234 206.25h1.5M93 207.75h1.5M103.5 207.75h1.5M190.5 207.75h1.5M198 207.75h1.5M222 207.75h1.5M226.5 207.75h1.5M234 207.75h1.5M96 209.25h1.5M114 209.25h1.5M190.5 209.25h1.5M198 209.25h1.5M222 209.25h1.5M226.5 209.25h1.5M234 209.25h1.5M76.5 210.75h7.5M94.5 210.75h1.5M114 210.75h1.5M190.5 210.75h1.5M198 210.75h1.5M222 210.75h1.5M226.5 210.75h1.5M234 210.75h1.5M76.5 212.25h1.5M84 212.25h3M90 212.25h3M96 212.25h3M114 212.25h1.5M190.5 212.25h1.5M198 212.25h1.5M222 212.25h1.5M226.5 212.25h1.5M234 212.25h1.5M75 213.75h1.5M97.5 213.75h3M114 213.75h1.5M190.5 213.75h1.5M198 213.75h1.5M222 213.75h1.5M226.5 213.75h1.5M234 213.75h1.5M75 215.25h1.5M99 215.25h1.5M198 215.25h1.5M222 215.25h1.5M226.5 215.25h1.5M234 215.25h1.5M75 216.75h1.5M100.5 216.75h1.5M198 216.75h1.5M222 216.75h1.5M226.5 216.75h1.5M234 216.75h1.5M73.5 218.25h1.5M100.5 218.25h1.5M198 218.25h1.5M222 218.25h1.5M226.5 218.25h1.5M234 218.25h1.5M73.5 219.75h1.5M123 219.75h1.5M126 219.75h1.5M198 219.75h1.5M222 219.75h1.5M226.5 219.75h1.5M234 219.75h1.5M73.5 221.25h1.5M112.5 221.25h1.5M120 221.25h3M127.5 221.25h1.5M141 221.25h1.5M198 221.25h1.5M222 221.25h1.5M226.5 221.25h1.5M234 221.25h1.5M73.5 222.75h1.5M112.5 222.75h1.5M120 222.75h1.5M141 222.75h1.5M190.5 222.75h1.5M198 222.75h1.5M222 222.75h1.5M226.5 222.75h1.5M234 222.75h1.5M75 224.25h1.5M120 224.25h1.5M142.5 224.25h1.5M190.5 224.25h1.5M198 224.25h1.5M222 224.25h1.5M226.5 224.25h1.5M234 224.25h1.5M75 225.75h1.5M100.5 225.75h1.5M142.5 225.75h1.5M162 225.75h1.5M190.5 225.75h1.5M198 225.75h1.5M222 225.75h1.5M226.5 225.75h1.5M234 225.75h1.5M75 227.25h3M100.5 227.25h1.5M160.5 227.25h3M190.5 227.25h1.5M198 227.25h1.5M222 227.25h1.5M226.5 227.25h1.5M234 227.25h1.5M76.5 228.75h1.5M99 228.75h1.5M114 228.75h1.5M139.5 228.75h1.5M160.5 228.75h3M190.5 228.75h1.5M198 228.75h1.5M222 228.75h1.5M226.5 228.75h1.5M234 228.75h1.5M78 230.25h3M97.5 230.25h1.5M114 230.25h1.5M139.5 230.25h1.5M160.5 230.25h1.5M190.5 230.25h1.5M198 230.25h1.5M222 230.25h1.5M226.5 230.25h1.5M234 230.25h1.5M79.5 231.75h4.5M94.5 231.75h3M114 231.75h3M139.5 231.75h1.5M190.5 231.75h1.5M198 231.75h1.5M222 231.75h1.5M226.5 231.75h1.5M234 231.75h1.5M84 233.25h9M115.5 233.25h3M129 233.25h1.5M198 233.25h1.5M226.5 233.25h1.5M234 233.25h1.5M118.5 234.75h1.5M144 234.75h1.5M198 234.75h1.5M220.5 234.75h1.5M228 234.75h1.5M234 234.75h1.5M138 236.25h1.5M159 236.25h1.5M199.5 236.25h1.5M219 236.25h1.5M229.5 236.25h4.5M132 237.75h1.5M136.5 237.75h1.5M187.5 237.75h1.5"/>
<path stroke="#460074" d="M144 2.25h24M187.5 2.25h19.5M115.5 3.75h3M135 3.75h1.5M217.5 3.75h1.5M25.5 5.25h4.5M66 5.25h1.5M85.5 5.25h1.5M133.5 5.25h3M16.5 6.75h4.5M70.5 6.75h1.5M85.5 6.75h1.5M135 6.75h1.5M12 8.25h3M75 8.25h1.5M85.5 8.25h1.5M139.5 8.25h1.5M222 8.25h1.5M7.5 9.75h3M79.5 9.75h9M115.5 9.75h1.5M223.5 9.75h1.5M6 11.25h1.5M84 11.25h9M112.5 11.25h1.5M225 11.25h1.5M4.5 12.75h1.5M87 12.75h3M90 14.25h1.5M91.5 15.75h1.5M3 17.25h1.5M93 17.25h1.5M132 17.25h1.5M138 17.25h1.5M3 18.75h1.5M130.5 18.75h1.5M3 20.25h1.5M97.5 20.25h1.5M126 20.25h3M235.5 20.25h1.5M3 21.75h1.5M100.5 21.75h3M124.5 21.75h1.5M235.5 21.75h1.5M3 23.25h1.5M108 23.25h1.5M123 23.25h1.5M235.5 23.25h1.5M112.5 24.75h1.5M4.5 26.25h1.5M115.5 26.25h4.5M6 29.25h3M9 30.75h3M70.5 30.75h1.5M78 30.75h1.5M12 32.25h3M85.5 32.25h1.5M18 33.75h3M63 33.75h1.5M90 33.75h4.5M25.5 35.25h4.5M34.5 35.25h3M45 35.25h1.5M99 35.25h3M112.5 35.25h1.5M195 35.25h1.5M48 36.75h1.5M76.5 36.75h1.5M138 36.75h1.5M193.5 36.75h1.5M202.5 36.75h1.5M52.5 38.25h1.5M69 38.25h1.5M78 38.25h1.5M121.5 38.25h1.5M192 38.25h1.5M79.5 39.75h1.5M235.5 39.75h1.5M174 41.25h1.5M235.5 41.25h1.5M121.5 42.75h1.5M235.5 42.75h1.5M55.5 44.25h6M81 44.25h1.5M118.5 44.25h1.5M121.5 44.25h1.5M202.5 44.25h1.5M235.5 44.25h1.5M52.5 45.75h1.5M82.5 45.75h1.5M100.5 45.75h15M120 45.75h1.5M193.5 45.75h1.5M235.5 45.75h1.5M49.5 47.25h1.5M84 47.25h1.5M93 47.25h1.5M199.5 47.25h1.5M235.5 47.25h1.5M87 48.75h3M235.5 48.75h1.5M43.5 53.25h1.5M61.5 53.25h1.5M42 54.75h1.5M235.5 54.75h1.5M40.5 56.25h1.5M235.5 56.25h1.5M15 57.75h9M72 57.75h1.5M78 57.75h1.5M156 57.75h1.5M235.5 57.75h1.5M9 59.25h3M235.5 59.25h1.5M7.5 60.75h3M37.5 60.75h1.5M235.5 60.75h1.5M9 62.25h3M34.5 62.25h1.5M73.5 62.25h1.5M79.5 62.25h1.5M235.5 62.25h1.5M12 63.75h4.5M82.5 63.75h1.5M235.5 63.75h1.5M21 65.25h7.5M31.5 65.25h3M75 65.25h1.5M198 65.25h1.5M235.5 65.25h1.5M84 66.75h1.5M166.5 66.75h1.5M235.5 66.75h1.5M46.5 68.25h1.5M79.5 68.25h1.5M87 68.25h1.5M235.5 68.25h1.5M48 69.75h1.5M84 69.75h1.5M88.5 69.75h1.5M135 69.75h1.5M235.5 69.75h1.5M39 71.25h1.5M63 71.25h1.5M91.5 71.25h1.5M135 71.25h1.5M235.5 71.25h1.5M93 72.75h1.5M135 72.75h1.5M172.5 72.75h1.5M235.5 72.75h1.5M63 74.25h1.5M69 74.25h1.5M96 74.25h1.5M135 74.25h1.5M235.5 74.25h1.5M39 75.75h1.5M55.5 75.75h1.5M69 75.75h1.5M78 75.75h1.5M135 75.75h1.5M235.5 75.75h1.5M40.5 77.25h1.5M57 77.25h1.5M69 77.25h1.5M79.5 77.25h1.5M91.5 77.25h1.5M135 77.25h1.5M235.5 77.25h1.5M42 78.75h1.5M78 78.75h1.5M81 78.75h1.5M93 78.75h1.5M103.5 78.75h1.5M135 78.75h1.5M235.5 78.75h1.5M7.5 80.25h3M22.5 80.25h1.5M61.5 80.25h1.5M78 80.25h1.5M81 80.25h1.5M94.5 80.25h1.5M106.5 80.25h1.5M135 80.25h1.5M235.5 80.25h1.5M25.5 81.75h1.5M43.5 81.75h1.5M67.5 81.75h1.5M97.5 81.75h1.5M109.5 81.75h1.5M135 81.75h1.5M235.5 81.75h1.5M4.5 83.25h1.5M58.5 83.25h1.5M66 83.25h1.5M79.5 83.25h1.5M82.5 83.25h1.5M100.5 83.25h1.5M112.5 83.25h3M120 83.25h1.5M135 83.25h1.5M181.5 83.25h1.5M235.5 83.25h1.5M30 84.75h1.5M45 84.75h1.5M81 84.75h3M102 84.75h1.5M117 84.75h1.5M123 84.75h3M135 84.75h1.5M235.5 84.75h1.5M45 86.25h1.5M55.5 86.25h1.5M105 86.25h1.5M118.5 86.25h1.5M127.5 86.25h1.5M135 86.25h1.5M235.5 86.25h1.5M4.5 87.75h1.5M31.5 87.75h1.5M45 87.75h1.5M61.5 87.75h1.5M108 87.75h3M129 87.75h1.5M135 87.75h1.5M235.5 87.75h1.5M6 89.25h1.5M30 89.25h1.5M45 89.25h1.5M60 89.25h1.5M112.5 89.25h1.5M129 89.25h1.5M235.5 89.25h1.5M12 90.75h3M22.5 90.75h4.5M45 90.75h1.5M52.5 90.75h1.5M84 90.75h1.5M115.5 90.75h3M129 90.75h1.5M45 92.25h1.5M51 92.25h1.5M82.5 92.25h1.5M45 93.75h1.5M49.5 93.75h1.5M57 93.75h1.5M121.5 93.75h1.5M55.5 95.25h1.5M123 95.25h1.5M91.5 96.75h1.5M223.5 96.75h3M43.5 98.25h1.5M52.5 98.25h1.5M82.5 98.25h1.5M93 98.25h1.5M183 98.25h1.5M187.5 98.25h1.5M84 99.75h1.5M94.5 99.75h1.5M123 99.75h1.5M174 99.75h6M222 99.75h1.5M123 101.25h1.5M141 101.25h3M145.5 101.25h25.5M177 101.25h4.5M187.5 101.25h1.5M226.5 101.25h1.5M42 102.75h1.5M88.5 102.75h1.5M141 102.75h4.5M186 102.75h1.5M183 104.25h3M42 105.75h1.5M201 105.75h1.5M45 107.25h1.5M94.5 107.25h1.5M123 107.25h1.5M207 107.25h1.5M49.5 108.75h1.5M96 108.75h1.5M103.5 108.75h1.5M123 108.75h1.5M204 108.75h1.5M55.5 110.25h1.5M97.5 110.25h1.5M105 110.25h1.5M99 111.75h1.5M106.5 111.75h1.5M123 111.75h1.5M108 113.25h1.5M123 113.25h1.5M130.5 113.25h1.5M60 114.75h1.5M109.5 114.75h1.5M129 114.75h1.5M60 116.25h1.5M111 116.25h1.5M124.5 116.25h1.5M45 117.75h3M58.5 117.75h1.5M112.5 117.75h1.5M124.5 117.75h1.5M127.5 117.75h1.5M202.5 117.75h3M40.5 119.25h1.5M57 119.25h1.5M105 119.25h1.5M124.5 119.25h4.5M202.5 119.25h3M39 120.75h1.5M106.5 120.75h1.5M115.5 120.75h1.5M124.5 120.75h3M202.5 120.75h3M13.5 122.25h4.5M27 122.25h12M52.5 122.25h1.5M57 122.25h1.5M124.5 122.25h4.5M202.5 122.25h3M12 123.75h1.5M33 123.75h3M124.5 123.75h4.5M204 123.75h1.5M10.5 125.25h3M54 125.25h1.5M124.5 125.25h1.5M127.5 125.25h1.5M12 126.75h3M31.5 126.75h6M60 126.75h1.5M123 126.75h1.5M127.5 126.75h1.5M15 128.25h16.5M37.5 128.25h1.5M121.5 128.25h1.5M39 129.75h1.5M115.5 129.75h1.5M120 129.75h1.5M54 131.25h1.5M115.5 131.25h1.5M120 131.25h1.5M202.5 131.25h1.5M205.5 131.25h1.5M40.5 132.75h1.5M109.5 132.75h1.5M207 132.75h1.5M40.5 134.25h1.5M58.5 134.25h1.5M112.5 134.25h1.5M120 134.25h1.5M201 134.25h1.5M40.5 135.75h1.5M55.5 135.75h1.5M120 135.75h1.5M133.5 135.75h1.5M183 135.75h1.5M201 135.75h1.5M121.5 137.25h1.5M139.5 137.25h3M147 138.75h22.5M172.5 138.75h9M225 138.75h1.5M42 140.25h1.5M54 140.25h1.5M57 140.25h1.5M123 140.25h1.5M130.5 140.25h1.5M171 140.25h4.5M226.5 140.25h1.5M54 141.75h1.5M57 141.75h1.5M129 141.75h1.5M180 141.75h3M226.5 141.75h1.5M54 143.25h1.5M57 143.25h1.5M124.5 143.25h1.5M52.5 144.75h1.5M57 144.75h1.5M84 144.75h1.5M124.5 144.75h1.5M127.5 144.75h1.5M46.5 146.25h1.5M57 146.25h1.5M79.5 146.25h1.5M124.5 146.25h1.5M127.5 146.25h1.5M46.5 147.75h1.5M49.5 147.75h1.5M57 147.75h1.5M76.5 147.75h1.5M124.5 147.75h1.5M15 149.25h10.5M46.5 149.25h3M84 149.25h1.5M124.5 149.25h1.5M12 150.75h6M24 150.75h6M46.5 150.75h3M58.5 150.75h1.5M69 150.75h1.5M81 150.75h1.5M124.5 150.75h1.5M10.5 152.25h4.5M28.5 152.25h3M61.5 152.25h4.5M78 152.25h1.5M124.5 152.25h1.5M136.5 152.25h1.5M9 153.75h4.5M30 153.75h3M45 153.75h1.5M51 153.75h1.5M73.5 153.75h1.5M126 153.75h3M136.5 153.75h1.5M9 155.25h3M31.5 155.25h1.5M54 155.25h1.5M72 155.25h1.5M136.5 155.25h1.5M9 156.75h3M31.5 156.75h3M55.5 156.75h1.5M70.5 156.75h1.5M136.5 156.75h1.5M181.5 156.75h1.5M9 158.25h3M33 158.25h1.5M43.5 158.25h1.5M58.5 158.25h1.5M88.5 158.25h1.5M136.5 158.25h1.5M9 159.75h4.5M33 159.75h3M72 159.75h1.5M136.5 159.75h1.5M10.5 161.25h3M33 161.25h4.5M42 161.25h1.5M73.5 161.25h1.5M91.5 161.25h1.5M136.5 161.25h1.5M12 162.75h4.5M31.5 162.75h10.5M57 162.75h1.5M66 162.75h3M75 162.75h1.5M91.5 162.75h1.5M136.5 162.75h1.5M13.5 164.25h25.5M55.5 164.25h1.5M70.5 164.25h1.5M76.5 164.25h1.5M91.5 164.25h1.5M136.5 164.25h1.5M18 165.75h9M36 165.75h3M66 165.75h1.5M72 165.75h1.5M78 165.75h1.5M91.5 165.75h1.5M136.5 165.75h1.5M37.5 167.25h1.5M73.5 167.25h1.5M79.5 167.25h1.5M91.5 167.25h1.5M136.5 167.25h1.5M172.5 167.25h1.5M39 168.75h1.5M66 168.75h1.5M75 168.75h1.5M81 168.75h1.5M85.5 168.75h1.5M91.5 168.75h1.5M136.5 168.75h1.5M40.5 170.25h1.5M48 170.25h1.5M84 170.25h1.5M91.5 170.25h1.5M136.5 170.25h1.5M234 170.25h1.5M76.5 171.75h1.5M91.5 171.75h1.5M234 171.75h1.5M70.5 173.25h1.5M73.5 173.25h1.5M91.5 173.25h1.5M166.5 173.25h1.5M234 173.25h1.5M234 174.75h1.5M234 176.25h1.5M52.5 177.75h1.5M202.5 177.75h1.5M234 177.75h1.5M93 179.25h1.5M121.5 179.25h1.5M234 179.25h1.5M103.5 180.75h1.5M118.5 180.75h1.5M123 180.75h1.5M234 180.75h1.5M40.5 182.25h1.5M76.5 182.25h1.5M123 182.25h1.5M156 182.25h1.5M234 182.25h1.5M75 183.75h1.5M123 183.75h1.5M103.5 185.25h1.5M118.5 185.25h1.5M123 185.25h1.5M61.5 186.75h1.5M90 186.75h1.5M108 186.75h1.5M112.5 186.75h1.5M121.5 186.75h1.5M43.5 188.25h1.5M232.5 189.75h1.5M69 191.25h1.5M232.5 191.25h1.5M193.5 192.75h1.5M201 192.75h1.5M232.5 192.75h1.5M51 194.25h1.5M79.5 194.25h6M202.5 194.25h1.5M232.5 194.25h1.5M52.5 195.75h1.5M88.5 195.75h4.5M190.5 195.75h1.5M204 195.75h1.5M232.5 195.75h1.5M55.5 197.25h7.5M64.5 197.25h3M94.5 197.25h4.5M204 197.25h1.5M222 197.25h6M232.5 197.25h1.5M75 198.75h1.5M96 198.75h4.5M204 198.75h1.5M228 198.75h1.5M232.5 198.75h1.5M70.5 200.25h4.5M93 200.25h1.5M177 200.25h1.5M204 200.25h1.5M220.5 200.25h1.5M228 200.25h1.5M232.5 200.25h1.5M90 201.75h1.5M177 201.75h1.5M220.5 201.75h1.5M228 201.75h1.5M232.5 201.75h1.5M90 203.25h1.5M174 203.25h3M202.5 203.25h1.5M220.5 203.25h1.5M228 203.25h1.5M232.5 203.25h1.5M201 204.75h1.5M220.5 204.75h1.5M228 204.75h1.5M232.5 204.75h1.5M109.5 206.25h1.5M199.5 206.25h1.5M220.5 206.25h1.5M228 206.25h1.5M232.5 206.25h1.5M94.5 207.75h1.5M102 207.75h1.5M112.5 207.75h1.5M133.5 207.75h1.5M220.5 207.75h1.5M228 207.75h1.5M232.5 207.75h1.5M115.5 209.25h3M220.5 209.25h1.5M228 209.25h1.5M232.5 209.25h1.5M115.5 210.75h3M220.5 210.75h1.5M228 210.75h1.5M232.5 210.75h1.5M78 212.25h6M93 212.25h3M115.5 212.25h3M220.5 212.25h1.5M228 212.25h1.5M232.5 212.25h1.5M76.5 213.75h3M85.5 213.75h4.5M96 213.75h1.5M115.5 213.75h1.5M220.5 213.75h1.5M228 213.75h1.5M232.5 213.75h1.5M76.5 215.25h1.5M97.5 215.25h1.5M114 215.25h3M190.5 215.25h1.5M220.5 215.25h1.5M228 215.25h1.5M232.5 215.25h1.5M76.5 216.75h1.5M99 216.75h1.5M114 216.75h3M190.5 216.75h1.5M220.5 216.75h1.5M228 216.75h1.5M232.5 216.75h1.5M75 218.25h3M99 218.25h1.5M114 218.25h3M123 218.25h3M190.5 218.25h1.5M220.5 218.25h1.5M228 218.25h1.5M232.5 218.25h1.5M75 219.75h3M100.5 219.75h1.5M114 219.75h3M120 219.75h3M141 219.75h1.5M190.5 219.75h1.5M220.5 219.75h1.5M228 219.75h1.5M232.5 219.75h1.5M75 221.25h3M100.5 221.25h1.5M114 221.25h3M142.5 221.25h1.5M162 221.25h1.5M190.5 221.25h1.5M220.5 221.25h1.5M228 221.25h1.5M232.5 221.25h1.5M75 222.75h3M100.5 222.75h1.5M114 222.75h3M142.5 222.75h1.5M160.5 222.75h3M220.5 222.75h1.5M228 222.75h1.5M232.5 222.75h1.5M76.5 224.25h1.5M99 224.25h3M114 224.25h3M139.5 224.25h1.5M160.5 224.25h3M220.5 224.25h1.5M228 224.25h1.5M232.5 224.25h1.5M76.5 225.75h1.5M99 225.75h1.5M114 225.75h3M139.5 225.75h1.5M160.5 225.75h1.5M220.5 225.75h1.5M228 225.75h1.5M232.5 225.75h1.5M78 227.25h1.5M97.5 227.25h3M114 227.25h4.5M139.5 227.25h1.5M220.5 227.25h1.5M228 227.25h1.5M232.5 227.25h1.5M78 228.75h3M96 228.75h3M115.5 228.75h3M129 228.75h1.5M220.5 228.75h1.5M228 228.75h1.5M232.5 228.75h1.5M81 230.25h3M94.5 230.25h3M115.5 230.25h3M129 230.25h1.5M220.5 230.25h1.5M228 230.25h1.5M232.5 230.25h1.5M84 231.75h10.5M117 231.75h3M129 231.75h1.5M220.5 231.75h1.5M228 231.75h1.5M232.5 231.75h1.5M118.5 233.25h1.5M144 233.25h1.5M163.5 233.25h1.5M220.5 233.25h1.5M228 233.25h6M163.5 234.75h1.5M219 234.75h1.5M229.5 234.75h4.5M130.5 236.25h1.5M189 236.25h1.5M201 236.25h1.5M210 236.25h9M133.5 237.75h3M157.5 237.75h1.5"/>
<path stroke="#48007c" d="M168 2.25h19.5M90 3.75h3M114 3.75h1.5M118.5 3.75h1.5M136.5 3.75h3M30 5.25h6M63 5.25h3M87 5.25h1.5M136.5 5.25h1.5M21 6.75h3M69 6.75h1.5M87 6.75h1.5M136.5 6.75h3M219 6.75h1.5M15 8.25h3M72 8.25h3M87 8.25h1.5M117 8.25h3M141 8.25h1.5M220.5 8.25h1.5M10.5 9.75h3M78 9.75h1.5M88.5 9.75h3M114 9.75h1.5M142.5 9.75h1.5M222 9.75h1.5M7.5 11.25h3M81 11.25h3M93 11.25h3M109.5 11.25h3M223.5 11.25h1.5M6 12.75h1.5M85.5 12.75h1.5M226.5 12.75h1.5M4.5 14.25h1.5M87 14.25h3M228 14.25h1.5M4.5 15.75h1.5M90 15.75h1.5M142.5 15.75h1.5M234 15.75h1.5M91.5 17.25h1.5M133.5 17.25h4.5M139.5 17.25h1.5M94.5 18.75h1.5M132 18.75h1.5M96 20.25h1.5M129 20.25h1.5M97.5 21.75h3M126 21.75h1.5M106.5 23.25h1.5M124.5 23.25h1.5M4.5 24.75h1.5M111 24.75h1.5M121.5 24.75h1.5M235.5 24.75h1.5M6 26.25h1.5M120 26.25h1.5M235.5 26.25h1.5M6 27.75h3M235.5 27.75h1.5M9 29.25h1.5M235.5 29.25h1.5M12 30.75h1.5M69 30.75h1.5M79.5 30.75h3M235.5 30.75h1.5M15 32.25h3M66 32.25h1.5M87 32.25h3M138 32.25h1.5M235.5 32.25h1.5M21 33.75h4.5M94.5 33.75h1.5M115.5 33.75h3M132 33.75h1.5M196.5 33.75h6M235.5 33.75h1.5M30 35.25h4.5M46.5 35.25h1.5M102 35.25h10.5M120 35.25h1.5M132 35.25h1.5M150 35.25h1.5M202.5 35.25h1.5M235.5 35.25h1.5M49.5 36.75h1.5M58.5 36.75h1.5M70.5 36.75h1.5M75 36.75h1.5M121.5 36.75h1.5M177 36.75h1.5M235.5 36.75h1.5M54 38.25h4.5M123 38.25h1.5M235.5 38.25h1.5M69 39.75h1.5M123 39.75h1.5M79.5 41.25h1.5M123 41.25h1.5M67.5 42.75h1.5M123 42.75h1.5M61.5 44.25h1.5M192 44.25h1.5M81 45.75h1.5M115.5 45.75h3M121.5 45.75h1.5M202.5 45.75h1.5M67.5 47.25h1.5M82.5 47.25h1.5M94.5 47.25h3M120 47.25h1.5M195 47.25h1.5M201 47.25h1.5M69 48.75h1.5M85.5 48.75h1.5M90 48.75h1.5M45 51.75h1.5M73.5 54.75h1.5M76.5 54.75h1.5M78 56.25h1.5M24 57.75h16.5M165 57.75h1.5M12 59.25h7.5M37.5 59.25h1.5M72 59.25h1.5M78 59.25h1.5M10.5 60.75h4.5M36 60.75h1.5M39 60.75h1.5M72 60.75h1.5M76.5 60.75h1.5M12 62.25h4.5M40.5 62.25h1.5M52.5 62.25h1.5M75 62.25h1.5M81 62.25h1.5M202.5 62.25h1.5M16.5 63.75h6M33 63.75h1.5M75 63.75h1.5M28.5 65.25h3M69 65.25h1.5M76.5 65.25h1.5M84 65.25h1.5M157.5 65.25h1.5M75 66.75h1.5M85.5 66.75h1.5M70.5 68.25h1.5M73.5 68.25h1.5M135 68.25h3M40.5 69.75h1.5M82.5 69.75h1.5M90 69.75h1.5M133.5 69.75h1.5M136.5 69.75h1.5M84 71.25h1.5M133.5 71.25h1.5M136.5 71.25h1.5M39 72.75h1.5M85.5 72.75h1.5M94.5 72.75h1.5M133.5 72.75h1.5M136.5 72.75h1.5M39 74.25h1.5M70.5 74.25h1.5M87 74.25h1.5M133.5 74.25h1.5M136.5 74.25h1.5M181.5 74.25h1.5M40.5 75.75h1.5M70.5 75.75h1.5M76.5 75.75h1.5M79.5 75.75h1.5M88.5 75.75h1.5M99 75.75h1.5M133.5 75.75h1.5M136.5 75.75h1.5M42 77.25h1.5M76.5 77.25h1.5M81 77.25h1.5M90 77.25h1.5M102 77.25h1.5M133.5 77.25h1.5M136.5 77.25h1.5M43.5 78.75h1.5M69 78.75h1.5M76.5 78.75h1.5M91.5 78.75h1.5M105 78.75h1.5M133.5 78.75h1.5M136.5 78.75h1.5M10.5 80.25h4.5M21 80.25h1.5M43.5 80.25h1.5M82.5 80.25h1.5M108 80.25h1.5M133.5 80.25h1.5M136.5 80.25h1.5M6 81.75h1.5M24 81.75h1.5M45 81.75h1.5M60 81.75h1.5M78 81.75h1.5M82.5 81.75h1.5M96 81.75h1.5M111 81.75h1.5M120 81.75h1.5M133.5 81.75h1.5M136.5 81.75h1.5M174 81.75h1.5M27 83.25h1.5M45 83.25h1.5M57 83.25h1.5M99 83.25h1.5M115.5 83.25h1.5M121.5 83.25h3M133.5 83.25h1.5M136.5 83.25h1.5M4.5 84.75h1.5M28.5 84.75h1.5M55.5 84.75h1.5M64.5 84.75h1.5M79.5 84.75h1.5M126 84.75h3M133.5 84.75h1.5M136.5 84.75h1.5M4.5 86.25h1.5M30 86.25h1.5M63 86.25h1.5M81 86.25h3M103.5 86.25h1.5M129 86.25h1.5M133.5 86.25h1.5M136.5 86.25h1.5M6 87.75h1.5M30 87.75h1.5M54 87.75h1.5M82.5 87.75h1.5M106.5 87.75h1.5M130.5 87.75h4.5M136.5 87.75h1.5M7.5 89.25h3M28.5 89.25h1.5M52.5 89.25h1.5M82.5 89.25h3M111 89.25h1.5M130.5 89.25h1.5M133.5 89.25h4.5M204 89.25h1.5M15 90.75h7.5M51 90.75h1.5M60 90.75h1.5M82.5 90.75h1.5M85.5 90.75h1.5M114 90.75h1.5M49.5 92.25h1.5M58.5 92.25h1.5M87 92.25h1.5M118.5 92.25h1.5M129 92.25h1.5M48 93.75h1.5M88.5 93.75h1.5M129 93.75h1.5M45 95.25h4.5M81 95.25h1.5M90 95.25h1.5M120 95.25h3M129 95.25h1.5M45 96.75h1.5M48 96.75h1.5M121.5 96.75h3M129 96.75h1.5M49.5 98.25h1.5M54 98.25h1.5M123 98.25h1.5M129 98.25h1.5M181.5 98.25h1.5M222 98.25h1.5M43.5 99.75h1.5M130.5 99.75h1.5M171 99.75h3M43.5 101.25h1.5M85.5 101.25h1.5M97.5 101.25h1.5M202.5 101.25h1.5M99 102.75h1.5M121.5 102.75h1.5M145.5 102.75h28.5M181.5 102.75h1.5M42 104.25h1.5M90 104.25h1.5M100.5 104.25h1.5M121.5 104.25h1.5M139.5 104.25h1.5M43.5 105.75h1.5M91.5 105.75h1.5M121.5 105.75h1.5M138 105.75h1.5M183 105.75h1.5M132 107.25h4.5M183 107.25h1.5M51 108.75h1.5M181.5 108.75h1.5M202.5 108.75h1.5M205.5 108.75h1.5M121.5 110.25h1.5M204 110.25h1.5M121.5 111.75h1.5M60 113.25h1.5M99 113.25h1.5M202.5 113.25h3M61.5 114.75h1.5M100.5 114.75h1.5M123 114.75h1.5M202.5 114.75h3M61.5 116.25h9M102 116.25h1.5M123 116.25h1.5M202.5 116.25h3M73.5 117.75h9M103.5 117.75h1.5M123 117.75h1.5M205.5 117.75h1.5M42 119.25h1.5M49.5 119.25h1.5M123 119.25h1.5M201 119.25h1.5M205.5 119.25h1.5M40.5 120.75h1.5M51 120.75h1.5M57 120.75h1.5M120 120.75h1.5M123 120.75h1.5M127.5 120.75h1.5M201 120.75h1.5M205.5 120.75h1.5M18 122.25h9M39 122.25h1.5M106.5 122.25h1.5M120 122.25h1.5M123 122.25h1.5M205.5 122.25h1.5M13.5 123.75h19.5M36 123.75h3M58.5 123.75h1.5M120 123.75h1.5M123 123.75h1.5M202.5 123.75h1.5M205.5 123.75h1.5M13.5 125.25h25.5M120 125.25h1.5M123 125.25h1.5M202.5 125.25h3M15 126.75h16.5M37.5 126.75h1.5M120 126.75h3M202.5 126.75h3M39 128.25h1.5M108 128.25h1.5M120 128.25h1.5M204 128.25h1.5M40.5 129.75h1.5M129 129.75h1.5M202.5 129.75h3M40.5 131.25h1.5M181.5 131.25h1.5M54 132.75h1.5M115.5 132.75h1.5M130.5 132.75h1.5M181.5 132.75h3M201 132.75h1.5M42 134.25h1.5M111 134.25h1.5M114 134.25h1.5M132 134.25h1.5M183 134.25h1.5M42 135.75h1.5M54 135.75h1.5M58.5 135.75h1.5M135 135.75h3M184.5 135.75h1.5M42 137.25h1.5M54 137.25h1.5M58.5 137.25h1.5M120 137.25h1.5M142.5 137.25h3M181.5 137.25h1.5M186 137.25h1.5M42 138.75h1.5M54 138.75h1.5M58.5 138.75h1.5M121.5 138.75h1.5M223.5 138.75h1.5M226.5 138.75h1.5M121.5 140.25h1.5M132 140.25h1.5M139.5 140.25h31.5M43.5 141.75h1.5M123 141.75h1.5M177 141.75h3M45 143.25h1.5M52.5 143.25h1.5M85.5 143.25h4.5M123 143.25h1.5M129 143.25h1.5M225 143.25h1.5M46.5 144.75h1.5M82.5 144.75h1.5M90 144.75h1.5M123 144.75h1.5M129 144.75h1.5M51 146.25h1.5M78 146.25h1.5M90 146.25h1.5M123 146.25h1.5M129 146.25h1.5M48 147.75h1.5M75 147.75h1.5M88.5 147.75h1.5M123 147.75h1.5M129 147.75h1.5M58.5 149.25h1.5M72 149.25h1.5M85.5 149.25h1.5M123 149.25h1.5M129 149.25h1.5M234 149.25h1.5M18 150.75h6M60 150.75h1.5M67.5 150.75h1.5M82.5 150.75h1.5M123 150.75h1.5M129 150.75h1.5M136.5 150.75h1.5M204 150.75h1.5M234 150.75h1.5M15 152.25h13.5M46.5 152.25h3M123 152.25h1.5M129 152.25h1.5M135 152.25h1.5M138 152.25h1.5M234 152.25h1.5M13.5 153.75h16.5M46.5 153.75h1.5M49.5 153.75h1.5M75 153.75h1.5M124.5 153.75h1.5M129 153.75h1.5M135 153.75h1.5M138 153.75h1.5M234 153.75h1.5M12 155.25h19.5M45 155.25h1.5M52.5 155.25h1.5M126 155.25h1.5M135 155.25h1.5M138 155.25h1.5M234 155.25h1.5M12 156.75h12M27 156.75h4.5M45 156.75h1.5M72 156.75h1.5M135 156.75h1.5M138 156.75h1.5M234 156.75h1.5M12 158.25h10.5M28.5 158.25h4.5M45 158.25h1.5M72 158.25h1.5M87 158.25h1.5M90 158.25h1.5M135 158.25h1.5M138 158.25h1.5M174 158.25h1.5M234 158.25h1.5M13.5 159.75h10.5M27 159.75h6M43.5 159.75h1.5M91.5 159.75h1.5M135 159.75h1.5M138 159.75h1.5M234 159.75h1.5M13.5 161.25h19.5M85.5 161.25h1.5M135 161.25h1.5M138 161.25h1.5M234 161.25h1.5M16.5 162.75h15M42 162.75h1.5M64.5 162.75h1.5M85.5 162.75h1.5M135 162.75h1.5M138 162.75h1.5M234 162.75h1.5M39 164.25h3M69 164.25h1.5M85.5 164.25h1.5M135 164.25h1.5M138 164.25h1.5M234 164.25h1.5M39 165.75h1.5M85.5 165.75h1.5M135 165.75h1.5M138 165.75h1.5M181.5 165.75h1.5M234 165.75h1.5M39 167.25h1.5M81 167.25h1.5M85.5 167.25h1.5M135 167.25h1.5M138 167.25h1.5M234 167.25h1.5M63 168.75h1.5M82.5 168.75h3M135 168.75h1.5M138 168.75h1.5M234 168.75h1.5M75 170.25h1.5M135 170.25h1.5M138 170.25h1.5M42 171.75h1.5M135 171.75h4.5M76.5 173.25h1.5M135 173.25h4.5M202.5 173.25h1.5M135 174.75h4.5M157.5 174.75h1.5M42 176.25h1.5M70.5 176.25h1.5M78 176.25h1.5M135 176.25h4.5M232.5 176.25h1.5M93 177.75h1.5M120 177.75h3M135 177.75h3M232.5 177.75h1.5M82.5 179.25h1.5M106.5 179.25h1.5M114 179.25h1.5M123 179.25h1.5M232.5 179.25h1.5M232.5 180.75h1.5M84 182.25h1.5M94.5 182.25h1.5M102 182.25h1.5M165 182.25h1.5M232.5 182.25h1.5M42 183.75h1.5M85.5 183.75h1.5M94.5 183.75h1.5M102 183.75h1.5M232.5 183.75h1.5M42 185.25h1.5M87 185.25h1.5M94.5 185.25h1.5M232.5 185.25h1.5M88.5 186.75h1.5M93 186.75h1.5M105 186.75h3M114 186.75h3M231 186.75h3M120 188.25h1.5M231 188.25h3M231 189.75h1.5M48 191.25h1.5M231 191.25h1.5M49.5 192.75h1.5M67.5 192.75h1.5M231 192.75h1.5M78 194.25h1.5M85.5 194.25h4.5M204 194.25h1.5M229.5 194.25h3M54 195.75h1.5M76.5 195.75h1.5M93 195.75h4.5M222 195.75h10.5M67.5 197.25h1.5M75 197.25h1.5M99 197.25h7.5M205.5 197.25h1.5M220.5 197.25h1.5M228 197.25h4.5M69 198.75h1.5M73.5 198.75h1.5M100.5 198.75h6M174 198.75h3M205.5 198.75h1.5M220.5 198.75h1.5M229.5 198.75h3M94.5 200.25h1.5M172.5 200.25h1.5M205.5 200.25h1.5M219 200.25h1.5M229.5 200.25h3M91.5 201.75h1.5M172.5 201.75h1.5M204 201.75h1.5M219 201.75h1.5M229.5 201.75h3M204 203.25h1.5M219 203.25h1.5M229.5 203.25h3M91.5 204.75h1.5M202.5 204.75h1.5M219 204.75h1.5M229.5 204.75h3M93 206.25h1.5M105 206.25h1.5M111 206.25h1.5M201 206.25h1.5M219 206.25h1.5M229.5 206.25h3M96 207.75h6M114 207.75h1.5M117 207.75h1.5M199.5 207.75h1.5M219 207.75h1.5M229.5 207.75h3M118.5 209.25h1.5M199.5 209.25h1.5M219 209.25h1.5M229.5 209.25h3M118.5 210.75h1.5M199.5 210.75h1.5M219 210.75h1.5M229.5 210.75h3M199.5 212.25h1.5M219 212.25h1.5M229.5 212.25h3M79.5 213.75h6M90 213.75h6M117 213.75h1.5M199.5 213.75h1.5M219 213.75h1.5M229.5 213.75h3M78 215.25h4.5M93 215.25h4.5M117 215.25h1.5M199.5 215.25h1.5M219 215.25h1.5M229.5 215.25h3M78 216.75h3M96 216.75h3M117 216.75h1.5M120 216.75h1.5M141 216.75h1.5M199.5 216.75h1.5M219 216.75h1.5M229.5 216.75h3M78 218.25h1.5M97.5 218.25h1.5M117 218.25h1.5M120 218.25h3M126 218.25h1.5M141 218.25h3M162 218.25h1.5M199.5 218.25h1.5M219 218.25h1.5M229.5 218.25h3M78 219.75h1.5M97.5 219.75h3M117 219.75h1.5M127.5 219.75h1.5M142.5 219.75h1.5M160.5 219.75h3M199.5 219.75h1.5M219 219.75h1.5M229.5 219.75h3M78 221.25h1.5M97.5 221.25h3M117 221.25h1.5M139.5 221.25h1.5M160.5 221.25h1.5M199.5 221.25h1.5M219 221.25h1.5M229.5 221.25h3M78 222.75h1.5M97.5 222.75h3M117 222.75h1.5M139.5 222.75h1.5M199.5 222.75h1.5M219 222.75h1.5M229.5 222.75h3M78 224.25h3M97.5 224.25h1.5M117 224.25h1.5M129 224.25h1.5M199.5 224.25h1.5M219 224.25h1.5M229.5 224.25h3M78 225.75h3M96 225.75h3M117 225.75h3M129 225.75h1.5M199.5 225.75h1.5M219 225.75h1.5M229.5 225.75h3M79.5 227.25h3M94.5 227.25h3M118.5 227.25h1.5M129 227.25h1.5M199.5 227.25h1.5M219 227.25h1.5M229.5 227.25h3M81 228.75h4.5M91.5 228.75h4.5M118.5 228.75h1.5M144 228.75h1.5M199.5 228.75h1.5M219 228.75h1.5M229.5 228.75h3M84 230.25h10.5M118.5 230.25h1.5M144 230.25h1.5M199.5 230.25h1.5M219 230.25h1.5M229.5 230.25h3M144 231.75h1.5M163.5 231.75h1.5M199.5 231.75h1.5M219 231.75h1.5M229.5 231.75h3M138 233.25h1.5M199.5 233.25h1.5M217.5 233.25h3M138 234.75h1.5M159 234.75h1.5M189 234.75h1.5M199.5 234.75h1.5M213 234.75h6M202.5 236.25h7.5M147 237.75h1.5M166.5 237.75h1.5M186 237.75h1.5"/>
<path stroke="#4b0084" d="M93 3.75h1.5M112.5 3.75h1.5M139.5 3.75h4.5M214.5 3.75h3M36 5.25h27M88.5 5.25h1.5M115.5 5.25h4.5M138 5.25h1.5M217.5 5.25h1.5M24 6.75h4.5M67.5 6.75h1.5M117 6.75h3M139.5 6.75h1.5M18 8.25h3M70.5 8.25h1.5M88.5 8.25h1.5M115.5 8.25h1.5M142.5 8.25h1.5M13.5 9.75h3M75 9.75h3M91.5 9.75h1.5M220.5 9.75h1.5M10.5 11.25h1.5M79.5 11.25h1.5M96 11.25h4.5M108 11.25h1.5M144 11.25h1.5M222 11.25h1.5M7.5 12.75h1.5M82.5 12.75h3M144 12.75h1.5M225 12.75h1.5M6 14.25h1.5M85.5 14.25h1.5M144 14.25h1.5M6 15.75h1.5M88.5 15.75h1.5M232.5 15.75h1.5M4.5 17.25h1.5M90 17.25h1.5M141 17.25h1.5M234 17.25h1.5M4.5 18.75h1.5M93 18.75h1.5M133.5 18.75h1.5M4.5 20.25h1.5M94.5 20.25h1.5M130.5 20.25h1.5M4.5 21.75h1.5M96 21.75h1.5M127.5 21.75h1.5M4.5 23.25h1.5M103.5 23.25h3M126 23.25h1.5M6 24.75h1.5M123 24.75h3M7.5 26.25h1.5M114 26.25h1.5M121.5 26.25h1.5M9 27.75h1.5M117 27.75h3M10.5 29.25h3M75 29.25h1.5M13.5 30.75h3M82.5 30.75h4.5M18 32.25h4.5M90 32.25h3M198 32.25h4.5M25.5 33.75h4.5M39 33.75h3M96 33.75h1.5M114 33.75h1.5M118.5 33.75h1.5M195 33.75h1.5M202.5 33.75h1.5M48 35.25h1.5M60 35.25h1.5M193.5 35.25h1.5M51 36.75h3M72 36.75h3M123 36.75h1.5M172.5 36.75h1.5M192 36.75h1.5M76.5 38.25h1.5M78 39.75h1.5M204 39.75h1.5M204 41.25h1.5M79.5 42.75h1.5M63 44.25h3M123 44.25h1.5M118.5 45.75h1.5M123 45.75h1.5M51 47.25h1.5M81 47.25h1.5M97.5 47.25h9M121.5 47.25h1.5M48 48.75h1.5M84 48.75h1.5M91.5 48.75h1.5M120 48.75h1.5M46.5 50.25h1.5M75 53.25h1.5M42 56.25h1.5M72 56.25h1.5M154.5 56.25h1.5M40.5 57.75h1.5M19.5 59.25h18M39 59.25h1.5M15 60.75h12M34.5 60.75h1.5M78 60.75h3M16.5 62.25h10.5M33 62.25h1.5M70.5 62.25h1.5M76.5 62.25h3M82.5 62.25h1.5M22.5 63.75h10.5M76.5 63.75h1.5M166.5 63.75h1.5M165 65.25h1.5M42 66.75h1.5M76.5 66.75h1.5M157.5 66.75h1.5M202.5 66.75h1.5M42 68.25h1.5M78 68.25h1.5M88.5 68.25h1.5M133.5 68.25h1.5M45 69.75h1.5M81 69.75h1.5M132 69.75h1.5M138 69.75h1.5M40.5 71.25h1.5M82.5 71.25h1.5M93 71.25h1.5M120 71.25h1.5M132 71.25h1.5M138 71.25h1.5M40.5 72.75h1.5M69 72.75h4.5M84 72.75h1.5M120 72.75h1.5M132 72.75h1.5M138 72.75h1.5M175.5 72.75h1.5M40.5 74.25h1.5M58.5 74.25h1.5M72 74.25h1.5M78 74.25h3M85.5 74.25h1.5M97.5 74.25h1.5M120 74.25h3M132 74.25h1.5M138 74.25h1.5M174 74.25h1.5M42 75.75h1.5M72 75.75h1.5M75 75.75h1.5M81 75.75h1.5M87 75.75h1.5M100.5 75.75h1.5M120 75.75h3M132 75.75h1.5M138 75.75h1.5M43.5 77.25h1.5M58.5 77.25h1.5M63 77.25h1.5M70.5 77.25h1.5M75 77.25h1.5M88.5 77.25h1.5M103.5 77.25h1.5M120 77.25h3M132 77.25h1.5M138 77.25h1.5M45 78.75h1.5M82.5 78.75h1.5M106.5 78.75h1.5M120 78.75h3M132 78.75h1.5M138 78.75h1.5M15 80.25h6M45 80.25h1.5M69 80.25h1.5M76.5 80.25h1.5M93 80.25h1.5M109.5 80.25h1.5M120 80.25h3M132 80.25h1.5M138 80.25h1.5M7.5 81.75h3M22.5 81.75h1.5M84 81.75h1.5M94.5 81.75h1.5M112.5 81.75h3M121.5 81.75h3M132 81.75h1.5M138 81.75h1.5M172.5 81.75h1.5M6 83.25h1.5M25.5 83.25h1.5M46.5 83.25h1.5M78 83.25h1.5M84 83.25h1.5M97.5 83.25h1.5M117 83.25h1.5M124.5 83.25h3M132 83.25h1.5M138 83.25h1.5M6 84.75h1.5M46.5 84.75h1.5M84 84.75h1.5M100.5 84.75h1.5M118.5 84.75h1.5M129 84.75h4.5M138 84.75h1.5M183 84.75h1.5M6 86.25h1.5M28.5 86.25h1.5M46.5 86.25h1.5M54 86.25h1.5M84 86.25h1.5M102 86.25h1.5M130.5 86.25h3M138 86.25h1.5M7.5 87.75h1.5M28.5 87.75h1.5M46.5 87.75h1.5M63 87.75h1.5M84 87.75h1.5M105 87.75h1.5M138 87.75h1.5M10.5 89.25h3M25.5 89.25h3M46.5 89.25h1.5M61.5 89.25h1.5M108 89.25h3M132 89.25h1.5M138 89.25h1.5M46.5 90.75h1.5M112.5 90.75h1.5M130.5 90.75h7.5M46.5 92.25h3M115.5 92.25h3M130.5 92.25h1.5M46.5 93.75h1.5M58.5 93.75h1.5M81 93.75h1.5M234 93.75h1.5M57 95.25h1.5M234 95.25h1.5M46.5 96.75h1.5M55.5 96.75h1.5M81 96.75h1.5M120 96.75h1.5M226.5 96.75h1.5M234 96.75h1.5M45 98.25h4.5M94.5 98.25h1.5M120 98.25h3M177 98.25h4.5M228 98.25h1.5M234 98.25h1.5M45 99.75h1.5M96 99.75h1.5M120 99.75h3M132 99.75h6M139.5 99.75h31.5M189 99.75h1.5M228 99.75h1.5M234 99.75h1.5M120 101.25h3M234 101.25h1.5M43.5 102.75h1.5M87 102.75h1.5M120 102.75h1.5M174 102.75h7.5M201 102.75h1.5M234 102.75h1.5M43.5 104.25h1.5M120 104.25h1.5M141 104.25h1.5M181.5 104.25h1.5M186 104.25h1.5M234 104.25h1.5M102 105.75h1.5M120 105.75h1.5M181.5 105.75h1.5M184.5 105.75h1.5M234 105.75h1.5M46.5 107.25h1.5M93 107.25h1.5M103.5 107.25h1.5M120 107.25h3M181.5 107.25h1.5M201 107.25h1.5M234 107.25h1.5M52.5 108.75h1.5M94.5 108.75h1.5M105 108.75h1.5M120 108.75h3M132 108.75h1.5M183 108.75h1.5M234 108.75h1.5M96 110.25h1.5M106.5 110.25h1.5M120 110.25h1.5M180 110.25h3M202.5 110.25h1.5M205.5 110.25h1.5M234 110.25h1.5M58.5 111.75h1.5M97.5 111.75h1.5M108 111.75h1.5M120 111.75h1.5M180 111.75h3M202.5 111.75h3M234 111.75h1.5M109.5 113.25h1.5M120 113.25h3M181.5 113.25h1.5M205.5 113.25h1.5M234 113.25h1.5M63 114.75h3M111 114.75h1.5M120 114.75h3M201 114.75h1.5M205.5 114.75h1.5M234 114.75h1.5M70.5 116.25h10.5M112.5 116.25h1.5M120 116.25h3M129 116.25h1.5M201 116.25h1.5M205.5 116.25h1.5M234 116.25h1.5M60 117.75h13.5M82.5 117.75h9M114 117.75h1.5M120 117.75h3M201 117.75h1.5M234 117.75h1.5M43.5 119.25h6M58.5 119.25h1.5M78 119.25h15M103.5 119.25h1.5M115.5 119.25h1.5M120 119.25h3M234 119.25h1.5M42 120.75h1.5M90 120.75h3M105 120.75h1.5M121.5 120.75h1.5M234 120.75h1.5M40.5 122.25h1.5M51 122.25h1.5M117 122.25h1.5M121.5 122.25h1.5M201 122.25h1.5M234 122.25h1.5M39 123.75h1.5M52.5 123.75h1.5M117 123.75h1.5M121.5 123.75h1.5M201 123.75h1.5M234 123.75h1.5M39 125.25h1.5M52.5 125.25h1.5M60 125.25h1.5M117 125.25h1.5M121.5 125.25h1.5M201 125.25h1.5M205.5 125.25h1.5M234 125.25h1.5M39 126.75h3M117 126.75h1.5M129 126.75h1.5M180 126.75h1.5M201 126.75h1.5M205.5 126.75h1.5M234 126.75h1.5M40.5 128.25h1.5M129 128.25h1.5M180 128.25h1.5M202.5 128.25h1.5M205.5 128.25h1.5M234 128.25h1.5M42 129.75h1.5M108 129.75h1.5M180 129.75h3M205.5 129.75h1.5M234 129.75h1.5M42 131.25h1.5M108 131.25h1.5M183 131.25h1.5M207 131.25h1.5M234 131.25h1.5M42 132.75h1.5M60 132.75h1.5M234 132.75h1.5M54 134.25h1.5M109.5 134.25h1.5M181.5 134.25h1.5M184.5 134.25h1.5M208.5 134.25h1.5M234 134.25h1.5M43.5 135.75h1.5M138 135.75h1.5M181.5 135.75h1.5M208.5 135.75h1.5M234 135.75h1.5M43.5 137.25h1.5M145.5 137.25h28.5M180 137.25h1.5M201 137.25h1.5M234 137.25h1.5M43.5 138.75h1.5M120 138.75h1.5M187.5 138.75h1.5M202.5 138.75h1.5M234 138.75h1.5M43.5 140.25h1.5M52.5 140.25h1.5M58.5 140.25h1.5M120 140.25h1.5M133.5 140.25h6M222 140.25h1.5M228 140.25h1.5M234 140.25h1.5M45 141.75h1.5M52.5 141.75h1.5M58.5 141.75h1.5M120 141.75h3M130.5 141.75h1.5M174 141.75h3M222 141.75h1.5M228 141.75h1.5M234 141.75h1.5M46.5 143.25h1.5M58.5 143.25h1.5M120 143.25h3M223.5 143.25h1.5M226.5 143.25h1.5M234 143.25h1.5M51 144.75h1.5M81 144.75h1.5M120 144.75h3M234 144.75h1.5M48 146.25h3M76.5 146.25h1.5M120 146.25h3M234 146.25h1.5M58.5 147.75h1.5M73.5 147.75h1.5M90 147.75h1.5M120 147.75h3M234 147.75h1.5M70.5 149.25h1.5M87 149.25h1.5M121.5 149.25h1.5M61.5 150.75h1.5M66 150.75h1.5M84 150.75h1.5M121.5 150.75h1.5M130.5 150.75h1.5M133.5 150.75h3M138 150.75h1.5M79.5 152.25h1.5M121.5 152.25h1.5M130.5 152.25h4.5M139.5 152.25h1.5M48 153.75h1.5M76.5 153.75h1.5M123 153.75h1.5M130.5 153.75h1.5M133.5 153.75h1.5M139.5 153.75h1.5M46.5 155.25h1.5M51 155.25h1.5M73.5 155.25h1.5M123 155.25h3M127.5 155.25h1.5M133.5 155.25h1.5M139.5 155.25h1.5M183 155.25h1.5M24 156.75h3M46.5 156.75h1.5M54 156.75h1.5M133.5 156.75h1.5M139.5 156.75h1.5M22.5 158.25h6M57 158.25h1.5M91.5 158.25h1.5M133.5 158.25h1.5M139.5 158.25h1.5M172.5 158.25h1.5M24 159.75h3M45 159.75h1.5M60 159.75h1.5M73.5 159.75h1.5M85.5 159.75h1.5M133.5 159.75h1.5M139.5 159.75h1.5M43.5 161.25h1.5M75 161.25h1.5M133.5 161.25h1.5M139.5 161.25h1.5M43.5 162.75h1.5M58.5 162.75h1.5M76.5 162.75h1.5M133.5 162.75h1.5M139.5 162.75h1.5M42 164.25h1.5M78 164.25h1.5M133.5 164.25h1.5M139.5 164.25h1.5M232.5 164.25h1.5M40.5 165.75h1.5M58.5 165.75h1.5M63 165.75h1.5M70.5 165.75h1.5M79.5 165.75h1.5M133.5 165.75h1.5M139.5 165.75h1.5M174 165.75h1.5M232.5 165.75h1.5M40.5 167.25h1.5M82.5 167.25h3M133.5 167.25h1.5M139.5 167.25h1.5M175.5 167.25h1.5M232.5 167.25h1.5M40.5 168.75h1.5M73.5 168.75h1.5M133.5 168.75h1.5M139.5 168.75h1.5M232.5 168.75h1.5M42 170.25h1.5M45 170.25h1.5M133.5 170.25h1.5M139.5 170.25h1.5M232.5 170.25h1.5M133.5 171.75h1.5M139.5 171.75h1.5M232.5 171.75h1.5M93 173.25h1.5M133.5 173.25h1.5M157.5 173.25h1.5M232.5 173.25h1.5M76.5 174.75h1.5M93 174.75h1.5M120 174.75h1.5M133.5 174.75h1.5M165 174.75h1.5M232.5 174.75h1.5M73.5 176.25h1.5M93 176.25h1.5M120 176.25h3M133.5 176.25h1.5M166.5 176.25h1.5M204 176.25h1.5M231 176.25h1.5M42 177.75h1.5M81 177.75h1.5M123 177.75h1.5M133.5 177.75h1.5M138 177.75h1.5M231 177.75h1.5M105 179.25h1.5M115.5 179.25h3M124.5 179.25h1.5M135 179.25h3M231 179.25h1.5M73.5 180.75h1.5M94.5 180.75h1.5M102 180.75h1.5M124.5 180.75h1.5M231 180.75h1.5M42 182.25h1.5M124.5 182.25h1.5M229.5 182.25h3M84 183.75h1.5M124.5 183.75h1.5M154.5 183.75h1.5M229.5 183.75h3M102 185.25h1.5M124.5 185.25h1.5M229.5 185.25h3M43.5 186.75h1.5M94.5 186.75h1.5M103.5 186.75h1.5M117 186.75h3M123 186.75h1.5M228 186.75h3M90 188.25h3M121.5 188.25h1.5M228 188.25h3M46.5 189.75h1.5M120 189.75h1.5M226.5 189.75h4.5M196.5 191.25h4.5M225 191.25h6M79.5 192.75h9M202.5 192.75h3M223.5 192.75h7.5M52.5 194.25h1.5M76.5 194.25h1.5M90 194.25h6M205.5 194.25h1.5M222 194.25h7.5M55.5 195.75h1.5M75 195.75h1.5M97.5 195.75h7.5M205.5 195.75h1.5M219 195.75h3M69 197.25h1.5M73.5 197.25h1.5M106.5 197.25h6M207 197.25h1.5M217.5 197.25h3M70.5 198.75h3M106.5 198.75h7.5M207 198.75h3M214.5 198.75h6M96 200.25h3M189 200.25h1.5M207 200.25h3M211.5 200.25h7.5M93 201.75h1.5M189 201.75h1.5M205.5 201.75h13.5M91.5 203.25h1.5M205.5 203.25h13.5M132 204.75h1.5M150 204.75h1.5M204 204.75h3M208.5 204.75h10.5M103.5 206.25h1.5M202.5 206.25h3M210 206.25h9M115.5 207.75h1.5M118.5 207.75h1.5M201 207.75h3M210 207.75h9M201 209.25h1.5M210 209.25h9M201 210.75h1.5M208.5 210.75h10.5M118.5 212.25h1.5M201 212.25h1.5M208.5 212.25h10.5M118.5 213.75h3M201 213.75h1.5M208.5 213.75h10.5M82.5 215.25h10.5M118.5 215.25h3M141 215.25h1.5M162 215.25h1.5M201 215.25h1.5M208.5 215.25h10.5M81 216.75h15M118.5 216.75h1.5M121.5 216.75h4.5M142.5 216.75h1.5M160.5 216.75h3M201 216.75h1.5M208.5 216.75h10.5M79.5 218.25h7.5M91.5 218.25h6M118.5 218.25h1.5M160.5 218.25h1.5M201 218.25h1.5M208.5 218.25h10.5M79.5 219.75h6M93 219.75h4.5M118.5 219.75h1.5M139.5 219.75h1.5M201 219.75h1.5M208.5 219.75h10.5M79.5 221.25h7.5M93 221.25h4.5M118.5 221.25h1.5M129 221.25h1.5M201 221.25h1.5M210 221.25h9M79.5 222.75h9M91.5 222.75h6M118.5 222.75h1.5M129 222.75h1.5M201 222.75h1.5M210 222.75h9M81 224.25h16.5M118.5 224.25h1.5M201 224.25h1.5M210 224.25h9M81 225.75h15M144 225.75h1.5M210 225.75h9M82.5 227.25h12M144 227.25h1.5M163.5 227.25h1.5M210 227.25h9M85.5 228.75h6M163.5 228.75h1.5M210 228.75h9M138 230.25h1.5M163.5 230.25h1.5M210 230.25h9M138 231.75h1.5M159 231.75h1.5M189 231.75h1.5M201 231.75h1.5M210 231.75h9M130.5 233.25h1.5M159 233.25h1.5M189 233.25h1.5M201 233.25h1.5M208.5 233.25h9M130.5 234.75h1.5M201 234.75h12M132 236.25h1.5M136.5 236.25h1.5M145.5 236.25h1.5M165 236.25h1.5M168 237.75h1.5M184.5 237.75h1.5"/>
<path stroke="#4e008d" d="M94.5 3.75h3M109.5 3.75h3M144 3.75h18M193.5 3.75h21M90 5.25h1.5M114 5.25h1.5M139.5 5.25h3M216 5.25h1.5M28.5 6.75h4.5M64.5 6.75h3M88.5 6.75h1.5M115.5 6.75h1.5M141 6.75h1.5M217.5 6.75h1.5M21 8.25h3M69 8.25h1.5M90 8.25h1.5M114 8.25h1.5M219 8.25h1.5M16.5 9.75h3M73.5 9.75h1.5M93 9.75h1.5M112.5 9.75h1.5M144 9.75h1.5M12 11.25h3M78 11.25h1.5M100.5 11.25h7.5M220.5 11.25h1.5M9 12.75h3M81 12.75h1.5M222 12.75h3M7.5 14.25h3M84 14.25h1.5M7.5 15.75h1.5M87 15.75h1.5M231 15.75h1.5M6 17.25h1.5M88.5 17.25h1.5M6 18.75h1.5M91.5 18.75h1.5M135 18.75h3M234 18.75h1.5M6 20.25h1.5M91.5 20.25h3M132 20.25h1.5M234 20.25h1.5M6 21.75h1.5M93 21.75h3M129 21.75h3M6 23.25h1.5M99 23.25h4.5M127.5 23.25h1.5M7.5 24.75h1.5M109.5 24.75h1.5M126 24.75h1.5M9 26.25h1.5M112.5 26.25h1.5M123 26.25h1.5M10.5 27.75h3M115.5 27.75h1.5M120 27.75h1.5M13.5 29.25h3M73.5 29.25h1.5M76.5 29.25h1.5M117 29.25h1.5M16.5 30.75h3M67.5 30.75h1.5M87 30.75h4.5M135 30.75h1.5M199.5 30.75h3M22.5 32.25h3M64.5 32.25h1.5M93 32.25h1.5M115.5 32.25h3M196.5 32.25h1.5M202.5 32.25h1.5M30 33.75h9M42 33.75h3M61.5 33.75h1.5M97.5 33.75h3M112.5 33.75h1.5M120 33.75h1.5M151.5 33.75h1.5M193.5 33.75h1.5M204 33.75h1.5M49.5 35.25h1.5M121.5 35.25h1.5M174 35.25h3M192 35.25h1.5M204 35.25h1.5M54 36.75h4.5M204 36.75h1.5M70.5 38.25h1.5M75 38.25h1.5M124.5 38.25h1.5M135 38.25h3M190.5 38.25h1.5M204 38.25h1.5M124.5 39.75h1.5M190.5 39.75h1.5M69 41.25h1.5M78 41.25h1.5M124.5 41.25h1.5M177 41.25h1.5M190.5 41.25h1.5M124.5 42.75h1.5M190.5 42.75h1.5M204 42.75h1.5M66 44.25h3M79.5 44.25h1.5M124.5 44.25h1.5M204 44.25h1.5M234 44.25h1.5M54 45.75h1.5M79.5 45.75h1.5M192 45.75h1.5M234 45.75h1.5M106.5 47.25h12M123 47.25h1.5M193.5 47.25h1.5M202.5 47.25h1.5M234 47.25h1.5M82.5 48.75h1.5M93 48.75h3M121.5 48.75h3M196.5 48.75h4.5M234 48.75h1.5M120 50.25h4.5M234 50.25h1.5M120 51.75h3M234 51.75h1.5M73.5 53.25h1.5M76.5 53.25h1.5M120 53.25h3M234 53.25h1.5M43.5 54.75h1.5M60 54.75h1.5M78 54.75h1.5M120 54.75h1.5M234 54.75h1.5M156 56.25h1.5M234 56.25h1.5M79.5 57.75h1.5M234 57.75h1.5M79.5 59.25h1.5M234 59.25h1.5M27 60.75h7.5M40.5 60.75h1.5M54 60.75h1.5M81 60.75h1.5M234 60.75h1.5M27 62.25h6M198 62.25h1.5M234 62.25h1.5M69 63.75h1.5M84 63.75h1.5M204 63.75h1.5M42 65.25h1.5M85.5 65.25h1.5M160.5 65.25h1.5M69 66.75h1.5M87 66.75h1.5M120 66.75h4.5M133.5 66.75h4.5M160.5 66.75h1.5M48 68.25h1.5M75 68.25h1.5M120 68.25h6M132 68.25h1.5M138 68.25h1.5M42 69.75h1.5M72 69.75h3M79.5 69.75h1.5M91.5 69.75h1.5M120 69.75h6M130.5 69.75h1.5M42 71.25h1.5M46.5 71.25h1.5M67.5 71.25h1.5M70.5 71.25h4.5M81 71.25h1.5M121.5 71.25h4.5M130.5 71.25h1.5M42 72.75h1.5M73.5 72.75h1.5M81 72.75h3M96 72.75h1.5M121.5 72.75h4.5M130.5 72.75h1.5M42 74.25h1.5M55.5 74.25h1.5M73.5 74.25h4.5M81 74.25h4.5M99 74.25h1.5M123 74.25h3M130.5 74.25h1.5M43.5 75.75h1.5M63 75.75h1.5M73.5 75.75h1.5M82.5 75.75h1.5M85.5 75.75h1.5M102 75.75h1.5M123 75.75h3M130.5 75.75h1.5M45 77.25h1.5M55.5 77.25h1.5M72 77.25h1.5M82.5 77.25h1.5M87 77.25h1.5M105 77.25h1.5M123 77.25h3M130.5 77.25h1.5M46.5 78.75h1.5M61.5 78.75h1.5M70.5 78.75h1.5M75 78.75h1.5M90 78.75h1.5M108 78.75h1.5M123 78.75h3M130.5 78.75h1.5M172.5 78.75h3M46.5 80.25h1.5M84 80.25h1.5M91.5 80.25h1.5M111 80.25h3M123 80.25h4.5M130.5 80.25h1.5M10.5 81.75h3M21 81.75h1.5M46.5 81.75h1.5M58.5 81.75h1.5M76.5 81.75h1.5M93 81.75h1.5M115.5 81.75h1.5M124.5 81.75h4.5M130.5 81.75h1.5M234 81.75h1.5M7.5 83.25h1.5M24 83.25h1.5M55.5 83.25h1.5M67.5 83.25h1.5M96 83.25h1.5M127.5 83.25h4.5M183 83.25h1.5M234 83.25h1.5M7.5 84.75h1.5M27 84.75h1.5M66 84.75h1.5M78 84.75h1.5M99 84.75h1.5M234 84.75h1.5M7.5 86.25h1.5M27 86.25h1.5M64.5 86.25h1.5M79.5 86.25h1.5M100.5 86.25h1.5M234 86.25h1.5M9 87.75h1.5M27 87.75h1.5M48 87.75h1.5M52.5 87.75h1.5M81 87.75h1.5M103.5 87.75h1.5M234 87.75h1.5M13.5 89.25h12M48 89.25h4.5M81 89.25h1.5M85.5 89.25h1.5M106.5 89.25h1.5M234 89.25h1.5M48 90.75h3M61.5 90.75h1.5M81 90.75h1.5M87 90.75h1.5M111 90.75h1.5M138 90.75h1.5M234 90.75h1.5M60 92.25h1.5M81 92.25h1.5M114 92.25h1.5M132 92.25h1.5M234 92.25h1.5M130.5 93.75h1.5M91.5 95.25h1.5M130.5 95.25h1.5M93 96.75h1.5M130.5 96.75h1.5M81 98.25h1.5M130.5 98.25h1.5M174 98.25h3M189 98.25h1.5M46.5 99.75h7.5M82.5 99.75h1.5M97.5 99.75h1.5M138 99.75h1.5M45 101.25h1.5M99 101.25h1.5M189 101.25h1.5M222 101.25h1.5M228 101.25h1.5M100.5 102.75h1.5M187.5 102.75h1.5M225 102.75h1.5M88.5 104.25h1.5M142.5 104.25h1.5M208.5 104.25h1.5M45 105.75h1.5M90 105.75h1.5M48 107.25h1.5M91.5 107.25h1.5M136.5 107.25h1.5M184.5 107.25h1.5M54 108.75h1.5M93 108.75h1.5M180 108.75h1.5M201 108.75h1.5M207 108.75h1.5M57 110.25h1.5M94.5 110.25h1.5M132 110.25h1.5M183 110.25h1.5M201 110.25h1.5M96 111.75h1.5M132 111.75h1.5M201 111.75h1.5M205.5 111.75h1.5M61.5 113.25h1.5M97.5 113.25h1.5M180 113.25h1.5M201 113.25h1.5M66 114.75h6M99 114.75h1.5M130.5 114.75h1.5M180 114.75h3M81 116.25h7.5M100.5 116.25h1.5M114 116.25h1.5M180 116.25h3M91.5 117.75h1.5M102 117.75h1.5M115.5 117.75h1.5M129 117.75h1.5M180 117.75h3M199.5 117.75h1.5M207 117.75h1.5M60 119.25h1.5M70.5 119.25h7.5M93 119.25h1.5M129 119.25h1.5M180 119.25h3M199.5 119.25h1.5M207 119.25h1.5M43.5 120.75h3M49.5 120.75h1.5M58.5 120.75h1.5M84 120.75h6M117 120.75h1.5M129 120.75h1.5M180 120.75h3M199.5 120.75h1.5M207 120.75h1.5M42 122.25h1.5M58.5 122.25h1.5M129 122.25h1.5M180 122.25h3M199.5 122.25h1.5M207 122.25h1.5M40.5 123.75h3M51 123.75h1.5M106.5 123.75h1.5M129 123.75h1.5M180 123.75h3M207 123.75h1.5M40.5 125.25h3M106.5 125.25h1.5M129 125.25h1.5M180 125.25h3M207 125.25h1.5M42 126.75h1.5M52.5 126.75h1.5M181.5 126.75h1.5M42 128.25h1.5M52.5 128.25h1.5M61.5 128.25h1.5M117 128.25h1.5M181.5 128.25h1.5M201 128.25h1.5M43.5 129.75h1.5M52.5 129.75h1.5M61.5 129.75h1.5M117 129.75h1.5M183 129.75h1.5M201 129.75h1.5M207 129.75h1.5M232.5 129.75h1.5M43.5 131.25h1.5M117 131.25h1.5M130.5 131.25h1.5M180 131.25h1.5M201 131.25h1.5M232.5 131.25h1.5M43.5 132.75h1.5M108 132.75h1.5M117 132.75h1.5M180 132.75h1.5M232.5 132.75h1.5M43.5 134.25h1.5M60 134.25h1.5M115.5 134.25h1.5M133.5 134.25h1.5M232.5 134.25h1.5M45 135.75h1.5M52.5 135.75h1.5M60 135.75h1.5M111 135.75h4.5M139.5 135.75h1.5M186 135.75h1.5M232.5 135.75h1.5M45 137.25h1.5M52.5 137.25h1.5M60 137.25h1.5M174 137.25h6M223.5 137.25h4.5M232.5 137.25h1.5M45 138.75h1.5M52.5 138.75h1.5M207 138.75h1.5M222 138.75h1.5M228 138.75h1.5M232.5 138.75h1.5M45 140.25h1.5M189 140.25h1.5M229.5 140.25h1.5M232.5 140.25h1.5M46.5 141.75h1.5M169.5 141.75h4.5M189 141.75h1.5M229.5 141.75h1.5M232.5 141.75h1.5M51 143.25h1.5M84 143.25h1.5M90 143.25h1.5M130.5 143.25h1.5M228 143.25h1.5M232.5 143.25h1.5M48 144.75h3M58.5 144.75h1.5M79.5 144.75h1.5M130.5 144.75h1.5M232.5 144.75h1.5M58.5 146.25h1.5M75 146.25h1.5M130.5 146.25h1.5M232.5 146.25h1.5M72 147.75h1.5M130.5 147.75h1.5M232.5 147.75h1.5M60 149.25h1.5M69 149.25h1.5M88.5 149.25h1.5M120 149.25h1.5M130.5 149.25h9M232.5 149.25h1.5M63 150.75h3M85.5 150.75h1.5M120 150.75h1.5M132 150.75h1.5M139.5 150.75h1.5M232.5 150.75h1.5M81 152.25h3M120 152.25h1.5M232.5 152.25h1.5M78 153.75h1.5M120 153.75h3M132 153.75h1.5M232.5 153.75h1.5M48 155.25h3M75 155.25h1.5M120 155.25h3M129 155.25h4.5M232.5 155.25h1.5M48 156.75h1.5M73.5 156.75h1.5M87 156.75h4.5M120 156.75h9M132 156.75h1.5M183 156.75h1.5M232.5 156.75h1.5M46.5 158.25h1.5M73.5 158.25h1.5M85.5 158.25h1.5M120 158.25h6M132 158.25h1.5M232.5 158.25h1.5M46.5 159.75h1.5M58.5 159.75h1.5M75 159.75h1.5M84 159.75h1.5M93 159.75h1.5M120 159.75h4.5M132 159.75h1.5M232.5 159.75h1.5M45 161.25h1.5M76.5 161.25h1.5M84 161.25h1.5M93 161.25h1.5M121.5 161.25h3M132 161.25h1.5M172.5 161.25h3M232.5 161.25h1.5M45 162.75h1.5M55.5 162.75h1.5M78 162.75h1.5M84 162.75h1.5M93 162.75h1.5M120 162.75h4.5M132 162.75h1.5M232.5 162.75h1.5M43.5 164.25h1.5M64.5 164.25h4.5M79.5 164.25h1.5M84 164.25h1.5M93 164.25h1.5M120 164.25h4.5M132 164.25h1.5M42 165.75h1.5M55.5 165.75h1.5M81 165.75h4.5M93 165.75h1.5M120 165.75h4.5M132 165.75h1.5M42 167.25h1.5M72 167.25h1.5M93 167.25h1.5M120 167.25h4.5M132 167.25h1.5M231 167.25h1.5M42 168.75h1.5M46.5 168.75h1.5M93 168.75h1.5M120 168.75h4.5M132 168.75h1.5M231 168.75h1.5M43.5 170.25h1.5M93 170.25h1.5M120 170.25h6M132 170.25h1.5M231 170.25h1.5M43.5 171.75h3M48 171.75h1.5M75 171.75h1.5M93 171.75h1.5M120 171.75h6M132 171.75h1.5M231 171.75h1.5M43.5 173.25h1.5M75 173.25h1.5M120 173.25h6M132 173.25h1.5M139.5 173.25h1.5M160.5 173.25h1.5M231 173.25h1.5M121.5 174.75h4.5M132 174.75h1.5M139.5 174.75h1.5M160.5 174.75h1.5M204 174.75h1.5M229.5 174.75h3M123 176.25h3M132 176.25h1.5M139.5 176.25h1.5M229.5 176.25h1.5M94.5 177.75h1.5M109.5 177.75h4.5M124.5 177.75h1.5M139.5 177.75h1.5M198 177.75h1.5M229.5 177.75h1.5M42 179.25h1.5M54 179.25h1.5M94.5 179.25h1.5M103.5 179.25h1.5M118.5 179.25h1.5M133.5 179.25h1.5M138 179.25h1.5M201 179.25h1.5M228 179.25h3M42 180.75h1.5M76.5 180.75h1.5M82.5 180.75h1.5M126 180.75h1.5M228 180.75h3M82.5 182.25h1.5M96 182.25h1.5M100.5 182.25h1.5M126 182.25h1.5M228 182.25h1.5M73.5 183.75h1.5M76.5 183.75h1.5M96 183.75h1.5M100.5 183.75h1.5M126 183.75h1.5M156 183.75h1.5M226.5 183.75h3M43.5 185.25h1.5M60 185.25h1.5M85.5 185.25h1.5M96 185.25h1.5M100.5 185.25h1.5M225 185.25h4.5M87 186.75h1.5M102 186.75h1.5M124.5 186.75h1.5M225 186.75h3M45 188.25h1.5M88.5 188.25h1.5M93 188.25h3M103.5 188.25h13.5M123 188.25h1.5M223.5 188.25h4.5M90 189.75h3M121.5 189.75h3M222 189.75h4.5M81 191.25h4.5M120 191.25h3M195 191.25h1.5M201 191.25h3M219 191.25h6M51 192.75h1.5M70.5 192.75h1.5M78 192.75h1.5M88.5 192.75h7.5M120 192.75h1.5M192 192.75h1.5M205.5 192.75h18M69 194.25h1.5M96 194.25h9M120 194.25h1.5M190.5 194.25h1.5M207 194.25h15M57 195.75h3M73.5 195.75h1.5M105 195.75h9M120 195.75h1.5M207 195.75h12M70.5 197.25h3M112.5 197.25h6M120 197.25h1.5M189 197.25h1.5M208.5 197.25h9M114 198.75h4.5M120 198.75h1.5M189 198.75h1.5M210 198.75h4.5M99 200.25h13.5M117 200.25h1.5M210 200.25h1.5M94.5 201.75h1.5M93 203.25h1.5M138 203.25h1.5M189 203.25h1.5M93 204.75h1.5M106.5 204.75h4.5M189 204.75h1.5M207 204.75h1.5M94.5 206.25h3M102 206.25h1.5M112.5 206.25h1.5M132 206.25h1.5M189 206.25h1.5M205.5 206.25h4.5M138 207.75h1.5M189 207.75h1.5M204 207.75h6M120 209.25h1.5M189 209.25h1.5M202.5 209.25h7.5M120 210.75h1.5M202.5 210.75h6M120 212.25h1.5M202.5 212.25h6M121.5 213.75h1.5M141 213.75h1.5M162 213.75h1.5M202.5 213.75h6M121.5 215.25h4.5M142.5 215.25h1.5M160.5 215.25h1.5M202.5 215.25h6M126 216.75h1.5M139.5 216.75h1.5M202.5 216.75h6M87 218.25h4.5M127.5 218.25h1.5M139.5 218.25h1.5M202.5 218.25h6M85.5 219.75h7.5M129 219.75h1.5M202.5 219.75h6M87 221.25h6M163.5 221.25h1.5M202.5 221.25h7.5M88.5 222.75h3M144 222.75h1.5M163.5 222.75h1.5M202.5 222.75h7.5M144 224.25h1.5M163.5 224.25h1.5M202.5 224.25h7.5M138 225.75h1.5M163.5 225.75h1.5M201 225.75h9M138 227.25h1.5M189 227.25h1.5M201 227.25h9M138 228.75h1.5M159 228.75h1.5M189 228.75h1.5M201 228.75h9M130.5 230.25h1.5M159 230.25h1.5M189 230.25h1.5M201 230.25h9M130.5 231.75h1.5M202.5 231.75h7.5M202.5 233.25h6M145.5 234.75h1.5M135 236.25h1.5M157.5 236.25h1.5M187.5 236.25h1.5M148.5 237.75h1.5M156 237.75h1.5M169.5 237.75h1.5M183 237.75h1.5"/>
<path stroke="#510096" d="M97.5 3.75h12M162 3.75h6M187.5 3.75h6M91.5 5.25h1.5M112.5 5.25h1.5M142.5 5.25h12M199.5 5.25h16.5M33 6.75h7.5M58.5 6.75h6M90 6.75h1.5M114 6.75h1.5M142.5 6.75h3M24 8.25h4.5M67.5 8.25h1.5M91.5 8.25h1.5M112.5 8.25h1.5M144 8.25h1.5M217.5 8.25h1.5M19.5 9.75h3M70.5 9.75h3M94.5 9.75h3M111 9.75h1.5M145.5 9.75h1.5M219 9.75h1.5M15 11.25h3M75 11.25h3M145.5 11.25h1.5M219 11.25h1.5M12 12.75h3M79.5 12.75h1.5M145.5 12.75h1.5M219 12.75h3M10.5 14.25h1.5M82.5 14.25h1.5M226.5 14.25h1.5M9 15.75h1.5M85.5 15.75h1.5M144 15.75h1.5M229.5 15.75h1.5M7.5 17.25h1.5M87 17.25h1.5M142.5 17.25h1.5M232.5 17.25h1.5M7.5 18.75h1.5M88.5 18.75h3M138 18.75h3M7.5 20.25h1.5M90 20.25h1.5M133.5 20.25h1.5M7.5 21.75h1.5M91.5 21.75h1.5M132 21.75h1.5M234 21.75h1.5M7.5 23.25h3M93 23.25h6M129 23.25h1.5M234 23.25h1.5M9 24.75h1.5M106.5 24.75h3M127.5 24.75h1.5M10.5 26.25h3M111 26.25h1.5M124.5 26.25h1.5M13.5 27.75h1.5M114 27.75h1.5M121.5 27.75h3M16.5 29.25h1.5M72 29.25h1.5M78 29.25h3M82.5 29.25h9M115.5 29.25h1.5M118.5 29.25h3M199.5 29.25h4.5M19.5 30.75h4.5M91.5 30.75h1.5M115.5 30.75h4.5M133.5 30.75h1.5M136.5 30.75h1.5M196.5 30.75h3M202.5 30.75h3M25.5 32.25h4.5M94.5 32.25h1.5M114 32.25h1.5M118.5 32.25h3M132 32.25h1.5M193.5 32.25h3M204 32.25h1.5M45 33.75h3M100.5 33.75h3M108 33.75h4.5M121.5 33.75h1.5M192 33.75h1.5M51 35.25h3M58.5 35.25h1.5M123 35.25h1.5M177 35.25h1.5M124.5 36.75h1.5M132 36.75h1.5M190.5 36.75h1.5M72 38.25h3M178.5 38.25h1.5M70.5 39.75h1.5M76.5 39.75h1.5M234 39.75h1.5M76.5 41.25h1.5M234 41.25h1.5M69 42.75h1.5M78 42.75h1.5M162 42.75h1.5M234 42.75h1.5M55.5 45.75h1.5M58.5 45.75h1.5M67.5 45.75h3M124.5 45.75h1.5M204 45.75h1.5M79.5 47.25h1.5M118.5 47.25h1.5M124.5 47.25h1.5M67.5 48.75h1.5M79.5 48.75h3M96 48.75h3M111 48.75h7.5M124.5 48.75h1.5M201 48.75h1.5M82.5 50.25h9M124.5 50.25h1.5M73.5 51.75h4.5M123 51.75h3M78 53.25h1.5M123 53.25h3M72 54.75h1.5M121.5 54.75h4.5M79.5 56.25h1.5M120 56.25h6M42 57.75h1.5M120 57.75h6M40.5 59.25h1.5M81 59.25h1.5M120 59.25h6M163.5 59.25h1.5M82.5 60.75h1.5M120 60.75h7.5M201 60.75h1.5M120 62.25h7.5M120 63.75h7.5M234 63.75h1.5M120 65.25h7.5M133.5 65.25h3M204 65.25h1.5M234 65.25h1.5M124.5 66.75h9M138 66.75h1.5M234 66.75h1.5M43.5 68.25h3M76.5 68.25h1.5M90 68.25h1.5M126 68.25h6M139.5 68.25h1.5M234 68.25h1.5M43.5 69.75h1.5M64.5 69.75h1.5M70.5 69.75h1.5M75 69.75h1.5M78 69.75h1.5M126 69.75h4.5M139.5 69.75h1.5M234 69.75h1.5M43.5 71.25h3M48 71.25h1.5M69 71.25h1.5M75 71.25h1.5M79.5 71.25h1.5M94.5 71.25h1.5M126 71.25h4.5M139.5 71.25h1.5M234 71.25h1.5M43.5 72.75h1.5M75 72.75h6M97.5 72.75h1.5M126 72.75h4.5M139.5 72.75h1.5M234 72.75h1.5M43.5 74.25h1.5M100.5 74.25h1.5M126 74.25h4.5M139.5 74.25h1.5M234 74.25h1.5M45 75.75h1.5M84 75.75h1.5M103.5 75.75h3M126 75.75h4.5M139.5 75.75h1.5M180 75.75h1.5M234 75.75h1.5M46.5 77.25h1.5M73.5 77.25h1.5M84 77.25h3M106.5 77.25h3M126 77.25h4.5M139.5 77.25h1.5M196.5 77.25h1.5M234 77.25h1.5M48 78.75h1.5M72 78.75h3M84 78.75h6M109.5 78.75h4.5M126 78.75h4.5M139.5 78.75h1.5M234 78.75h1.5M48 80.25h1.5M60 80.25h1.5M70.5 80.25h1.5M75 80.25h1.5M85.5 80.25h1.5M88.5 80.25h3M114 80.25h3M127.5 80.25h3M139.5 80.25h1.5M234 80.25h1.5M13.5 81.75h7.5M48 81.75h1.5M57 81.75h1.5M69 81.75h1.5M75 81.75h1.5M85.5 81.75h1.5M91.5 81.75h1.5M117 81.75h1.5M129 81.75h1.5M139.5 81.75h1.5M9 83.25h6M21 83.25h3M48 83.25h1.5M76.5 83.25h1.5M85.5 83.25h1.5M93 83.25h3M118.5 83.25h1.5M139.5 83.25h1.5M9 84.75h3M24 84.75h3M48 84.75h1.5M54 84.75h1.5M85.5 84.75h1.5M96 84.75h3M139.5 84.75h1.5M9 86.25h4.5M24 86.25h3M48 86.25h3M52.5 86.25h1.5M66 86.25h1.5M85.5 86.25h1.5M99 86.25h1.5M139.5 86.25h1.5M10.5 87.75h16.5M49.5 87.75h3M64.5 87.75h1.5M85.5 87.75h1.5M102 87.75h1.5M139.5 87.75h1.5M205.5 87.75h1.5M63 89.25h1.5M103.5 89.25h3M139.5 89.25h1.5M108 90.75h3M88.5 92.25h1.5M112.5 92.25h1.5M133.5 92.25h4.5M90 93.75h1.5M115.5 93.75h4.5M132 93.75h1.5M58.5 95.25h1.5M232.5 95.25h1.5M57 96.75h1.5M94.5 96.75h1.5M222 96.75h1.5M228 96.75h1.5M232.5 96.75h1.5M55.5 98.25h1.5M96 98.25h1.5M132 98.25h1.5M171 98.25h3M229.5 98.25h1.5M232.5 98.25h1.5M54 99.75h1.5M229.5 99.75h1.5M232.5 99.75h1.5M46.5 101.25h1.5M84 101.25h1.5M207 101.25h1.5M232.5 101.25h1.5M45 102.75h1.5M85.5 102.75h1.5M223.5 102.75h1.5M226.5 102.75h1.5M232.5 102.75h1.5M45 104.25h1.5M102 104.25h1.5M144 104.25h4.5M168 104.25h3M180 104.25h1.5M232.5 104.25h1.5M46.5 105.75h1.5M103.5 105.75h1.5M180 105.75h1.5M186 105.75h1.5M208.5 105.75h1.5M232.5 105.75h1.5M49.5 107.25h1.5M105 107.25h1.5M180 107.25h1.5M232.5 107.25h1.5M106.5 108.75h1.5M184.5 108.75h1.5M232.5 108.75h1.5M108 110.25h1.5M207 110.25h1.5M232.5 110.25h1.5M60 111.75h1.5M94.5 111.75h1.5M109.5 111.75h1.5M183 111.75h1.5M207 111.75h1.5M232.5 111.75h1.5M63 113.25h1.5M96 113.25h1.5M111 113.25h1.5M199.5 113.25h1.5M207 113.25h1.5M232.5 113.25h1.5M72 114.75h7.5M97.5 114.75h1.5M112.5 114.75h1.5M199.5 114.75h1.5M207 114.75h1.5M232.5 114.75h1.5M88.5 116.25h4.5M99 116.25h1.5M199.5 116.25h1.5M207 116.25h1.5M232.5 116.25h1.5M93 117.75h1.5M100.5 117.75h1.5M232.5 117.75h1.5M61.5 119.25h9M102 119.25h1.5M117 119.25h1.5M232.5 119.25h1.5M46.5 120.75h3M60 120.75h1.5M79.5 120.75h4.5M93 120.75h1.5M103.5 120.75h1.5M232.5 120.75h1.5M43.5 122.25h7.5M60 122.25h1.5M90 122.25h3M105 122.25h1.5M232.5 122.25h1.5M43.5 123.75h3M49.5 123.75h1.5M60 123.75h1.5M199.5 123.75h1.5M232.5 123.75h1.5M43.5 125.25h3M51 125.25h1.5M199.5 125.25h1.5M232.5 125.25h1.5M43.5 126.75h3M51 126.75h1.5M61.5 126.75h1.5M106.5 126.75h1.5M199.5 126.75h1.5M207 126.75h1.5M232.5 126.75h1.5M43.5 128.25h3M106.5 128.25h1.5M178.5 128.25h1.5M207 128.25h1.5M232.5 128.25h1.5M45 129.75h1.5M106.5 129.75h1.5M130.5 129.75h1.5M45 131.25h3M52.5 131.25h1.5M61.5 131.25h1.5M231 131.25h1.5M45 132.75h3M52.5 132.75h1.5M132 132.75h1.5M184.5 132.75h1.5M208.5 132.75h1.5M231 132.75h1.5M45 134.25h3M52.5 134.25h1.5M108 134.25h1.5M117 134.25h1.5M135 134.25h1.5M180 134.25h1.5M231 134.25h1.5M46.5 135.75h1.5M109.5 135.75h1.5M115.5 135.75h1.5M141 135.75h3M180 135.75h1.5M231 135.75h1.5M46.5 137.25h1.5M51 137.25h1.5M187.5 137.25h1.5M208.5 137.25h1.5M228 137.25h4.5M46.5 138.75h1.5M51 138.75h1.5M60 138.75h1.5M229.5 138.75h3M46.5 140.25h3M51 140.25h1.5M60 140.25h1.5M231 140.25h1.5M48 141.75h4.5M60 141.75h1.5M85.5 141.75h4.5M132 141.75h3M139.5 141.75h30M231 141.75h1.5M48 143.25h3M60 143.25h1.5M81 143.25h3M178.5 143.25h7.5M222 143.25h1.5M229.5 143.25h3M60 144.75h1.5M76.5 144.75h3M91.5 144.75h1.5M223.5 144.75h9M60 146.25h1.5M73.5 146.25h1.5M91.5 146.25h1.5M231 146.25h1.5M60 147.75h1.5M69 147.75h3M91.5 147.75h1.5M132 147.75h6M231 147.75h1.5M61.5 149.25h1.5M66 149.25h3M90 149.25h1.5M139.5 149.25h1.5M231 149.25h1.5M87 150.75h3M231 150.75h1.5M84 152.25h3M141 152.25h1.5M205.5 152.25h1.5M231 152.25h1.5M79.5 153.75h3M141 153.75h1.5M231 153.75h1.5M76.5 155.25h3M87 155.25h4.5M141 155.25h1.5M231 155.25h1.5M49.5 156.75h4.5M75 156.75h1.5M85.5 156.75h1.5M91.5 156.75h1.5M129 156.75h3M141 156.75h1.5M231 156.75h1.5M48 158.25h1.5M55.5 158.25h1.5M75 158.25h1.5M84 158.25h1.5M93 158.25h1.5M126 158.25h6M141 158.25h1.5M231 158.25h1.5M48 159.75h1.5M76.5 159.75h1.5M124.5 159.75h7.5M141 159.75h1.5M231 159.75h1.5M46.5 161.25h3M61.5 161.25h1.5M78 161.25h1.5M120 161.25h1.5M124.5 161.25h7.5M141 161.25h1.5M231 161.25h1.5M46.5 162.75h1.5M63 162.75h1.5M79.5 162.75h1.5M82.5 162.75h1.5M124.5 162.75h7.5M141 162.75h1.5M196.5 162.75h1.5M231 162.75h1.5M45 164.25h1.5M81 164.25h3M124.5 164.25h7.5M141 164.25h1.5M180 164.25h1.5M231 164.25h1.5M43.5 165.75h1.5M67.5 165.75h3M124.5 165.75h7.5M141 165.75h1.5M229.5 165.75h3M43.5 167.25h1.5M67.5 167.25h1.5M124.5 167.25h7.5M141 167.25h1.5M229.5 167.25h1.5M43.5 168.75h3M48 168.75h1.5M124.5 168.75h7.5M141 168.75h1.5M229.5 168.75h1.5M73.5 170.25h1.5M126 170.25h6M141 170.25h1.5M229.5 170.25h1.5M72 171.75h3M126 171.75h6M141 171.75h1.5M229.5 171.75h1.5M126 173.25h6M141 173.25h1.5M228 173.25h3M75 174.75h1.5M94.5 174.75h1.5M126 174.75h6M141 174.75h1.5M228 174.75h1.5M94.5 176.25h1.5M126 176.25h6M228 176.25h1.5M79.5 177.75h1.5M108 177.75h1.5M114 177.75h4.5M126 177.75h3M130.5 177.75h3M204 177.75h1.5M226.5 177.75h3M102 179.25h1.5M126 179.25h3M132 179.25h1.5M139.5 179.25h1.5M199.5 179.25h1.5M202.5 179.25h1.5M226.5 179.25h1.5M96 180.75h1.5M100.5 180.75h1.5M127.5 180.75h1.5M133.5 180.75h6M163.5 180.75h1.5M225 180.75h3M97.5 182.25h3M127.5 182.25h1.5M225 182.25h3M43.5 183.75h1.5M82.5 183.75h1.5M97.5 183.75h3M223.5 183.75h3M84 185.25h1.5M97.5 185.25h3M126 185.25h1.5M222 185.25h3M85.5 186.75h1.5M96 186.75h1.5M100.5 186.75h1.5M126 186.75h1.5M219 186.75h6M87 188.25h1.5M96 188.25h1.5M100.5 188.25h3M117 188.25h3M124.5 188.25h1.5M211.5 188.25h12M85.5 189.75h4.5M93 189.75h4.5M102 189.75h15M124.5 189.75h1.5M205.5 189.75h16.5M67.5 191.25h1.5M70.5 191.25h1.5M78 191.25h3M85.5 191.25h15M102 191.25h4.5M123 191.25h1.5M204 191.25h15M75 192.75h3M96 192.75h16.5M121.5 192.75h3M54 194.25h1.5M67.5 194.25h1.5M70.5 194.25h1.5M73.5 194.25h3M105 194.25h12M121.5 194.25h1.5M60 195.75h3M67.5 195.75h6M114 195.75h4.5M121.5 195.75h1.5M118.5 197.25h1.5M121.5 197.25h1.5M118.5 198.75h1.5M121.5 198.75h1.5M112.5 200.25h4.5M118.5 200.25h3M96 201.75h3M135 201.75h1.5M94.5 203.25h1.5M177 203.25h1.5M94.5 204.75h1.5M103.5 204.75h3M111 204.75h1.5M97.5 206.25h4.5M114 206.25h6M120 207.75h1.5M121.5 209.25h1.5M121.5 210.75h1.5M189 210.75h1.5M121.5 212.25h3M141 212.25h1.5M162 212.25h1.5M189 212.25h1.5M123 213.75h3M142.5 213.75h1.5M160.5 213.75h1.5M189 213.75h1.5M126 215.25h1.5M139.5 215.25h1.5M189 215.25h1.5M127.5 216.75h1.5M189 216.75h1.5M163.5 218.25h1.5M189 218.25h1.5M144 219.75h1.5M163.5 219.75h1.5M189 219.75h1.5M144 221.25h1.5M189 221.25h1.5M138 222.75h1.5M189 222.75h1.5M138 224.25h1.5M159 224.25h1.5M189 224.25h1.5M130.5 225.75h1.5M159 225.75h1.5M189 225.75h1.5M130.5 227.25h1.5M159 227.25h1.5M130.5 228.75h1.5M136.5 233.25h1.5M145.5 233.25h1.5M132 234.75h1.5M136.5 234.75h1.5M165 234.75h1.5M187.5 234.75h1.5M133.5 236.25h1.5M154.5 237.75h1.5M171 237.75h12"/>
<path stroke="#53009e" d="M168 3.75h19.5M93 5.25h1.5M111 5.25h1.5M154.5 5.25h7.5M193.5 5.25h6M40.5 6.75h18M91.5 6.75h1.5M112.5 6.75h1.5M145.5 6.75h10.5M199.5 6.75h10.5M214.5 6.75h3M28.5 8.25h4.5M64.5 8.25h3M93 8.25h1.5M111 8.25h1.5M145.5 8.25h6M22.5 9.75h3M69 9.75h1.5M97.5 9.75h3M108 9.75h3M147 9.75h1.5M217.5 9.75h1.5M18 11.25h3M73.5 11.25h1.5M147 11.25h1.5M217.5 11.25h1.5M15 12.75h1.5M78 12.75h1.5M147 12.75h1.5M217.5 12.75h1.5M12 14.25h3M81 14.25h1.5M145.5 14.25h1.5M219 14.25h7.5M10.5 15.75h3M84 15.75h1.5M145.5 15.75h1.5M228 15.75h1.5M9 17.25h3M85.5 17.25h1.5M144 17.25h1.5M9 18.75h1.5M87 18.75h1.5M141 18.75h1.5M232.5 18.75h1.5M9 20.25h1.5M88.5 20.25h1.5M135 20.25h3M9 21.75h3M88.5 21.75h3M133.5 21.75h1.5M10.5 23.25h1.5M90 23.25h3M130.5 23.25h1.5M10.5 24.75h3M88.5 24.75h9M105 24.75h1.5M129 24.75h1.5M234 24.75h1.5M13.5 26.25h1.5M88.5 26.25h4.5M109.5 26.25h1.5M126 26.25h3M234 26.25h1.5M15 27.75h3M85.5 27.75h7.5M112.5 27.75h1.5M124.5 27.75h1.5M195 27.75h10.5M234 27.75h1.5M18 29.25h4.5M70.5 29.25h1.5M81 29.25h1.5M91.5 29.25h1.5M114 29.25h1.5M121.5 29.25h3M193.5 29.25h6M204 29.25h3M234 29.25h1.5M24 30.75h3M66 30.75h1.5M93 30.75h1.5M114 30.75h1.5M120 30.75h3M192 30.75h4.5M205.5 30.75h1.5M234 30.75h1.5M30 32.25h13.5M63 32.25h1.5M96 32.25h3M112.5 32.25h1.5M121.5 32.25h1.5M192 32.25h1.5M205.5 32.25h1.5M234 32.25h1.5M48 33.75h3M60 33.75h1.5M103.5 33.75h4.5M123 33.75h1.5M190.5 33.75h1.5M234 33.75h1.5M54 35.25h4.5M124.5 35.25h1.5M190.5 35.25h1.5M234 35.25h1.5M126 36.75h1.5M178.5 36.75h1.5M234 36.75h1.5M126 38.25h1.5M133.5 38.25h1.5M189 38.25h1.5M234 38.25h1.5M75 39.75h1.5M126 39.75h1.5M178.5 39.75h1.5M189 39.75h1.5M70.5 41.25h1.5M126 41.25h1.5M172.5 41.25h1.5M76.5 42.75h1.5M126 42.75h1.5M69 44.25h1.5M78 44.25h1.5M126 44.25h1.5M190.5 44.25h1.5M57 45.75h1.5M60 45.75h1.5M78 45.75h1.5M126 45.75h1.5M52.5 47.25h1.5M70.5 47.25h1.5M78 47.25h1.5M126 47.25h1.5M204 47.25h1.5M232.5 47.25h1.5M49.5 48.75h1.5M70.5 48.75h1.5M78 48.75h1.5M99 48.75h12M118.5 48.75h1.5M126 48.75h1.5M195 48.75h1.5M202.5 48.75h1.5M232.5 48.75h1.5M76.5 50.25h6M91.5 50.25h3M126 50.25h1.5M232.5 50.25h1.5M78 51.75h3M126 51.75h1.5M232.5 51.75h1.5M45 53.25h1.5M72 53.25h1.5M79.5 53.25h1.5M126 53.25h3M232.5 53.25h1.5M61.5 54.75h1.5M79.5 54.75h1.5M126 54.75h3M232.5 54.75h1.5M43.5 56.25h1.5M81 56.25h1.5M126 56.25h3M163.5 56.25h1.5M232.5 56.25h1.5M81 57.75h3M126 57.75h3M82.5 59.25h1.5M126 59.25h3M70.5 60.75h1.5M127.5 60.75h1.5M199.5 60.75h1.5M202.5 60.75h1.5M54 62.25h1.5M84 62.25h1.5M127.5 62.25h3M204 62.25h1.5M42 63.75h1.5M85.5 63.75h1.5M127.5 63.75h4.5M168 63.75h1.5M87 65.25h1.5M127.5 65.25h6M136.5 65.25h3M88.5 66.75h1.5M139.5 66.75h1.5M165 66.75h1.5M198 66.75h1.5M69 68.25h1.5M159 68.25h1.5M66 69.75h1.5M76.5 69.75h1.5M93 69.75h1.5M141 69.75h1.5M76.5 71.25h3M96 71.25h1.5M141 71.25h1.5M175.5 71.25h1.5M45 72.75h3M61.5 72.75h1.5M99 72.75h1.5M141 72.75h1.5M45 74.25h3M102 74.25h3M141 74.25h1.5M172.5 74.25h1.5M46.5 75.75h3M60 75.75h1.5M106.5 75.75h3M141 75.75h1.5M183 75.75h1.5M48 77.25h1.5M61.5 77.25h1.5M109.5 77.25h7.5M141 77.25h1.5M49.5 78.75h1.5M57 78.75h1.5M114 78.75h4.5M141 78.75h1.5M49.5 80.25h1.5M58.5 80.25h1.5M72 80.25h3M87 80.25h1.5M117 80.25h1.5M141 80.25h1.5M171 80.25h1.5M49.5 81.75h1.5M55.5 81.75h1.5M70.5 81.75h4.5M87 81.75h4.5M118.5 81.75h1.5M141 81.75h1.5M15 83.25h6M49.5 83.25h1.5M54 83.25h1.5M69 83.25h1.5M75 83.25h1.5M87 83.25h6M141 83.25h1.5M12 84.75h12M49.5 84.75h4.5M67.5 84.75h1.5M76.5 84.75h1.5M87 84.75h1.5M94.5 84.75h1.5M141 84.75h1.5M13.5 86.25h10.5M51 86.25h1.5M78 86.25h1.5M97.5 86.25h1.5M141 86.25h1.5M66 87.75h1.5M79.5 87.75h1.5M100.5 87.75h1.5M141 87.75h1.5M232.5 87.75h1.5M64.5 89.25h1.5M87 89.25h1.5M102 89.25h1.5M141 89.25h1.5M232.5 89.25h1.5M63 90.75h1.5M103.5 90.75h4.5M139.5 90.75h1.5M232.5 90.75h1.5M61.5 92.25h1.5M108 92.25h4.5M138 92.25h1.5M232.5 92.25h1.5M60 93.75h1.5M112.5 93.75h3M133.5 93.75h4.5M232.5 93.75h1.5M79.5 95.25h1.5M93 95.25h1.5M117 95.25h3M132 95.25h1.5M225 95.25h1.5M79.5 96.75h1.5M96 96.75h3M132 96.75h1.5M178.5 96.75h3M229.5 96.75h3M97.5 98.25h3M133.5 98.25h37.5M231 98.25h1.5M99 99.75h1.5M231 99.75h1.5M48 101.25h4.5M100.5 101.25h1.5M229.5 101.25h3M46.5 102.75h1.5M102 102.75h1.5M208.5 102.75h1.5M228 102.75h1.5M231 102.75h1.5M46.5 104.25h1.5M87 104.25h1.5M148.5 104.25h19.5M171 104.25h9M187.5 104.25h1.5M231 104.25h1.5M48 105.75h1.5M88.5 105.75h1.5M139.5 105.75h1.5M199.5 105.75h1.5M51 107.25h1.5M90 107.25h1.5M186 107.25h1.5M199.5 107.25h1.5M208.5 107.25h1.5M55.5 108.75h1.5M91.5 108.75h1.5M133.5 108.75h1.5M199.5 108.75h1.5M58.5 110.25h1.5M91.5 110.25h3M178.5 110.25h1.5M199.5 110.25h1.5M93 111.75h1.5M178.5 111.75h1.5M199.5 111.75h1.5M64.5 113.25h3M91.5 113.25h4.5M112.5 113.25h1.5M132 113.25h1.5M183 113.25h1.5M79.5 114.75h18M114 114.75h3M183 114.75h1.5M93 116.25h6M115.5 116.25h3M130.5 116.25h1.5M183 116.25h1.5M198 116.25h1.5M94.5 117.75h6M117 117.75h1.5M130.5 117.75h1.5M183 117.75h1.5M198 117.75h1.5M208.5 117.75h1.5M94.5 119.25h1.5M100.5 119.25h1.5M183 119.25h1.5M198 119.25h1.5M208.5 119.25h1.5M231 119.25h1.5M61.5 120.75h18M94.5 120.75h1.5M102 120.75h1.5M118.5 120.75h1.5M198 120.75h1.5M208.5 120.75h1.5M231 120.75h1.5M61.5 122.25h1.5M87 122.25h3M93 122.25h1.5M103.5 122.25h1.5M118.5 122.25h1.5M198 122.25h1.5M208.5 122.25h1.5M231 122.25h1.5M46.5 123.75h3M61.5 123.75h1.5M105 123.75h1.5M118.5 123.75h1.5M130.5 123.75h1.5M178.5 123.75h1.5M198 123.75h1.5M208.5 123.75h1.5M231 123.75h1.5M46.5 125.25h4.5M61.5 125.25h1.5M118.5 125.25h1.5M130.5 125.25h1.5M178.5 125.25h1.5M208.5 125.25h1.5M231 125.25h1.5M46.5 126.75h4.5M118.5 126.75h1.5M130.5 126.75h1.5M178.5 126.75h1.5M183 126.75h1.5M208.5 126.75h1.5M231 126.75h1.5M46.5 128.25h6M118.5 128.25h1.5M130.5 128.25h1.5M183 128.25h1.5M199.5 128.25h1.5M231 128.25h1.5M46.5 129.75h6M118.5 129.75h1.5M178.5 129.75h1.5M199.5 129.75h1.5M208.5 129.75h1.5M229.5 129.75h3M48 131.25h4.5M106.5 131.25h1.5M118.5 131.25h1.5M184.5 131.25h1.5M199.5 131.25h1.5M208.5 131.25h1.5M229.5 131.25h1.5M48 132.75h4.5M61.5 132.75h1.5M106.5 132.75h1.5M118.5 132.75h1.5M199.5 132.75h1.5M229.5 132.75h1.5M48 134.25h4.5M61.5 134.25h1.5M106.5 134.25h1.5M118.5 134.25h1.5M136.5 134.25h1.5M186 134.25h1.5M199.5 134.25h1.5M228 134.25h3M48 135.75h4.5M61.5 135.75h1.5M108 135.75h1.5M117 135.75h1.5M144 135.75h3M169.5 135.75h1.5M178.5 135.75h1.5M199.5 135.75h1.5M223.5 135.75h7.5M48 137.25h3M61.5 137.25h1.5M109.5 137.25h7.5M222 137.25h1.5M48 138.75h3M61.5 138.75h1.5M189 138.75h1.5M49.5 140.25h1.5M61.5 140.25h1.5M220.5 140.25h1.5M61.5 141.75h1.5M84 141.75h1.5M90 141.75h1.5M135 141.75h4.5M220.5 141.75h1.5M61.5 143.25h1.5M78 143.25h3M91.5 143.25h1.5M132 143.25h1.5M172.5 143.25h6M186 143.25h3M61.5 144.75h1.5M72 144.75h4.5M93 144.75h1.5M132 144.75h1.5M61.5 146.25h1.5M67.5 146.25h6M93 146.25h1.5M132 146.25h3M226.5 146.25h4.5M61.5 147.75h7.5M93 147.75h1.5M138 147.75h3M229.5 147.75h1.5M63 149.25h3M91.5 149.25h1.5M141 149.25h1.5M229.5 149.25h1.5M90 150.75h1.5M141 150.75h1.5M229.5 150.75h1.5M87 152.25h4.5M229.5 152.25h1.5M82.5 153.75h9M229.5 153.75h1.5M79.5 155.25h7.5M91.5 155.25h1.5M229.5 155.25h1.5M76.5 156.75h9M93 156.75h1.5M229.5 156.75h1.5M49.5 158.25h6M76.5 158.25h7.5M229.5 158.25h1.5M49.5 159.75h1.5M57 159.75h1.5M78 159.75h6M171 159.75h1.5M229.5 159.75h1.5M49.5 161.25h1.5M57 161.25h4.5M79.5 161.25h4.5M229.5 161.25h1.5M48 162.75h1.5M81 162.75h1.5M94.5 162.75h1.5M229.5 162.75h1.5M46.5 164.25h3M94.5 164.25h1.5M183 164.25h1.5M229.5 164.25h1.5M45 165.75h3M94.5 165.75h1.5M172.5 165.75h1.5M228 165.75h1.5M45 167.25h3M70.5 167.25h1.5M94.5 167.25h1.5M228 167.25h1.5M72 168.75h1.5M94.5 168.75h1.5M175.5 168.75h1.5M228 168.75h1.5M94.5 170.25h1.5M228 170.25h1.5M94.5 171.75h1.5M159 171.75h1.5M226.5 171.75h3M94.5 173.25h1.5M165 173.25h1.5M198 173.25h1.5M226.5 173.25h1.5M43.5 174.75h1.5M226.5 174.75h1.5M141 176.25h1.5M168 176.25h1.5M225 176.25h3M54 177.75h1.5M96 177.75h1.5M103.5 177.75h4.5M118.5 177.75h1.5M129 177.75h1.5M141 177.75h1.5M225 177.75h1.5M81 179.25h1.5M96 179.25h3M100.5 179.25h1.5M129 179.25h3M223.5 179.25h3M97.5 180.75h3M129 180.75h4.5M139.5 180.75h1.5M222 180.75h3M43.5 182.25h1.5M129 182.25h1.5M220.5 182.25h4.5M127.5 183.75h1.5M163.5 183.75h1.5M217.5 183.75h6M61.5 185.25h1.5M127.5 185.25h1.5M210 185.25h12M84 186.75h1.5M97.5 186.75h3M127.5 186.75h1.5M207 186.75h12M84 188.25h3M97.5 188.25h3M126 188.25h1.5M204 188.25h7.5M76.5 189.75h9M97.5 189.75h4.5M117 189.75h3M126 189.75h1.5M196.5 189.75h9M49.5 191.25h1.5M75 191.25h3M100.5 191.25h1.5M106.5 191.25h12M124.5 191.25h3M193.5 191.25h1.5M72 192.75h3M112.5 192.75h6M124.5 192.75h1.5M72 194.25h1.5M117 194.25h3M123 194.25h3M63 195.75h4.5M118.5 195.75h1.5M123 195.75h3M189 195.75h1.5M123 197.25h1.5M162 197.25h1.5M123 198.75h1.5M177 198.75h1.5M121.5 200.25h3M99 201.75h22.5M136.5 201.75h1.5M96 203.25h16.5M120 203.25h1.5M132 203.25h1.5M172.5 203.25h1.5M96 204.75h7.5M112.5 204.75h1.5M117 204.75h4.5M120 206.25h3M121.5 207.75h3M123 209.25h1.5M135 209.25h1.5M123 210.75h3M162 210.75h1.5M124.5 212.25h1.5M139.5 212.25h1.5M142.5 212.25h1.5M160.5 212.25h1.5M126 213.75h1.5M139.5 213.75h1.5M163.5 215.25h1.5M144 216.75h1.5M163.5 216.75h1.5M129 218.25h1.5M144 218.25h1.5M138 219.75h1.5M159 219.75h1.5M130.5 221.25h1.5M138 221.25h1.5M159 221.25h1.5M130.5 222.75h1.5M159 222.75h1.5M130.5 224.25h1.5M136.5 230.25h1.5M132 231.75h1.5M136.5 231.75h1.5M145.5 231.75h1.5M165 231.75h1.5M132 233.25h1.5M165 233.25h1.5M187.5 233.25h1.5M133.5 234.75h3M157.5 234.75h1.5M147 236.25h1.5M166.5 236.25h1.5M186 236.25h1.5M150 237.75h4.5"/>
<path stroke="#5600a7" d="M94.5 5.25h6M102 5.25h9M162 5.25h4.5M190.5 5.25h3M93 6.75h3M109.5 6.75h3M156 6.75h4.5M195 6.75h4.5M210 6.75h4.5M33 8.25h7.5M58.5 8.25h6M94.5 8.25h3M109.5 8.25h1.5M151.5 8.25h6M198 8.25h13.5M213 8.25h4.5M25.5 9.75h4.5M67.5 9.75h1.5M100.5 9.75h7.5M148.5 9.75h7.5M199.5 9.75h7.5M216 9.75h1.5M21 11.25h3M72 11.25h1.5M148.5 11.25h6M202.5 11.25h1.5M216 11.25h1.5M16.5 12.75h4.5M75 12.75h3M148.5 12.75h4.5M216 12.75h1.5M15 14.25h3M79.5 14.25h1.5M147 14.25h4.5M216 14.25h3M13.5 15.75h1.5M81 15.75h3M147 15.75h3M217.5 15.75h4.5M12 17.25h3M84 17.25h1.5M145.5 17.25h1.5M231 17.25h1.5M10.5 18.75h3M85.5 18.75h1.5M142.5 18.75h3M10.5 20.25h3M87 20.25h1.5M138 20.25h3M232.5 20.25h1.5M12 21.75h1.5M87 21.75h1.5M135 21.75h1.5M12 23.25h3M87 23.25h3M132 23.25h3M195 23.25h6M13.5 24.75h3M85.5 24.75h3M97.5 24.75h7.5M130.5 24.75h1.5M190.5 24.75h12M15 26.25h3M84 26.25h4.5M93 26.25h3M108 26.25h1.5M129 26.25h1.5M187.5 26.25h19.5M18 27.75h3M75 27.75h3M81 27.75h4.5M93 27.75h1.5M111 27.75h1.5M126 27.75h3M184.5 27.75h10.5M205.5 27.75h3M22.5 29.25h3M69 29.25h1.5M93 29.25h1.5M112.5 29.25h1.5M124.5 29.25h3M184.5 29.25h9M27 30.75h4.5M94.5 30.75h3M112.5 30.75h1.5M123 30.75h3M132 30.75h1.5M138 30.75h1.5M186 30.75h6M43.5 32.25h3M61.5 32.25h1.5M99 32.25h3M108 32.25h4.5M123 32.25h3M187.5 32.25h4.5M51 33.75h9M124.5 33.75h3M130.5 33.75h1.5M139.5 33.75h1.5M189 33.75h1.5M205.5 33.75h1.5M126 35.25h1.5M130.5 35.25h1.5M172.5 35.25h1.5M178.5 35.25h1.5M189 35.25h1.5M205.5 35.25h1.5M189 36.75h1.5M205.5 36.75h1.5M127.5 38.25h1.5M138 38.25h1.5M171 38.25h1.5M205.5 38.25h1.5M72 39.75h3M127.5 39.75h1.5M205.5 39.75h1.5M75 41.25h1.5M127.5 41.25h1.5M189 41.25h1.5M205.5 41.25h1.5M127.5 42.75h1.5M189 42.75h1.5M205.5 42.75h1.5M232.5 42.75h1.5M76.5 44.25h1.5M127.5 44.25h1.5M205.5 44.25h1.5M232.5 44.25h1.5M127.5 45.75h1.5M232.5 45.75h1.5M127.5 47.25h1.5M192 47.25h1.5M76.5 48.75h1.5M127.5 48.75h1.5M204 48.75h1.5M48 50.25h1.5M73.5 50.25h3M94.5 50.25h3M109.5 50.25h10.5M127.5 50.25h1.5M198 50.25h6M46.5 51.75h1.5M72 51.75h1.5M81 51.75h9M127.5 51.75h3M81 53.25h1.5M129 53.25h1.5M81 54.75h1.5M129 54.75h1.5M82.5 56.25h1.5M129 56.25h1.5M84 57.75h1.5M129 57.75h3M232.5 57.75h1.5M42 59.25h1.5M70.5 59.25h1.5M84 59.25h1.5M129 59.25h3M232.5 59.25h1.5M84 60.75h1.5M129 60.75h3M232.5 60.75h1.5M69 62.25h1.5M130.5 62.25h4.5M232.5 62.25h1.5M132 63.75h6M232.5 63.75h1.5M139.5 65.25h1.5M232.5 65.25h1.5M43.5 66.75h1.5M90 66.75h1.5M141 66.75h1.5M168 66.75h1.5M204 66.75h1.5M232.5 66.75h1.5M91.5 68.25h1.5M141 68.25h1.5M157.5 68.25h1.5M201 68.25h1.5M69 69.75h1.5M94.5 69.75h1.5M172.5 71.25h1.5M48 72.75h1.5M57 72.75h1.5M100.5 72.75h1.5M114 72.75h4.5M48 74.25h3M54 74.25h1.5M60 74.25h3M105 74.25h13.5M49.5 75.75h1.5M54 75.75h1.5M61.5 75.75h1.5M109.5 75.75h10.5M49.5 77.25h3M54 77.25h1.5M60 77.25h1.5M117 77.25h3M232.5 77.25h1.5M51 78.75h1.5M55.5 78.75h1.5M58.5 78.75h3M118.5 78.75h1.5M232.5 78.75h1.5M51 80.25h1.5M57 80.25h1.5M118.5 80.25h1.5M232.5 80.25h1.5M51 81.75h4.5M171 81.75h1.5M232.5 81.75h1.5M51 83.25h3M70.5 83.25h4.5M232.5 83.25h1.5M69 84.75h7.5M88.5 84.75h6M232.5 84.75h1.5M67.5 86.25h3M76.5 86.25h1.5M87 86.25h1.5M94.5 86.25h3M232.5 86.25h1.5M67.5 87.75h1.5M87 87.75h1.5M97.5 87.75h3M66 89.25h1.5M79.5 89.25h1.5M99 89.25h3M64.5 90.75h1.5M79.5 90.75h1.5M88.5 90.75h1.5M100.5 90.75h3M141 90.75h1.5M63 92.25h1.5M79.5 92.25h1.5M90 92.25h1.5M100.5 92.25h7.5M139.5 92.25h1.5M231 92.25h1.5M61.5 93.75h1.5M79.5 93.75h1.5M91.5 93.75h1.5M100.5 93.75h12M138 93.75h1.5M231 93.75h1.5M60 95.25h1.5M94.5 95.25h9M112.5 95.25h4.5M133.5 95.25h4.5M223.5 95.25h1.5M226.5 95.25h6M58.5 96.75h1.5M99 96.75h3M117 96.75h3M133.5 96.75h4.5M171 96.75h7.5M181.5 96.75h7.5M57 98.25h1.5M79.5 98.25h1.5M100.5 98.25h1.5M55.5 99.75h1.5M81 99.75h1.5M100.5 99.75h1.5M190.5 99.75h1.5M220.5 99.75h1.5M52.5 101.25h1.5M82.5 101.25h1.5M102 101.25h1.5M201 101.25h1.5M48 102.75h3M84 102.75h1.5M189 102.75h1.5M229.5 102.75h1.5M48 104.25h1.5M103.5 104.25h1.5M199.5 104.25h1.5M229.5 104.25h1.5M49.5 105.75h1.5M105 105.75h1.5M141 105.75h1.5M178.5 105.75h1.5M231 105.75h1.5M52.5 107.25h1.5M88.5 107.25h1.5M106.5 107.25h1.5M138 107.25h1.5M178.5 107.25h1.5M231 107.25h1.5M57 108.75h1.5M90 108.75h1.5M108 108.75h1.5M178.5 108.75h1.5M208.5 108.75h1.5M231 108.75h1.5M90 110.25h1.5M109.5 110.25h1.5M184.5 110.25h1.5M231 110.25h1.5M61.5 111.75h1.5M88.5 111.75h4.5M111 111.75h3M198 111.75h1.5M231 111.75h1.5M67.5 113.25h4.5M82.5 113.25h9M114 113.25h4.5M178.5 113.25h1.5M198 113.25h1.5M208.5 113.25h1.5M231 113.25h1.5M117 114.75h3M178.5 114.75h1.5M198 114.75h1.5M208.5 114.75h1.5M231 114.75h1.5M118.5 116.25h1.5M178.5 116.25h1.5M208.5 116.25h1.5M231 116.25h1.5M118.5 117.75h1.5M178.5 117.75h1.5M231 117.75h1.5M96 119.25h4.5M118.5 119.25h1.5M130.5 119.25h1.5M178.5 119.25h1.5M96 120.75h1.5M99 120.75h3M130.5 120.75h1.5M178.5 120.75h1.5M183 120.75h1.5M229.5 120.75h1.5M63 122.25h3M81 122.25h6M94.5 122.25h1.5M102 122.25h1.5M130.5 122.25h1.5M178.5 122.25h1.5M183 122.25h1.5M229.5 122.25h1.5M63 123.75h1.5M103.5 123.75h1.5M183 123.75h1.5M229.5 123.75h1.5M63 125.25h1.5M105 125.25h1.5M183 125.25h1.5M198 125.25h1.5M229.5 125.25h1.5M63 126.75h1.5M105 126.75h1.5M198 126.75h1.5M229.5 126.75h1.5M63 128.25h1.5M105 128.25h1.5M198 128.25h1.5M208.5 128.25h1.5M228 128.25h3M63 129.75h1.5M105 129.75h1.5M184.5 129.75h1.5M228 129.75h1.5M63 131.25h1.5M105 131.25h1.5M132 131.25h1.5M178.5 131.25h1.5M226.5 131.25h3M105 132.75h1.5M133.5 132.75h1.5M178.5 132.75h1.5M186 132.75h1.5M226.5 132.75h3M105 134.25h1.5M138 134.25h1.5M178.5 134.25h1.5M210 134.25h1.5M225 134.25h3M63 135.75h1.5M106.5 135.75h1.5M118.5 135.75h1.5M147 135.75h22.5M171 135.75h7.5M187.5 135.75h1.5M222 135.75h1.5M63 137.25h1.5M106.5 137.25h3M117 137.25h3M63 138.75h3M108 138.75h12M201 138.75h1.5M220.5 138.75h1.5M63 140.25h6M85.5 140.25h4.5M109.5 140.25h9M63 141.75h21M91.5 141.75h4.5M114 141.75h4.5M63 143.25h15M93 143.25h4.5M133.5 143.25h39M220.5 143.25h1.5M63 144.75h9M94.5 144.75h3M133.5 144.75h4.5M222 144.75h1.5M63 146.25h4.5M94.5 146.25h3M135 146.25h6M223.5 146.25h3M94.5 147.75h1.5M141 147.75h1.5M226.5 147.75h3M93 149.25h3M142.5 149.25h1.5M226.5 149.25h3M91.5 150.75h3M142.5 150.75h1.5M228 150.75h1.5M91.5 152.25h3M142.5 152.25h1.5M228 152.25h1.5M91.5 153.75h3M142.5 153.75h1.5M228 153.75h1.5M93 155.25h1.5M142.5 155.25h1.5M228 155.25h1.5M94.5 156.75h1.5M142.5 156.75h1.5M228 156.75h1.5M94.5 158.25h1.5M142.5 158.25h1.5M171 158.25h1.5M228 158.25h1.5M51 159.75h6M94.5 159.75h1.5M142.5 159.75h1.5M228 159.75h1.5M51 161.25h1.5M55.5 161.25h1.5M94.5 161.25h1.5M142.5 161.25h1.5M228 161.25h1.5M49.5 162.75h3M54 162.75h1.5M60 162.75h1.5M142.5 162.75h1.5M228 162.75h1.5M49.5 164.25h1.5M54 164.25h1.5M60 164.25h1.5M63 164.25h1.5M142.5 164.25h1.5M226.5 164.25h3M48 165.75h3M54 165.75h1.5M142.5 165.75h1.5M226.5 165.75h1.5M48 167.25h1.5M57 167.25h1.5M61.5 167.25h1.5M142.5 167.25h1.5M226.5 167.25h1.5M142.5 168.75h1.5M172.5 168.75h1.5M226.5 168.75h1.5M64.5 170.25h1.5M142.5 170.25h1.5M225 170.25h3M96 171.75h1.5M142.5 171.75h1.5M157.5 171.75h1.5M201 171.75h1.5M225 171.75h1.5M45 173.25h1.5M96 173.25h1.5M142.5 173.25h1.5M168 173.25h1.5M204 173.25h1.5M223.5 173.25h3M69 174.75h1.5M96 174.75h1.5M142.5 174.75h1.5M223.5 174.75h3M75 176.25h3M96 176.25h3M109.5 176.25h10.5M142.5 176.25h1.5M205.5 176.25h1.5M222 176.25h3M72 177.75h1.5M97.5 177.75h6M142.5 177.75h1.5M205.5 177.75h1.5M220.5 177.75h4.5M75 179.25h1.5M99 179.25h1.5M141 179.25h1.5M204 179.25h1.5M219 179.25h4.5M81 180.75h1.5M216 180.75h6M78 182.25h1.5M81 182.25h1.5M130.5 182.25h9M210 182.25h10.5M81 183.75h1.5M129 183.75h3M207 183.75h10.5M75 185.25h3M82.5 185.25h1.5M129 185.25h1.5M205.5 185.25h4.5M45 186.75h1.5M82.5 186.75h1.5M129 186.75h1.5M204 186.75h3M76.5 188.25h7.5M127.5 188.25h3M201 188.25h3M48 189.75h1.5M73.5 189.75h3M127.5 189.75h1.5M195 189.75h1.5M72 191.25h3M118.5 191.25h1.5M127.5 191.25h1.5M52.5 192.75h1.5M118.5 192.75h1.5M126 192.75h1.5M55.5 194.25h1.5M126 194.25h1.5M126 195.75h1.5M124.5 197.25h3M124.5 198.75h1.5M124.5 200.25h1.5M121.5 201.75h4.5M133.5 201.75h1.5M187.5 201.75h1.5M112.5 203.25h7.5M121.5 203.25h3M187.5 203.25h1.5M114 204.75h3M121.5 204.75h3M123 206.25h3M124.5 207.75h1.5M132 207.75h1.5M124.5 209.25h1.5M136.5 209.25h1.5M126 210.75h1.5M160.5 210.75h1.5M126 212.25h1.5M163.5 213.75h1.5M127.5 215.25h1.5M144 215.25h1.5M138 216.75h1.5M159 216.75h1.5M138 218.25h1.5M159 218.25h1.5M130.5 219.75h1.5M136.5 225.75h1.5M132 227.25h1.5M136.5 227.25h1.5M145.5 227.25h1.5M132 228.75h1.5M136.5 228.75h1.5M145.5 228.75h1.5M165 228.75h1.5M132 230.25h1.5M145.5 230.25h1.5M165 230.25h1.5M187.5 230.25h1.5M187.5 231.75h1.5M133.5 233.25h3M157.5 233.25h1.5M168 236.25h1.5M184.5 236.25h1.5"/>
<path stroke="#5900af" d="M100.5 5.25h1.5M166.5 5.25h4.5M186 5.25h4.5M96 6.75h13.5M160.5 6.75h3M192 6.75h3M40.5 8.25h18M97.5 8.25h12M157.5 8.25h3M195 8.25h3M211.5 8.25h1.5M30 9.75h6M63 9.75h4.5M156 9.75h3M196.5 9.75h3M207 9.75h9M24 11.25h4.5M69 11.25h3M154.5 11.25h3M198 11.25h4.5M204 11.25h4.5M214.5 11.25h1.5M21 12.75h3M73.5 12.75h1.5M153 12.75h3M199.5 12.75h7.5M214.5 12.75h1.5M18 14.25h3M76.5 14.25h3M151.5 14.25h4.5M199.5 14.25h6M214.5 14.25h1.5M15 15.75h3M79.5 15.75h1.5M150 15.75h6M199.5 15.75h4.5M214.5 15.75h3M222 15.75h6M15 17.25h1.5M81 17.25h3M147 17.25h7.5M198 17.25h4.5M213 17.25h6M229.5 17.25h1.5M13.5 18.75h3M84 18.75h1.5M145.5 18.75h9M198 18.75h4.5M213 18.75h3M231 18.75h1.5M13.5 20.25h3M84 20.25h3M141 20.25h4.5M195 20.25h7.5M13.5 21.75h3M84 21.75h3M136.5 21.75h4.5M193.5 21.75h10.5M232.5 21.75h1.5M15 23.25h3M84 23.25h3M135 23.25h1.5M190.5 23.25h4.5M201 23.25h9M232.5 23.25h1.5M16.5 24.75h3M82.5 24.75h3M132 24.75h3M186 24.75h4.5M202.5 24.75h7.5M18 26.25h3M81 26.25h3M96 26.25h3M105 26.25h3M130.5 26.25h1.5M180 26.25h7.5M207 26.25h3M21 27.75h4.5M73.5 27.75h1.5M78 27.75h3M94.5 27.75h1.5M108 27.75h3M129 27.75h1.5M178.5 27.75h6M25.5 29.25h4.5M67.5 29.25h1.5M94.5 29.25h3M109.5 29.25h3M127.5 29.25h1.5M178.5 29.25h6M207 29.25h1.5M31.5 30.75h10.5M64.5 30.75h1.5M97.5 30.75h1.5M108 30.75h4.5M126 30.75h3M180 30.75h6M207 30.75h1.5M46.5 32.25h6M60 32.25h1.5M102 32.25h6M126 32.25h3M130.5 32.25h1.5M139.5 32.25h1.5M183 32.25h4.5M127.5 33.75h3M174 33.75h4.5M184.5 33.75h4.5M127.5 35.25h3M139.5 35.25h1.5M186 35.25h3M127.5 36.75h4.5M171 36.75h1.5M187.5 36.75h1.5M132 38.25h1.5M187.5 38.25h1.5M187.5 39.75h1.5M232.5 39.75h1.5M72 41.25h3M232.5 41.25h1.5M70.5 42.75h1.5M75 42.75h1.5M70.5 44.25h1.5M75 44.25h1.5M61.5 45.75h1.5M66 45.75h1.5M70.5 45.75h1.5M76.5 45.75h1.5M129 45.75h1.5M190.5 45.75h1.5M205.5 45.75h1.5M76.5 47.25h1.5M129 47.25h1.5M205.5 47.25h1.5M75 48.75h1.5M129 48.75h1.5M193.5 48.75h1.5M205.5 48.75h1.5M231 48.75h1.5M72 50.25h1.5M97.5 50.25h12M129 50.25h1.5M196.5 50.25h1.5M204 50.25h1.5M231 50.25h1.5M90 51.75h4.5M112.5 51.75h7.5M130.5 51.75h1.5M201 51.75h3M231 51.75h1.5M82.5 53.25h4.5M117 53.25h1.5M130.5 53.25h1.5M231 53.25h1.5M45 54.75h1.5M82.5 54.75h3M130.5 54.75h3M231 54.75h1.5M70.5 56.25h1.5M84 56.25h1.5M130.5 56.25h3M231 56.25h1.5M43.5 57.75h1.5M70.5 57.75h1.5M132 57.75h1.5M162 57.75h1.5M132 59.25h3M154.5 59.25h1.5M165 59.25h1.5M42 60.75h1.5M132 60.75h4.5M204 60.75h1.5M42 62.25h1.5M85.5 62.25h1.5M135 62.25h4.5M87 63.75h1.5M138 63.75h3M88.5 65.25h1.5M141 65.25h1.5M156 65.25h1.5M142.5 66.75h1.5M156 66.75h1.5M93 68.25h1.5M142.5 68.25h1.5M160.5 68.25h1.5M202.5 68.25h1.5M232.5 68.25h1.5M63 69.75h1.5M67.5 69.75h1.5M115.5 69.75h3M142.5 69.75h1.5M232.5 69.75h1.5M61.5 71.25h1.5M97.5 71.25h1.5M112.5 71.25h7.5M142.5 71.25h1.5M232.5 71.25h1.5M49.5 72.75h1.5M55.5 72.75h1.5M58.5 72.75h1.5M102 72.75h12M118.5 72.75h1.5M142.5 72.75h3M232.5 72.75h1.5M51 74.25h3M118.5 74.25h1.5M142.5 74.25h3M180 74.25h1.5M232.5 74.25h1.5M51 75.75h3M142.5 75.75h3M232.5 75.75h1.5M52.5 77.25h1.5M142.5 77.25h3M181.5 77.25h1.5M52.5 78.75h3M142.5 78.75h3M171 78.75h1.5M52.5 80.25h4.5M142.5 80.25h3M142.5 81.75h3M142.5 83.25h3M172.5 83.25h3M142.5 84.75h3M180 84.75h1.5M70.5 86.25h6M88.5 86.25h6M142.5 86.25h3M69 87.75h3M78 87.75h1.5M88.5 87.75h1.5M94.5 87.75h3M142.5 87.75h3M231 87.75h1.5M67.5 89.25h3M88.5 89.25h1.5M96 89.25h3M142.5 89.25h3M231 89.25h1.5M66 90.75h3M90 90.75h1.5M97.5 90.75h3M142.5 90.75h1.5M231 90.75h1.5M64.5 92.25h3M91.5 92.25h1.5M97.5 92.25h3M141 92.25h3M63 93.75h1.5M93 93.75h7.5M139.5 93.75h3M229.5 93.75h1.5M61.5 95.25h1.5M103.5 95.25h9M138 95.25h4.5M102 96.75h15M138 96.75h33M189 96.75h1.5M102 98.25h4.5M114 98.25h6M190.5 98.25h1.5M220.5 98.25h1.5M102 99.75h3M117 99.75h3M54 101.25h1.5M103.5 101.25h1.5M190.5 101.25h1.5M51 102.75h3M103.5 102.75h3M199.5 102.75h1.5M222 102.75h1.5M49.5 104.25h3M85.5 104.25h1.5M105 104.25h1.5M189 104.25h1.5M225 104.25h4.5M51 105.75h1.5M87 105.75h1.5M106.5 105.75h1.5M142.5 105.75h1.5M177 105.75h1.5M187.5 105.75h1.5M229.5 105.75h1.5M54 107.25h1.5M87 107.25h1.5M108 107.25h1.5M198 107.25h1.5M229.5 107.25h1.5M87 108.75h3M109.5 108.75h1.5M115.5 108.75h4.5M135 108.75h1.5M186 108.75h1.5M198 108.75h1.5M229.5 108.75h1.5M60 110.25h1.5M87 110.25h3M111 110.25h9M133.5 110.25h1.5M198 110.25h1.5M208.5 110.25h1.5M229.5 110.25h1.5M63 111.75h1.5M84 111.75h4.5M114 111.75h6M133.5 111.75h1.5M184.5 111.75h1.5M208.5 111.75h1.5M229.5 111.75h1.5M72 113.25h10.5M118.5 113.25h1.5M184.5 113.25h1.5M229.5 113.25h1.5M132 114.75h1.5M184.5 114.75h1.5M196.5 114.75h1.5M229.5 114.75h1.5M196.5 116.25h1.5M229.5 116.25h1.5M196.5 117.75h1.5M229.5 117.75h1.5M196.5 119.25h1.5M210 119.25h1.5M229.5 119.25h1.5M97.5 120.75h1.5M196.5 120.75h1.5M210 120.75h1.5M228 120.75h1.5M66 122.25h15M96 122.25h6M196.5 122.25h1.5M210 122.25h1.5M228 122.25h1.5M64.5 123.75h4.5M87 123.75h9M99 123.75h4.5M196.5 123.75h1.5M210 123.75h1.5M228 123.75h1.5M64.5 125.25h1.5M102 125.25h3M196.5 125.25h1.5M210 125.25h1.5M228 125.25h1.5M64.5 126.75h1.5M103.5 126.75h1.5M132 126.75h1.5M210 126.75h1.5M226.5 126.75h3M64.5 128.25h1.5M103.5 128.25h1.5M132 128.25h1.5M184.5 128.25h1.5M210 128.25h1.5M226.5 128.25h1.5M64.5 129.75h1.5M103.5 129.75h1.5M132 129.75h1.5M198 129.75h1.5M210 129.75h1.5M225 129.75h3M103.5 131.25h1.5M133.5 131.25h1.5M186 131.25h1.5M198 131.25h1.5M210 131.25h1.5M225 131.25h1.5M63 132.75h3M103.5 132.75h1.5M135 132.75h1.5M198 132.75h1.5M210 132.75h1.5M223.5 132.75h3M63 134.25h3M103.5 134.25h1.5M139.5 134.25h3M187.5 134.25h1.5M222 134.25h3M64.5 135.75h3M102 135.75h4.5M210 135.75h1.5M64.5 137.25h4.5M99 137.25h7.5M189 137.25h1.5M199.5 137.25h1.5M220.5 137.25h1.5M66 138.75h7.5M94.5 138.75h13.5M208.5 138.75h1.5M69 140.25h16.5M90 140.25h19.5M118.5 140.25h1.5M190.5 140.25h1.5M96 141.75h18M118.5 141.75h1.5M190.5 141.75h1.5M97.5 143.25h22.5M189 143.25h1.5M97.5 144.75h6M111 144.75h9M138 144.75h9M171 144.75h9M97.5 146.25h4.5M114 146.25h6M141 146.25h3M222 146.25h1.5M96 147.75h4.5M115.5 147.75h4.5M142.5 147.75h1.5M225 147.75h1.5M96 149.25h3M144 149.25h1.5M225 149.25h1.5M94.5 150.75h3M144 150.75h1.5M225 150.75h3M94.5 152.25h3M144 152.25h1.5M226.5 152.25h1.5M94.5 153.75h3M144 153.75h1.5M226.5 153.75h1.5M94.5 155.25h3M144 155.25h1.5M180 155.25h1.5M226.5 155.25h1.5M96 156.75h1.5M144 156.75h1.5M172.5 156.75h3M226.5 156.75h1.5M96 158.25h1.5M144 158.25h1.5M226.5 158.25h1.5M96 159.75h1.5M144 159.75h1.5M226.5 159.75h1.5M52.5 161.25h3M96 161.25h1.5M144 161.25h1.5M171 161.25h1.5M225 161.25h3M52.5 162.75h1.5M61.5 162.75h1.5M96 162.75h1.5M144 162.75h1.5M181.5 162.75h1.5M225 162.75h3M51 164.25h3M96 164.25h1.5M144 164.25h1.5M225 164.25h1.5M51 165.75h3M60 165.75h3M96 165.75h1.5M144 165.75h1.5M180 165.75h1.5M225 165.75h1.5M49.5 167.25h1.5M55.5 167.25h1.5M58.5 167.25h1.5M69 167.25h1.5M96 167.25h1.5M144 167.25h1.5M223.5 167.25h3M67.5 168.75h1.5M96 168.75h1.5M144 168.75h1.5M223.5 168.75h3M63 170.25h1.5M72 170.25h1.5M96 170.25h3M144 170.25h1.5M222 170.25h3M70.5 171.75h1.5M97.5 171.75h1.5M144 171.75h1.5M160.5 171.75h1.5M202.5 171.75h1.5M222 171.75h3M97.5 173.25h1.5M117 173.25h1.5M144 173.25h1.5M156 173.25h1.5M220.5 173.25h3M97.5 174.75h4.5M112.5 174.75h7.5M144 174.75h1.5M156 174.75h1.5M205.5 174.75h1.5M219 174.75h4.5M69 176.25h1.5M99 176.25h10.5M144 176.25h1.5M196.5 176.25h1.5M217.5 176.25h4.5M73.5 177.75h1.5M78 177.75h1.5M214.5 177.75h6M73.5 179.25h1.5M79.5 179.25h1.5M142.5 179.25h1.5M198 179.25h1.5M205.5 179.25h3M210 179.25h9M43.5 180.75h1.5M78 180.75h1.5M141 180.75h1.5M154.5 180.75h1.5M165 180.75h1.5M201 180.75h15M72 182.25h1.5M79.5 182.25h1.5M139.5 182.25h1.5M162 182.25h1.5M204 182.25h6M78 183.75h3M132 183.75h6M204 183.75h3M73.5 185.25h1.5M78 185.25h4.5M130.5 185.25h3M202.5 185.25h3M73.5 186.75h9M130.5 186.75h1.5M201 186.75h3M46.5 188.25h1.5M73.5 188.25h3M130.5 188.25h1.5M198 188.25h3M72 189.75h1.5M129 189.75h1.5M129 191.25h1.5M127.5 192.75h3M190.5 192.75h1.5M57 194.25h3M127.5 194.25h1.5M189 194.25h1.5M127.5 195.75h1.5M127.5 197.25h1.5M187.5 197.25h1.5M126 198.75h1.5M172.5 198.75h1.5M187.5 198.75h1.5M126 200.25h1.5M178.5 200.25h1.5M187.5 200.25h1.5M126 201.75h1.5M178.5 201.75h1.5M124.5 203.25h3M124.5 204.75h3M130.5 204.75h1.5M175.5 204.75h1.5M187.5 204.75h1.5M126 206.25h1.5M130.5 206.25h1.5M151.5 206.25h1.5M187.5 206.25h1.5M126 207.75h1.5M187.5 207.75h1.5M126 209.25h1.5M133.5 209.25h1.5M138 209.25h1.5M162 209.25h1.5M187.5 209.25h1.5M139.5 210.75h3M163.5 210.75h1.5M187.5 210.75h1.5M127.5 212.25h1.5M163.5 212.25h1.5M187.5 212.25h1.5M127.5 213.75h1.5M138 213.75h1.5M144 213.75h1.5M159 213.75h1.5M187.5 213.75h1.5M138 215.25h1.5M159 215.25h1.5M129 216.75h1.5M132 222.75h1.5M136.5 222.75h1.5M165 222.75h1.5M132 224.25h1.5M136.5 224.25h1.5M145.5 224.25h1.5M165 224.25h1.5M187.5 224.25h1.5M132 225.75h1.5M145.5 225.75h1.5M165 225.75h1.5M187.5 225.75h1.5M165 227.25h1.5M187.5 227.25h1.5M133.5 228.75h3M187.5 228.75h1.5M133.5 230.25h3M133.5 231.75h3M157.5 231.75h1.5M147 234.75h1.5M166.5 234.75h1.5M186 234.75h1.5M156 236.25h1.5M169.5 236.25h1.5M183 236.25h1.5"/>
<path stroke="#5b01b8" d="M171 5.25h15M163.5 6.75h3M189 6.75h3M160.5 8.25h3M192 8.25h3M36 9.75h27M159 9.75h1.5M195 9.75h1.5M28.5 11.25h6M64.5 11.25h4.5M157.5 11.25h3M196.5 11.25h1.5M208.5 11.25h6M24 12.75h4.5M70.5 12.75h3M156 12.75h3M196.5 12.75h3M207 12.75h7.5M21 14.25h3M73.5 14.25h3M156 14.25h3M196.5 14.25h3M205.5 14.25h4.5M211.5 14.25h3M18 15.75h4.5M76.5 15.75h3M156 15.75h3M196.5 15.75h3M204 15.75h4.5M211.5 15.75h3M16.5 17.25h4.5M79.5 17.25h1.5M154.5 17.25h4.5M196.5 17.25h1.5M202.5 17.25h4.5M210 17.25h3M219 17.25h3M228 17.25h1.5M16.5 18.75h3M81 18.75h3M154.5 18.75h4.5M195 18.75h3M202.5 18.75h4.5M208.5 18.75h4.5M216 18.75h1.5M16.5 20.25h3M81 20.25h3M145.5 20.25h13.5M192 20.25h3M202.5 20.25h13.5M231 20.25h1.5M16.5 21.75h3M81 21.75h3M141 21.75h18M190.5 21.75h3M204 21.75h10.5M18 23.25h3M81 23.25h3M136.5 23.25h4.5M186 23.25h4.5M210 23.25h3M19.5 24.75h3M79.5 24.75h3M135 24.75h1.5M178.5 24.75h7.5M210 24.75h1.5M232.5 24.75h1.5M21 26.25h4.5M76.5 26.25h4.5M99 26.25h6M132 26.25h3M171 26.25h9M210 26.25h1.5M232.5 26.25h1.5M25.5 27.75h4.5M70.5 27.75h3M96 27.75h3M105 27.75h3M130.5 27.75h3M172.5 27.75h6M208.5 27.75h1.5M232.5 27.75h1.5M30 29.25h7.5M66 29.25h1.5M97.5 29.25h1.5M106.5 29.25h3M129 29.25h9M174 29.25h4.5M208.5 29.25h1.5M232.5 29.25h1.5M42 30.75h7.5M61.5 30.75h3M99 30.75h9M129 30.75h3M175.5 30.75h4.5M52.5 32.25h7.5M129 32.25h1.5M174 32.25h9M207 32.25h1.5M232.5 32.25h1.5M150 33.75h1.5M172.5 33.75h1.5M178.5 33.75h6M207 33.75h1.5M232.5 33.75h1.5M180 35.25h6M232.5 35.25h1.5M180 36.75h1.5M184.5 36.75h3M232.5 36.75h1.5M129 38.25h3M180 38.25h1.5M186 38.25h1.5M232.5 38.25h1.5M129 39.75h1.5M133.5 39.75h3M129 41.25h1.5M178.5 41.25h1.5M187.5 41.25h1.5M72 42.75h3M129 42.75h1.5M175.5 42.75h1.5M72 44.25h3M129 44.25h1.5M189 44.25h1.5M231 44.25h1.5M72 45.75h1.5M75 45.75h1.5M130.5 45.75h1.5M231 45.75h1.5M54 47.25h1.5M72 47.25h4.5M130.5 47.25h1.5M231 47.25h1.5M51 48.75h1.5M72 48.75h3M130.5 48.75h1.5M70.5 50.25h1.5M130.5 50.25h3M195 50.25h1.5M205.5 50.25h1.5M70.5 51.75h1.5M94.5 51.75h4.5M106.5 51.75h6M132 51.75h1.5M198 51.75h3M204 51.75h3M70.5 53.25h1.5M87 53.25h4.5M112.5 53.25h4.5M118.5 53.25h1.5M132 53.25h3M201 53.25h6M70.5 54.75h1.5M85.5 54.75h1.5M115.5 54.75h4.5M133.5 54.75h1.5M204 54.75h1.5M85.5 56.25h1.5M133.5 56.25h3M165 56.25h1.5M85.5 57.75h1.5M133.5 57.75h4.5M231 57.75h1.5M85.5 59.25h1.5M135 59.25h4.5M156 59.25h1.5M201 59.25h4.5M231 59.25h1.5M85.5 60.75h1.5M136.5 60.75h4.5M198 60.75h1.5M231 60.75h1.5M87 62.25h1.5M139.5 62.25h3M205.5 62.25h1.5M231 62.25h1.5M141 63.75h4.5M196.5 63.75h1.5M205.5 63.75h1.5M231 63.75h1.5M43.5 65.25h1.5M67.5 65.25h1.5M90 65.25h1.5M142.5 65.25h4.5M205.5 65.25h1.5M45 66.75h1.5M67.5 66.75h1.5M91.5 66.75h1.5M117 66.75h3M144 66.75h3M67.5 68.25h1.5M115.5 68.25h4.5M144 68.25h4.5M156 68.25h1.5M96 69.75h1.5M112.5 69.75h3M118.5 69.75h1.5M144 69.75h6M49.5 71.25h1.5M99 71.25h13.5M144 71.25h7.5M51 72.75h4.5M60 72.75h1.5M145.5 72.75h7.5M145.5 74.25h10.5M183 74.25h1.5M145.5 75.75h12M145.5 77.25h13.5M145.5 78.75h15M145.5 80.25h16.5M231 80.25h1.5M145.5 81.75h18M231 81.75h1.5M145.5 83.25h19.5M171 83.25h1.5M180 83.25h1.5M231 83.25h1.5M145.5 84.75h21M231 84.75h1.5M145.5 86.25h21M231 86.25h1.5M72 87.75h6M90 87.75h4.5M145.5 87.75h22.5M70.5 89.25h3M78 89.25h1.5M90 89.25h6M145.5 89.25h24M205.5 89.25h1.5M69 90.75h3M78 90.75h1.5M91.5 90.75h6M144 90.75h27M229.5 90.75h1.5M67.5 92.25h3M78 92.25h1.5M93 92.25h4.5M144 92.25h28.5M229.5 92.25h1.5M64.5 93.75h4.5M78 93.75h1.5M142.5 93.75h33M226.5 93.75h3M63 95.25h1.5M78 95.25h1.5M142.5 95.25h37.5M222 95.25h1.5M60 96.75h1.5M78 96.75h1.5M58.5 98.25h1.5M106.5 98.25h7.5M57 99.75h1.5M79.5 99.75h1.5M105 99.75h12M55.5 101.25h1.5M81 101.25h1.5M105 101.25h15M208.5 101.25h1.5M220.5 101.25h1.5M54 102.75h1.5M82.5 102.75h1.5M106.5 102.75h13.5M190.5 102.75h1.5M52.5 104.25h1.5M84 104.25h1.5M106.5 104.25h13.5M223.5 104.25h1.5M52.5 105.75h1.5M85.5 105.75h1.5M108 105.75h12M144 105.75h4.5M168 105.75h9M198 105.75h1.5M226.5 105.75h3M55.5 107.25h1.5M85.5 107.25h1.5M109.5 107.25h10.5M139.5 107.25h1.5M177 107.25h1.5M187.5 107.25h1.5M228 107.25h1.5M58.5 108.75h1.5M85.5 108.75h1.5M111 108.75h4.5M136.5 108.75h1.5M177 108.75h1.5M187.5 108.75h1.5M196.5 108.75h1.5M228 108.75h1.5M84 110.25h3M177 110.25h1.5M186 110.25h1.5M196.5 110.25h1.5M228 110.25h1.5M64.5 111.75h4.5M79.5 111.75h4.5M186 111.75h1.5M196.5 111.75h1.5M228 111.75h1.5M133.5 113.25h1.5M196.5 113.25h1.5M228 113.25h1.5M195 114.75h1.5M210 114.75h1.5M228 114.75h1.5M132 116.25h1.5M184.5 116.25h1.5M195 116.25h1.5M210 116.25h1.5M228 116.25h1.5M132 117.75h1.5M184.5 117.75h1.5M195 117.75h1.5M210 117.75h1.5M228 117.75h1.5M132 119.25h1.5M184.5 119.25h1.5M195 119.25h1.5M226.5 119.25h3M132 120.75h1.5M184.5 120.75h1.5M195 120.75h1.5M226.5 120.75h1.5M132 122.25h1.5M184.5 122.25h1.5M195 122.25h1.5M226.5 122.25h1.5M69 123.75h18M96 123.75h3M132 123.75h1.5M184.5 123.75h1.5M195 123.75h1.5M225 123.75h3M66 125.25h6M88.5 125.25h13.5M132 125.25h1.5M184.5 125.25h1.5M195 125.25h1.5M225 125.25h3M66 126.75h4.5M97.5 126.75h6M177 126.75h1.5M184.5 126.75h1.5M196.5 126.75h1.5M225 126.75h1.5M66 128.25h3M99 128.25h4.5M177 128.25h1.5M196.5 128.25h1.5M223.5 128.25h3M66 129.75h3M99 129.75h4.5M133.5 129.75h1.5M177 129.75h1.5M186 129.75h1.5M196.5 129.75h1.5M223.5 129.75h1.5M64.5 131.25h4.5M99 131.25h4.5M135 131.25h1.5M177 131.25h1.5M196.5 131.25h1.5M222 131.25h3M66 132.75h3M99 132.75h4.5M136.5 132.75h3M177 132.75h1.5M187.5 132.75h1.5M222 132.75h1.5M66 134.25h4.5M97.5 134.25h6M142.5 134.25h1.5M175.5 134.25h3M198 134.25h1.5M220.5 134.25h1.5M67.5 135.75h6M94.5 135.75h7.5M189 135.75h1.5M198 135.75h1.5M220.5 135.75h1.5M69 137.25h9M88.5 137.25h10.5M210 137.25h1.5M219 137.25h1.5M73.5 138.75h21M190.5 138.75h1.5M219 138.75h1.5M219 140.25h1.5M219 141.75h1.5M219 143.25h1.5M103.5 144.75h7.5M147 144.75h24M220.5 144.75h1.5M102 146.25h12M144 146.25h33M100.5 147.75h15M144 147.75h28.5M222 147.75h3M99 149.25h4.5M112.5 149.25h7.5M145.5 149.25h25.5M223.5 149.25h1.5M97.5 150.75h4.5M114 150.75h6M145.5 150.75h24M205.5 150.75h1.5M223.5 150.75h1.5M97.5 152.25h3M115.5 152.25h4.5M145.5 152.25h22.5M223.5 152.25h3M97.5 153.75h3M115.5 153.75h4.5M145.5 153.75h21M223.5 153.75h3M97.5 155.25h1.5M117 155.25h3M145.5 155.25h21M223.5 155.25h3M97.5 156.75h1.5M145.5 156.75h19.5M171 156.75h1.5M180 156.75h1.5M223.5 156.75h3M97.5 158.25h1.5M145.5 158.25h18M223.5 158.25h3M97.5 159.75h1.5M145.5 159.75h16.5M223.5 159.75h3M97.5 161.25h1.5M145.5 161.25h15M223.5 161.25h1.5M97.5 162.75h1.5M145.5 162.75h13.5M223.5 162.75h1.5M61.5 164.25h1.5M97.5 164.25h1.5M145.5 164.25h12M222 164.25h3M97.5 165.75h1.5M117 165.75h1.5M145.5 165.75h10.5M183 165.75h1.5M222 165.75h3M51 167.25h4.5M97.5 167.25h3M117 167.25h3M145.5 167.25h7.5M220.5 167.25h3M49.5 168.75h1.5M61.5 168.75h1.5M97.5 168.75h3M115.5 168.75h4.5M145.5 168.75h6M219 168.75h4.5M66 170.25h1.5M99 170.25h3M114 170.25h6M145.5 170.25h4.5M219 170.25h3M99 171.75h3M112.5 171.75h7.5M145.5 171.75h4.5M156 171.75h1.5M199.5 171.75h1.5M217.5 171.75h4.5M46.5 173.25h1.5M69 173.25h1.5M99 173.25h7.5M109.5 173.25h7.5M118.5 173.25h1.5M145.5 173.25h3M205.5 173.25h1.5M216 173.25h4.5M102 174.75h10.5M145.5 174.75h1.5M196.5 174.75h1.5M214.5 174.75h4.5M43.5 176.25h1.5M145.5 176.25h1.5M207 176.25h1.5M211.5 176.25h6M70.5 177.75h1.5M75 177.75h3M144 177.75h1.5M207 177.75h7.5M43.5 179.25h1.5M76.5 179.25h3M144 179.25h1.5M208.5 179.25h1.5M72 180.75h1.5M79.5 180.75h1.5M142.5 180.75h1.5M156 180.75h1.5M199.5 180.75h1.5M141 182.25h1.5M201 182.25h3M72 183.75h1.5M138 183.75h3M202.5 183.75h1.5M45 185.25h1.5M72 185.25h1.5M133.5 185.25h4.5M201 185.25h1.5M72 186.75h1.5M132 186.75h3M199.5 186.75h1.5M72 188.25h1.5M132 188.25h1.5M196.5 188.25h1.5M70.5 189.75h1.5M130.5 189.75h3M51 191.25h1.5M130.5 191.25h1.5M192 191.25h1.5M130.5 192.75h1.5M60 194.25h1.5M129 194.25h1.5M129 195.75h1.5M129 197.25h1.5M127.5 198.75h1.5M127.5 200.25h1.5M127.5 201.75h1.5M132 201.75h1.5M138 201.75h1.5M127.5 203.25h1.5M130.5 203.25h1.5M127.5 204.75h3M174 204.75h1.5M127.5 206.25h3M127.5 207.75h1.5M130.5 207.75h1.5M127.5 209.25h1.5M139.5 209.25h1.5M127.5 210.75h1.5M138 210.75h1.5M142.5 210.75h1.5M138 212.25h1.5M144 212.25h1.5M159 212.25h1.5M129 213.75h1.5M129 215.25h1.5M187.5 215.25h1.5M187.5 216.75h1.5M130.5 218.25h1.5M165 218.25h1.5M187.5 218.25h1.5M132 219.75h1.5M136.5 219.75h1.5M145.5 219.75h1.5M165 219.75h1.5M187.5 219.75h1.5M132 221.25h1.5M136.5 221.25h1.5M145.5 221.25h1.5M165 221.25h1.5M187.5 221.25h1.5M145.5 222.75h1.5M187.5 222.75h1.5M133.5 224.25h3M133.5 225.75h3M133.5 227.25h3M157.5 227.25h1.5M157.5 228.75h1.5M157.5 230.25h1.5M166.5 231.75h1.5M186 231.75h1.5M147 233.25h1.5M166.5 233.25h1.5M186 233.25h1.5M168 234.75h1.5M184.5 234.75h1.5M148.5 236.25h1.5M154.5 236.25h1.5M171 236.25h3M180 236.25h3"/>
<path stroke="#5e01c0" d="M166.5 6.75h4.5M186 6.75h3M163.5 8.25h3M190.5 8.25h1.5M160.5 9.75h3M192 9.75h3M34.5 11.25h10.5M55.5 11.25h9M160.5 11.25h1.5M193.5 11.25h3M28.5 12.75h6M66 12.75h4.5M159 12.75h1.5M195 12.75h1.5M24 14.25h6M69 14.25h4.5M159 14.25h1.5M195 14.25h1.5M210 14.25h1.5M22.5 15.75h4.5M73.5 15.75h3M159 15.75h1.5M195 15.75h1.5M208.5 15.75h3M21 17.25h3M75 17.25h4.5M159 17.25h1.5M193.5 17.25h3M207 17.25h3M222 17.25h6M19.5 18.75h4.5M76.5 18.75h4.5M159 18.75h3M192 18.75h3M207 18.75h1.5M217.5 18.75h3M229.5 18.75h1.5M19.5 20.25h4.5M78 20.25h3M159 20.25h4.5M190.5 20.25h1.5M216 20.25h1.5M19.5 21.75h4.5M78 21.75h3M159 21.75h6M186 21.75h4.5M214.5 21.75h1.5M231 21.75h1.5M21 23.25h4.5M78 23.25h3M141 23.25h28.5M180 23.25h6M213 23.25h1.5M22.5 24.75h4.5M76.5 24.75h3M136.5 24.75h4.5M154.5 24.75h24M211.5 24.75h1.5M25.5 26.25h6M72 26.25h4.5M135 26.25h3M162 26.25h9M30 27.75h6M67.5 27.75h3M99 27.75h6M133.5 27.75h4.5M166.5 27.75h6M210 27.75h1.5M37.5 29.25h10.5M64.5 29.25h1.5M99 29.25h7.5M138 29.25h1.5M169.5 29.25h4.5M49.5 30.75h12M139.5 30.75h1.5M172.5 30.75h3M208.5 30.75h1.5M232.5 30.75h1.5M172.5 32.25h1.5M171 35.25h1.5M207 35.25h1.5M139.5 36.75h1.5M181.5 36.75h3M207 36.75h1.5M181.5 38.25h1.5M184.5 38.25h1.5M207 38.25h1.5M130.5 39.75h3M136.5 39.75h1.5M171 39.75h1.5M180 39.75h1.5M186 39.75h1.5M207 39.75h1.5M130.5 41.25h1.5M207 41.25h1.5M231 41.25h1.5M130.5 42.75h1.5M174 42.75h1.5M177 42.75h1.5M187.5 42.75h1.5M207 42.75h1.5M231 42.75h1.5M130.5 44.25h1.5M207 44.25h1.5M63 45.75h3M73.5 45.75h1.5M132 45.75h1.5M207 45.75h1.5M132 47.25h1.5M207 47.25h1.5M229.5 47.25h1.5M132 48.75h3M207 48.75h1.5M229.5 48.75h1.5M69 50.25h1.5M133.5 50.25h1.5M207 50.25h1.5M229.5 50.25h1.5M99 51.75h7.5M133.5 51.75h3M196.5 51.75h1.5M207 51.75h3M229.5 51.75h1.5M91.5 53.25h4.5M108 53.25h4.5M135 53.25h3M199.5 53.25h1.5M207 53.25h3M229.5 53.25h1.5M87 54.75h3M112.5 54.75h3M135 54.75h4.5M201 54.75h3M205.5 54.75h3M229.5 54.75h1.5M45 56.25h1.5M87 56.25h1.5M115.5 56.25h4.5M136.5 56.25h4.5M202.5 56.25h6M229.5 56.25h1.5M117 57.75h3M138 57.75h4.5M201 57.75h7.5M229.5 57.75h1.5M43.5 59.25h1.5M117 59.25h3M139.5 59.25h4.5M199.5 59.25h1.5M205.5 59.25h1.5M51 60.75h1.5M69 60.75h1.5M87 60.75h1.5M118.5 60.75h1.5M141 60.75h4.5M205.5 60.75h1.5M117 62.25h3M142.5 62.25h4.5M196.5 62.25h1.5M67.5 63.75h1.5M88.5 63.75h1.5M117 63.75h3M145.5 63.75h6M157.5 63.75h3M165 63.75h1.5M115.5 65.25h4.5M147 65.25h9M196.5 65.25h1.5M231 65.25h1.5M46.5 66.75h1.5M93 66.75h1.5M114 66.75h3M147 66.75h9M162 66.75h1.5M231 66.75h1.5M66 68.25h1.5M94.5 68.25h3M111 68.25h4.5M148.5 68.25h7.5M199.5 68.25h1.5M231 68.25h1.5M49.5 69.75h1.5M97.5 69.75h4.5M106.5 69.75h6M150 69.75h12M231 69.75h1.5M151.5 71.25h10.5M231 71.25h1.5M153 72.75h10.5M231 72.75h1.5M156 74.25h7.5M175.5 74.25h1.5M231 74.25h1.5M157.5 75.75h7.5M231 75.75h1.5M159 77.25h9M172.5 77.25h1.5M231 77.25h1.5M160.5 78.75h10.5M231 78.75h1.5M162 80.25h9M175.5 80.25h1.5M163.5 81.75h7.5M175.5 81.75h1.5M165 83.25h6M166.5 84.75h9M166.5 86.25h9M229.5 86.25h1.5M168 87.75h7.5M229.5 87.75h1.5M73.5 89.25h4.5M169.5 89.25h7.5M229.5 89.25h1.5M72 90.75h6M171 90.75h6M70.5 92.25h7.5M172.5 92.25h4.5M228 92.25h1.5M69 93.75h4.5M76.5 93.75h1.5M175.5 93.75h3M225 93.75h1.5M64.5 95.25h6M76.5 95.25h1.5M180 95.25h1.5M61.5 96.75h3M76.5 96.75h1.5M220.5 96.75h1.5M60 98.25h1.5M78 98.25h1.5M58.5 99.75h1.5M204 99.75h3M57 101.25h1.5M79.5 101.25h1.5M55.5 102.75h1.5M54 104.25h1.5M82.5 104.25h1.5M190.5 104.25h1.5M198 104.25h1.5M210 104.25h1.5M222 104.25h1.5M54 105.75h3M84 105.75h1.5M148.5 105.75h19.5M189 105.75h1.5M196.5 105.75h1.5M210 105.75h1.5M225 105.75h1.5M57 107.25h1.5M84 107.25h1.5M141 107.25h1.5M175.5 107.25h1.5M189 107.25h1.5M196.5 107.25h1.5M210 107.25h1.5M226.5 107.25h1.5M60 108.75h1.5M82.5 108.75h3M138 108.75h1.5M189 108.75h1.5M195 108.75h1.5M210 108.75h1.5M226.5 108.75h1.5M61.5 110.25h3M81 110.25h3M135 110.25h1.5M187.5 110.25h3M195 110.25h1.5M210 110.25h1.5M226.5 110.25h1.5M69 111.75h10.5M177 111.75h1.5M187.5 111.75h1.5M193.5 111.75h3M210 111.75h1.5M226.5 111.75h1.5M177 113.25h1.5M186 113.25h3M193.5 113.25h3M210 113.25h1.5M226.5 113.25h1.5M133.5 114.75h1.5M177 114.75h1.5M186 114.75h3M192 114.75h3M226.5 114.75h1.5M186 116.25h3M190.5 116.25h4.5M225 116.25h3M186 117.75h1.5M190.5 117.75h4.5M211.5 117.75h1.5M225 117.75h3M186 119.25h1.5M190.5 119.25h4.5M211.5 119.25h1.5M225 119.25h1.5M186 120.75h1.5M190.5 120.75h4.5M211.5 120.75h1.5M223.5 120.75h3M177 122.25h1.5M186 122.25h1.5M190.5 122.25h4.5M211.5 122.25h1.5M223.5 122.25h3M177 123.75h1.5M186 123.75h1.5M190.5 123.75h4.5M211.5 123.75h1.5M223.5 123.75h1.5M72 125.25h16.5M133.5 125.25h1.5M177 125.25h1.5M186 125.25h1.5M192 125.25h3M211.5 125.25h1.5M222 125.25h3M70.5 126.75h27M133.5 126.75h1.5M186 126.75h3M193.5 126.75h3M211.5 126.75h1.5M222 126.75h3M69 128.25h10.5M87 128.25h12M133.5 128.25h1.5M186 128.25h3M193.5 128.25h3M211.5 128.25h1.5M220.5 128.25h3M69 129.75h9M88.5 129.75h10.5M135 129.75h1.5M187.5 129.75h1.5M195 129.75h1.5M211.5 129.75h1.5M220.5 129.75h3M69 131.25h10.5M88.5 131.25h10.5M136.5 131.25h1.5M187.5 131.25h1.5M195 131.25h1.5M211.5 131.25h1.5M219 131.25h3M69 132.75h30M139.5 132.75h1.5M189 132.75h1.5M196.5 132.75h1.5M211.5 132.75h1.5M219 132.75h3M70.5 134.25h27M144 134.25h6M166.5 134.25h9M189 134.25h1.5M196.5 134.25h1.5M211.5 134.25h1.5M217.5 134.25h3M73.5 135.75h21M211.5 135.75h1.5M217.5 135.75h3M78 137.25h10.5M190.5 137.25h1.5M217.5 137.25h1.5M199.5 138.75h1.5M217.5 138.75h1.5M204 140.25h4.5M217.5 140.25h1.5M190.5 143.25h1.5M180 144.75h1.5M219 144.75h1.5M177 146.25h1.5M220.5 146.25h1.5M172.5 147.75h4.5M220.5 147.75h1.5M103.5 149.25h9M171 149.25h6M222 149.25h1.5M102 150.75h12M169.5 150.75h7.5M222 150.75h1.5M100.5 152.25h15M168 152.25h7.5M222 152.25h1.5M100.5 153.75h15M166.5 153.75h9M222 153.75h1.5M99 155.25h18M166.5 155.25h9M222 155.25h1.5M99 156.75h7.5M109.5 156.75h10.5M165 156.75h6M222 156.75h1.5M99 158.25h6M111 158.25h9M163.5 158.25h7.5M175.5 158.25h1.5M222 158.25h1.5M99 159.75h6M111 159.75h9M162 159.75h9M175.5 159.75h1.5M220.5 159.75h3M99 161.25h6M111 161.25h9M160.5 161.25h10.5M220.5 161.25h3M99 162.75h6M111 162.75h9M159 162.75h9M172.5 162.75h1.5M219 162.75h4.5M99 164.25h6M111 164.25h9M157.5 164.25h7.5M219 164.25h3M99 165.75h18M118.5 165.75h1.5M156 165.75h7.5M175.5 165.75h1.5M217.5 165.75h4.5M60 167.25h1.5M100.5 167.25h16.5M153 167.25h10.5M217.5 167.25h3M70.5 168.75h1.5M100.5 168.75h15M151.5 168.75h10.5M216 168.75h3M49.5 170.25h1.5M102 170.25h12M150 170.25h12M214.5 170.25h4.5M102 171.75h10.5M150 171.75h6M204 171.75h1.5M213 171.75h4.5M106.5 173.25h3M148.5 173.25h7.5M162 173.25h1.5M211.5 173.25h4.5M147 174.75h9M207 174.75h7.5M147 176.25h4.5M157.5 176.25h3M165 176.25h1.5M208.5 176.25h3M43.5 177.75h1.5M145.5 177.75h1.5M196.5 177.75h1.5M51 179.25h1.5M72 179.25h1.5M45 182.25h1.5M45 183.75h1.5M141 183.75h1.5M165 183.75h1.5M201 183.75h1.5M138 185.25h3M199.5 185.25h1.5M135 186.75h4.5M198 186.75h1.5M133.5 188.25h3M195 188.25h1.5M69 189.75h1.5M133.5 189.75h1.5M193.5 189.75h1.5M132 191.25h3M54 192.75h1.5M132 192.75h1.5M66 194.25h1.5M130.5 194.25h1.5M130.5 195.75h1.5M187.5 195.75h1.5M130.5 197.25h1.5M129 198.75h1.5M129 200.25h1.5M129 201.75h3M171 201.75h1.5M186 201.75h1.5M129 203.25h1.5M178.5 203.25h1.5M186 203.25h1.5M177 204.75h1.5M186 204.75h1.5M139.5 206.25h1.5M186 206.25h1.5M129 207.75h1.5M139.5 207.75h1.5M129 209.25h1.5M132 209.25h1.5M160.5 209.25h1.5M163.5 209.25h1.5M129 210.75h1.5M136.5 210.75h1.5M159 210.75h1.5M129 212.25h1.5M165 215.25h1.5M130.5 216.75h1.5M136.5 216.75h1.5M145.5 216.75h1.5M165 216.75h1.5M132 218.25h1.5M136.5 218.25h1.5M145.5 218.25h1.5M133.5 221.25h3M133.5 222.75h3M157.5 222.75h1.5M157.5 224.25h1.5M157.5 225.75h1.5M166.5 228.75h1.5M186 228.75h1.5M166.5 230.25h1.5M186 230.25h1.5M147 231.75h1.5M184.5 233.25h1.5M156 234.75h1.5M169.5 234.75h1.5M183 234.75h1.5M150 236.25h4.5M174 236.25h6"/>
<path stroke="#6101c8" d="M171 6.75h15M166.5 8.25h3M187.5 8.25h3M163.5 9.75h3M190.5 9.75h1.5M45 11.25h10.5M162 11.25h1.5M192 11.25h1.5M34.5 12.75h31.5M160.5 12.75h3M192 12.75h3M30 14.25h7.5M63 14.25h6M160.5 14.25h3M192 14.25h3M27 15.75h6M67.5 15.75h6M160.5 15.75h3M192 15.75h3M24 17.25h6M70.5 17.25h4.5M160.5 17.25h3M192 17.25h1.5M24 18.75h6M72 18.75h4.5M162 18.75h3M189 18.75h3M220.5 18.75h1.5M228 18.75h1.5M24 20.25h4.5M73.5 20.25h4.5M163.5 20.25h3M187.5 20.25h3M217.5 20.25h1.5M229.5 20.25h1.5M24 21.75h6M73.5 21.75h4.5M165 21.75h6M181.5 21.75h4.5M25.5 23.25h6M72 23.25h6M169.5 23.25h10.5M231 23.25h1.5M27 24.75h7.5M70.5 24.75h6M141 24.75h13.5M213 24.75h1.5M231 24.75h1.5M31.5 26.25h9M67.5 26.25h4.5M138 26.25h6M151.5 26.25h10.5M211.5 26.25h1.5M36 27.75h13.5M63 27.75h4.5M138 27.75h1.5M160.5 27.75h6M48 29.25h16.5M139.5 29.25h1.5M165 29.25h4.5M210 29.25h1.5M169.5 30.75h3M171 32.25h1.5M208.5 32.25h1.5M171 33.75h1.5M151.5 36.75h1.5M231 36.75h1.5M183 38.25h1.5M231 38.25h1.5M138 39.75h1.5M181.5 39.75h4.5M231 39.75h1.5M132 41.25h3M180 41.25h1.5M186 41.25h1.5M132 42.75h1.5M132 44.25h3M187.5 44.25h1.5M229.5 44.25h1.5M133.5 45.75h1.5M189 45.75h1.5M229.5 45.75h1.5M55.5 47.25h4.5M66 47.25h1.5M133.5 47.25h3M190.5 47.25h1.5M208.5 47.25h1.5M135 48.75h1.5M192 48.75h1.5M208.5 48.75h1.5M49.5 50.25h1.5M135 50.25h3M193.5 50.25h1.5M208.5 50.25h1.5M136.5 51.75h3M195 51.75h1.5M228 51.75h1.5M46.5 53.25h1.5M96 53.25h12M138 53.25h3M198 53.25h1.5M210 53.25h1.5M228 53.25h1.5M90 54.75h4.5M108 54.75h4.5M139.5 54.75h3M199.5 54.75h1.5M208.5 54.75h3M228 54.75h1.5M88.5 56.25h3M111 56.25h4.5M141 56.25h1.5M199.5 56.25h3M208.5 56.25h1.5M45 57.75h1.5M87 57.75h1.5M112.5 57.75h4.5M199.5 57.75h1.5M208.5 57.75h1.5M87 59.25h1.5M114 59.25h3M198 59.25h1.5M207 59.25h3M229.5 59.25h1.5M88.5 60.75h1.5M114 60.75h4.5M207 60.75h1.5M229.5 60.75h1.5M67.5 62.25h1.5M88.5 62.25h1.5M114 62.25h3M147 62.25h3M207 62.25h1.5M229.5 62.25h1.5M90 63.75h1.5M114 63.75h3M151.5 63.75h6M207 63.75h1.5M229.5 63.75h1.5M91.5 65.25h3M112.5 65.25h3M229.5 65.25h1.5M66 66.75h1.5M94.5 66.75h1.5M109.5 66.75h4.5M163.5 66.75h1.5M205.5 66.75h1.5M229.5 66.75h1.5M64.5 68.25h1.5M97.5 68.25h3M105 68.25h6M162 68.25h1.5M204 68.25h1.5M61.5 69.75h1.5M102 69.75h4.5M162 69.75h1.5M51 71.25h1.5M55.5 71.25h6M162 71.25h1.5M163.5 72.75h1.5M163.5 74.25h3M165 75.75h3M172.5 75.75h1.5M168 77.25h4.5M229.5 78.75h1.5M229.5 80.25h1.5M229.5 81.75h1.5M175.5 83.25h1.5M229.5 83.25h1.5M175.5 84.75h1.5M229.5 84.75h1.5M175.5 86.25h1.5M175.5 87.75h1.5M228 87.75h1.5M228 89.25h1.5M177 90.75h1.5M228 90.75h1.5M177 92.25h1.5M226.5 92.25h1.5M73.5 93.75h3M178.5 93.75h1.5M223.5 93.75h1.5M70.5 95.25h6M64.5 96.75h12M190.5 96.75h1.5M61.5 98.25h3M76.5 98.25h1.5M192 98.25h1.5M60 99.75h1.5M78 99.75h1.5M192 99.75h1.5M207 99.75h1.5M58.5 101.25h1.5M78 101.25h1.5M192 101.25h1.5M199.5 101.25h1.5M57 102.75h1.5M79.5 102.75h3M192 102.75h1.5M198 102.75h1.5M210 102.75h1.5M220.5 102.75h1.5M55.5 104.25h3M81 104.25h1.5M192 104.25h1.5M196.5 104.25h1.5M57 105.75h1.5M82.5 105.75h1.5M190.5 105.75h6M223.5 105.75h1.5M58.5 107.25h1.5M81 107.25h3M142.5 107.25h1.5M172.5 107.25h3M190.5 107.25h6M225 107.25h1.5M61.5 108.75h1.5M79.5 108.75h3M139.5 108.75h1.5M175.5 108.75h1.5M190.5 108.75h4.5M225 108.75h1.5M64.5 110.25h4.5M75 110.25h6M136.5 110.25h1.5M190.5 110.25h4.5M225 110.25h1.5M135 111.75h1.5M189 111.75h4.5M211.5 111.75h1.5M223.5 111.75h3M135 113.25h1.5M189 113.25h4.5M211.5 113.25h1.5M223.5 113.25h3M189 114.75h3M211.5 114.75h1.5M223.5 114.75h3M133.5 116.25h1.5M177 116.25h1.5M189 116.25h1.5M211.5 116.25h1.5M222 116.25h3M133.5 117.75h1.5M177 117.75h1.5M187.5 117.75h3M213 117.75h1.5M222 117.75h3M133.5 119.25h1.5M177 119.25h1.5M187.5 119.25h3M213 119.25h1.5M220.5 119.25h4.5M133.5 120.75h1.5M177 120.75h1.5M187.5 120.75h3M213 120.75h1.5M220.5 120.75h3M133.5 122.25h1.5M187.5 122.25h3M213 122.25h1.5M220.5 122.25h3M133.5 123.75h1.5M187.5 123.75h3M213 123.75h1.5M219 123.75h4.5M187.5 125.25h4.5M213 125.25h3M219 125.25h3M135 126.75h1.5M189 126.75h4.5M213 126.75h9M79.5 128.25h7.5M135 128.25h1.5M189 128.25h4.5M213 128.25h7.5M78 129.75h10.5M136.5 129.75h1.5M175.5 129.75h1.5M189 129.75h6M213 129.75h7.5M79.5 131.25h9M138 131.25h1.5M175.5 131.25h1.5M189 131.25h6M213 131.25h6M141 132.75h3M174 132.75h3M190.5 132.75h6M213 132.75h6M150 134.25h16.5M190.5 134.25h6M213 134.25h4.5M190.5 135.75h1.5M196.5 135.75h1.5M213 135.75h4.5M198 137.25h1.5M211.5 137.25h6M192 138.75h1.5M210 138.75h1.5M216 138.75h1.5M192 140.25h1.5M202.5 140.25h1.5M208.5 140.25h1.5M216 140.25h1.5M217.5 141.75h1.5M217.5 143.25h1.5M217.5 144.75h1.5M178.5 146.25h1.5M219 146.25h1.5M177 147.75h1.5M219 147.75h1.5M177 149.25h1.5M219 149.25h3M219 150.75h3M175.5 152.25h1.5M219 152.25h3M175.5 153.75h1.5M219 153.75h3M175.5 155.25h1.5M219 155.25h3M106.5 156.75h3M175.5 156.75h1.5M219 156.75h3M105 158.25h6M219 158.25h3M105 159.75h6M217.5 159.75h3M105 161.25h6M217.5 161.25h3M105 162.75h6M168 162.75h4.5M216 162.75h3M105 164.25h6M165 164.25h3M172.5 164.25h1.5M216 164.25h3M163.5 165.75h3M214.5 165.75h3M163.5 167.25h1.5M214.5 167.25h3M51 168.75h1.5M55.5 168.75h6M69 168.75h1.5M162 168.75h1.5M213 168.75h3M61.5 170.25h1.5M70.5 170.25h1.5M162 170.25h1.5M211.5 170.25h3M162 171.75h1.5M205.5 171.75h1.5M210 171.75h3M163.5 173.25h1.5M207 173.25h4.5M45 174.75h1.5M151.5 176.25h6M69 177.75h1.5M147 177.75h3M145.5 179.25h1.5M45 180.75h1.5M144 180.75h1.5M198 180.75h1.5M142.5 182.25h1.5M199.5 182.25h1.5M199.5 183.75h1.5M141 185.25h1.5M198 185.25h1.5M70.5 186.75h1.5M139.5 186.75h1.5M196.5 186.75h1.5M70.5 188.25h1.5M136.5 188.25h4.5M49.5 189.75h1.5M135 189.75h3M135 191.25h1.5M133.5 192.75h3M61.5 194.25h1.5M132 194.25h3M132 195.75h1.5M132 197.25h1.5M174 197.25h3M130.5 198.75h3M178.5 198.75h1.5M186 198.75h1.5M130.5 200.25h7.5M186 200.25h1.5M139.5 204.75h1.5M172.5 204.75h1.5M186 207.75h1.5M130.5 209.25h1.5M141 209.25h1.5M186 209.25h1.5M130.5 210.75h1.5M135 210.75h1.5M186 210.75h1.5M130.5 212.25h1.5M136.5 212.25h1.5M165 212.25h1.5M186 212.25h1.5M130.5 213.75h1.5M136.5 213.75h1.5M165 213.75h1.5M186 213.75h1.5M130.5 215.25h1.5M136.5 215.25h1.5M145.5 215.25h1.5M186 215.25h1.5M132 216.75h1.5M186 216.75h1.5M133.5 218.25h3M157.5 218.25h1.5M186 218.25h1.5M133.5 219.75h3M157.5 219.75h1.5M186 219.75h1.5M157.5 221.25h1.5M186 221.25h1.5M186 222.75h1.5M166.5 224.25h1.5M186 224.25h1.5M166.5 225.75h1.5M186 225.75h1.5M147 227.25h1.5M166.5 227.25h1.5M186 227.25h1.5M147 228.75h1.5M147 230.25h1.5M168 231.75h1.5M184.5 231.75h1.5M156 233.25h1.5M168 233.25h1.5M183 233.25h1.5M148.5 234.75h1.5M171 234.75h1.5M180 234.75h3"/>
<path stroke="#6301d0" d="M169.5 8.25h4.5M181.5 8.25h6M166.5 9.75h3M187.5 9.75h3M163.5 11.25h3M189 11.25h3M163.5 12.75h1.5M190.5 12.75h1.5M37.5 14.25h25.5M163.5 14.25h1.5M190.5 14.25h1.5M33 15.75h34.5M163.5 15.75h1.5M190.5 15.75h1.5M30 17.25h40.5M163.5 17.25h3M189 17.25h3M30 18.75h42M165 18.75h3M186 18.75h3M222 18.75h6M28.5 20.25h27M58.5 20.25h15M166.5 20.25h4.5M183 20.25h4.5M219 20.25h1.5M228 20.25h1.5M30 21.75h22.5M61.5 21.75h12M171 21.75h10.5M216 21.75h1.5M229.5 21.75h1.5M31.5 23.25h24M58.5 23.25h13.5M214.5 23.25h1.5M34.5 24.75h36M40.5 26.25h27M144 26.25h7.5M231 26.25h1.5M49.5 27.75h13.5M139.5 27.75h6M150 27.75h10.5M211.5 27.75h1.5M231 27.75h1.5M162 29.25h3M231 29.25h1.5M165 30.75h4.5M210 30.75h1.5M231 30.75h1.5M151.5 32.25h1.5M168 32.25h3M231 32.25h1.5M169.5 33.75h1.5M208.5 33.75h1.5M231 33.75h1.5M169.5 35.25h1.5M208.5 35.25h1.5M231 35.25h1.5M169.5 36.75h1.5M139.5 38.25h1.5M135 41.25h3M162 41.25h1.5M183 41.25h3M229.5 41.25h1.5M133.5 42.75h3M178.5 42.75h1.5M186 42.75h1.5M208.5 42.75h1.5M229.5 42.75h1.5M135 44.25h1.5M208.5 44.25h1.5M135 45.75h3M208.5 45.75h1.5M60 47.25h1.5M136.5 47.25h3M228 47.25h1.5M136.5 48.75h4.5M210 48.75h1.5M228 48.75h1.5M138 50.25h3M210 50.25h1.5M228 50.25h1.5M48 51.75h1.5M60 51.75h1.5M139.5 51.75h3M210 51.75h1.5M141 53.25h1.5M196.5 53.25h1.5M211.5 53.25h1.5M94.5 54.75h13.5M198 54.75h1.5M211.5 54.75h1.5M91.5 56.25h6M105 56.25h6M162 56.25h1.5M198 56.25h1.5M210 56.25h1.5M228 56.25h1.5M88.5 57.75h4.5M108 57.75h4.5M142.5 57.75h1.5M157.5 57.75h1.5M210 57.75h1.5M228 57.75h1.5M52.5 59.25h1.5M69 59.25h1.5M88.5 59.25h3M109.5 59.25h4.5M144 59.25h1.5M210 59.25h1.5M228 59.25h1.5M90 60.75h1.5M111 60.75h3M145.5 60.75h1.5M154.5 60.75h1.5M196.5 60.75h1.5M208.5 60.75h1.5M228 60.75h1.5M90 62.25h3M111 62.25h3M150 62.25h6M208.5 62.25h1.5M228 62.25h1.5M43.5 63.75h1.5M91.5 63.75h3M109.5 63.75h4.5M208.5 63.75h1.5M66 65.25h1.5M94.5 65.25h3M106.5 65.25h6M169.5 65.25h1.5M207 65.25h1.5M64.5 66.75h1.5M96 66.75h13.5M207 66.75h1.5M61.5 68.25h3M100.5 68.25h4.5M163.5 68.25h3M205.5 68.25h1.5M229.5 68.25h1.5M57 69.75h4.5M163.5 69.75h1.5M174 69.75h1.5M229.5 69.75h1.5M52.5 71.25h3M163.5 71.25h1.5M229.5 71.25h1.5M229.5 72.75h1.5M171 74.25h1.5M229.5 74.25h1.5M168 75.75h4.5M229.5 75.75h1.5M183 77.25h1.5M198 77.25h1.5M229.5 77.25h1.5M181.5 81.75h1.5M228 83.25h1.5M177 84.75h3M228 84.75h1.5M177 86.25h1.5M228 86.25h1.5M177 87.75h1.5M202.5 87.75h1.5M177 89.25h1.5M226.5 89.25h1.5M226.5 90.75h1.5M225 92.25h1.5M222 93.75h1.5M220.5 95.25h1.5M64.5 98.25h12M219 98.25h1.5M61.5 99.75h16.5M202.5 99.75h1.5M219 99.75h1.5M60 101.25h3M75 101.25h3M193.5 101.25h1.5M198 101.25h1.5M219 101.25h1.5M58.5 102.75h3M78 102.75h1.5M193.5 102.75h4.5M58.5 104.25h3M78 104.25h3M193.5 104.25h3M220.5 104.25h1.5M58.5 105.75h3M78 105.75h4.5M211.5 105.75h1.5M222 105.75h1.5M60 107.25h4.5M76.5 107.25h4.5M144 107.25h4.5M166.5 107.25h6M211.5 107.25h1.5M222 107.25h3M63 108.75h16.5M141 108.75h1.5M174 108.75h1.5M211.5 108.75h1.5M222 108.75h3M69 110.25h6M138 110.25h1.5M175.5 110.25h1.5M211.5 110.25h1.5M222 110.25h3M136.5 111.75h1.5M175.5 111.75h1.5M213 111.75h1.5M220.5 111.75h3M136.5 113.25h1.5M213 113.25h1.5M219 113.25h4.5M135 114.75h1.5M213 114.75h1.5M219 114.75h4.5M135 116.25h1.5M213 116.25h9M135 117.75h1.5M214.5 117.75h7.5M135 119.25h1.5M214.5 119.25h6M135 120.75h1.5M214.5 120.75h6M135 122.25h1.5M214.5 122.25h6M135 123.75h1.5M214.5 123.75h4.5M135 125.25h1.5M216 125.25h3M136.5 126.75h1.5M175.5 126.75h1.5M136.5 128.25h1.5M175.5 128.25h1.5M138 129.75h1.5M139.5 131.25h3M174 131.25h1.5M144 132.75h3M169.5 132.75h4.5M192 135.75h4.5M192 137.25h6M193.5 138.75h1.5M198 138.75h1.5M211.5 138.75h4.5M210 140.25h6M192 141.75h1.5M214.5 141.75h3M214.5 143.25h3M181.5 144.75h1.5M216 144.75h1.5M216 146.25h3M216 147.75h3M217.5 149.25h1.5M177 150.75h1.5M217.5 150.75h1.5M177 152.25h1.5M202.5 152.25h1.5M217.5 152.25h1.5M177 153.75h1.5M217.5 153.75h1.5M177 155.25h3M217.5 155.25h1.5M216 156.75h3M181.5 158.25h1.5M216 158.25h3M216 159.75h1.5M214.5 161.25h3M183 162.75h1.5M198 162.75h1.5M214.5 162.75h1.5M168 164.25h4.5M213 164.25h3M171 165.75h1.5M213 165.75h1.5M211.5 167.25h3M52.5 168.75h3M163.5 168.75h1.5M210 168.75h3M57 170.25h4.5M67.5 170.25h1.5M163.5 170.25h1.5M174 170.25h1.5M202.5 170.25h3M207 170.25h4.5M63 171.75h4.5M69 171.75h1.5M163.5 171.75h3M207 171.75h3M67.5 173.25h1.5M67.5 174.75h1.5M169.5 174.75h1.5M67.5 176.25h1.5M150 177.75h6M70.5 179.25h1.5M154.5 179.25h1.5M196.5 179.25h1.5M52.5 180.75h1.5M70.5 180.75h1.5M70.5 182.25h1.5M157.5 182.25h1.5M198 182.25h1.5M70.5 183.75h1.5M142.5 183.75h1.5M162 183.75h1.5M198 183.75h1.5M70.5 185.25h1.5M196.5 185.25h1.5M46.5 186.75h1.5M141 186.75h1.5M195 186.75h1.5M48 188.25h1.5M60 188.25h1.5M141 188.25h1.5M138 189.75h3M136.5 191.25h4.5M55.5 192.75h1.5M58.5 192.75h1.5M66 192.75h1.5M136.5 192.75h3M63 194.25h3M135 194.25h3M187.5 194.25h1.5M133.5 195.75h3M133.5 197.25h1.5M177 197.25h1.5M186 197.25h1.5M133.5 198.75h3M162 198.75h1.5M138 200.25h1.5M171 200.25h1.5M180 201.75h1.5M184.5 201.75h1.5M171 203.25h1.5M184.5 203.25h1.5M184.5 204.75h1.5M150 206.25h1.5M184.5 206.25h1.5M132 210.75h3M144 210.75h1.5M165 210.75h1.5M132 212.25h1.5M135 212.25h1.5M132 213.75h1.5M135 213.75h1.5M145.5 213.75h1.5M132 215.25h4.5M157.5 215.25h1.5M133.5 216.75h3M157.5 216.75h1.5M166.5 218.25h1.5M166.5 219.75h1.5M166.5 221.25h1.5M147 222.75h1.5M166.5 222.75h1.5M147 224.25h1.5M147 225.75h1.5M184.5 227.25h1.5M168 228.75h1.5M184.5 228.75h1.5M156 230.25h1.5M168 230.25h1.5M184.5 230.25h1.5M156 231.75h1.5M183 231.75h1.5M148.5 233.25h1.5M169.5 233.25h3M181.5 233.25h1.5M150 234.75h1.5M153 234.75h3M172.5 234.75h7.5"/>
<path stroke="#6601d7" d="M174 8.25h7.5M169.5 9.75h6M180 9.75h7.5M166.5 11.25h4.5M184.5 11.25h4.5M165 12.75h4.5M186 12.75h4.5M165 14.25h3M187.5 14.25h3M165 15.75h3M186 15.75h4.5M166.5 17.25h3M184.5 17.25h4.5M168 18.75h4.5M181.5 18.75h4.5M55.5 20.25h3M171 20.25h12M220.5 20.25h1.5M226.5 20.25h1.5M52.5 21.75h9M217.5 21.75h1.5M228 21.75h1.5M55.5 23.25h3M216 23.25h1.5M229.5 23.25h1.5M214.5 24.75h1.5M229.5 24.75h1.5M213 26.25h1.5M145.5 27.75h4.5M141 29.25h1.5M151.5 29.25h10.5M211.5 29.25h1.5M141 30.75h1.5M163.5 30.75h1.5M166.5 32.25h1.5M210 32.25h1.5M153 33.75h1.5M168 33.75h1.5M208.5 36.75h1.5M229.5 36.75h1.5M208.5 38.25h1.5M229.5 38.25h1.5M139.5 39.75h1.5M208.5 39.75h1.5M229.5 39.75h1.5M138 41.25h1.5M181.5 41.25h1.5M208.5 41.25h1.5M136.5 42.75h3M184.5 42.75h1.5M136.5 44.25h3M186 44.25h1.5M228 44.25h1.5M138 45.75h3M187.5 45.75h1.5M210 45.75h1.5M228 45.75h1.5M139.5 47.25h3M210 47.25h1.5M52.5 48.75h1.5M141 48.75h1.5M211.5 48.75h1.5M226.5 48.75h1.5M67.5 50.25h1.5M141 50.25h1.5M211.5 50.25h1.5M226.5 50.25h1.5M61.5 51.75h1.5M69 51.75h1.5M211.5 51.75h1.5M226.5 51.75h1.5M195 53.25h1.5M226.5 53.25h1.5M196.5 54.75h1.5M213 54.75h1.5M226.5 54.75h1.5M97.5 56.25h7.5M142.5 56.25h1.5M157.5 56.25h1.5M211.5 56.25h3M226.5 56.25h1.5M69 57.75h1.5M93 57.75h15M198 57.75h1.5M211.5 57.75h1.5M226.5 57.75h1.5M45 59.25h1.5M91.5 59.25h18M211.5 59.25h1.5M226.5 59.25h1.5M43.5 60.75h1.5M67.5 60.75h1.5M91.5 60.75h19.5M147 60.75h1.5M210 60.75h3M226.5 60.75h1.5M43.5 62.25h1.5M51 62.25h1.5M93 62.25h18M210 62.25h1.5M226.5 62.25h1.5M66 63.75h1.5M94.5 63.75h15M210 63.75h1.5M228 63.75h1.5M45 65.25h1.5M97.5 65.25h9M163.5 65.25h1.5M208.5 65.25h1.5M228 65.25h1.5M48 66.75h1.5M63 66.75h1.5M208.5 66.75h1.5M228 66.75h1.5M58.5 68.25h3M207 68.25h1.5M228 68.25h1.5M202.5 69.75h3M228 69.75h1.5M228 71.25h1.5M165 72.75h1.5M228 72.75h1.5M166.5 74.25h1.5M228 74.25h1.5M174 75.75h1.5M228 75.75h1.5M228 77.25h1.5M228 78.75h1.5M228 80.25h1.5M183 81.75h1.5M228 81.75h1.5M226.5 83.25h1.5M226.5 84.75h1.5M205.5 86.25h1.5M226.5 86.25h1.5M226.5 87.75h1.5M225 89.25h1.5M225 90.75h1.5M178.5 92.25h1.5M223.5 92.25h1.5M181.5 95.25h1.5M219 96.75h1.5M193.5 98.25h1.5M193.5 99.75h3M199.5 99.75h3M208.5 99.75h1.5M63 101.25h12M195 101.25h3M210 101.25h1.5M61.5 102.75h16.5M211.5 102.75h1.5M219 102.75h1.5M61.5 104.25h16.5M211.5 104.25h1.5M219 104.25h1.5M61.5 105.75h16.5M213 105.75h1.5M220.5 105.75h1.5M64.5 107.25h12M148.5 107.25h18M213 107.25h1.5M219 107.25h3M142.5 108.75h3M171 108.75h3M213 108.75h3M217.5 108.75h4.5M139.5 110.25h3M174 110.25h1.5M213 110.25h9M138 111.75h3M214.5 111.75h6M138 113.25h1.5M175.5 113.25h1.5M214.5 113.25h4.5M136.5 114.75h1.5M175.5 114.75h1.5M214.5 114.75h4.5M136.5 116.25h1.5M175.5 116.25h1.5M136.5 117.75h1.5M175.5 117.75h1.5M136.5 119.25h1.5M136.5 120.75h1.5M175.5 120.75h1.5M136.5 122.25h1.5M175.5 122.25h1.5M136.5 123.75h1.5M175.5 123.75h1.5M136.5 125.25h1.5M175.5 125.25h1.5M138 126.75h1.5M138 128.25h3M174 128.25h1.5M139.5 129.75h3M174 129.75h1.5M142.5 131.25h3M171 131.25h3M147 132.75h6M163.5 132.75h6M195 138.75h3M193.5 140.25h9M193.5 141.75h1.5M210 141.75h4.5M211.5 143.25h3M213 144.75h3M213 146.25h3M178.5 147.75h1.5M214.5 147.75h1.5M214.5 149.25h3M214.5 150.75h3M207 152.25h1.5M214.5 152.25h3M205.5 153.75h1.5M214.5 153.75h3M214.5 155.25h3M214.5 156.75h1.5M183 158.25h1.5M214.5 158.25h1.5M213 159.75h3M213 161.25h1.5M211.5 162.75h3M174 164.25h1.5M211.5 164.25h1.5M166.5 165.75h1.5M210 165.75h3M165 167.25h1.5M208.5 167.25h3M207 168.75h3M69 170.25h1.5M201 170.25h1.5M205.5 170.25h1.5M49.5 171.75h1.5M58.5 171.75h4.5M67.5 171.75h1.5M48 173.25h1.5M64.5 173.25h3M66 174.75h1.5M163.5 174.75h1.5M51 177.75h1.5M67.5 177.75h1.5M45 179.25h1.5M69 179.25h1.5M147 179.25h1.5M46.5 180.75h1.5M196.5 180.75h1.5M46.5 182.25h1.5M157.5 183.75h1.5M196.5 183.75h1.5M61.5 188.25h1.5M69 188.25h1.5M193.5 188.25h1.5M67.5 189.75h1.5M141 189.75h1.5M52.5 191.25h1.5M141 191.25h1.5M57 192.75h1.5M60 192.75h1.5M139.5 192.75h3M138 194.25h3M136.5 195.75h3M186 195.75h1.5M135 197.25h4.5M136.5 198.75h3M184.5 198.75h1.5M180 200.25h1.5M184.5 200.25h1.5M139.5 203.25h1.5M180 203.25h1.5M178.5 204.75h1.5M175.5 206.25h1.5M163.5 207.75h1.5M184.5 207.75h1.5M159 209.25h1.5M165 209.25h1.5M184.5 209.25h1.5M184.5 210.75h1.5M133.5 212.25h1.5M145.5 212.25h1.5M157.5 212.25h1.5M184.5 212.25h1.5M133.5 213.75h1.5M157.5 213.75h1.5M166.5 213.75h1.5M184.5 213.75h1.5M166.5 215.25h1.5M184.5 215.25h1.5M166.5 216.75h1.5M184.5 216.75h1.5M184.5 218.25h1.5M147 219.75h1.5M184.5 219.75h1.5M147 221.25h1.5M184.5 221.25h1.5M184.5 222.75h1.5M168 224.25h1.5M184.5 224.25h1.5M156 225.75h1.5M168 225.75h1.5M184.5 225.75h1.5M156 227.25h1.5M168 227.25h1.5M148.5 228.75h1.5M156 228.75h1.5M183 228.75h1.5M148.5 230.25h1.5M169.5 230.25h1.5M183 230.25h1.5M148.5 231.75h1.5M169.5 231.75h3M181.5 231.75h1.5M150 233.25h1.5M154.5 233.25h1.5M172.5 233.25h9M151.5 234.75h1.5"/>
<path stroke="#6901de" d="M175.5 9.75h4.5M171 11.25h13.5M169.5 12.75h16.5M168 14.25h19.5M168 15.75h18M169.5 17.25h15M172.5 18.75h9M222 20.25h4.5M219 21.75h1.5M228 23.25h1.5M214.5 26.25h1.5M229.5 26.25h1.5M213 27.75h1.5M229.5 27.75h1.5M142.5 29.25h1.5M148.5 29.25h3M229.5 29.25h1.5M151.5 30.75h4.5M162 30.75h1.5M211.5 30.75h1.5M229.5 30.75h1.5M153 32.25h1.5M165 32.25h1.5M229.5 32.25h1.5M166.5 33.75h1.5M210 33.75h1.5M229.5 33.75h1.5M168 35.25h1.5M229.5 35.25h1.5M150 36.75h1.5M169.5 38.25h1.5M139.5 41.25h1.5M228 41.25h1.5M139.5 42.75h1.5M172.5 42.75h1.5M180 42.75h4.5M210 42.75h1.5M228 42.75h1.5M139.5 44.25h1.5M184.5 44.25h1.5M210 44.25h1.5M141 45.75h1.5M226.5 45.75h1.5M61.5 47.25h1.5M211.5 47.25h1.5M226.5 47.25h1.5M142.5 48.75h1.5M51 50.25h1.5M142.5 50.25h1.5M213 50.25h1.5M225 50.25h1.5M193.5 51.75h1.5M213 51.75h1.5M225 51.75h1.5M58.5 53.25h1.5M69 53.25h1.5M213 53.25h3M225 53.25h1.5M46.5 54.75h1.5M69 54.75h1.5M142.5 54.75h1.5M195 54.75h1.5M214.5 54.75h1.5M225 54.75h1.5M46.5 56.25h1.5M69 56.25h1.5M196.5 56.25h1.5M214.5 56.25h1.5M223.5 56.25h3M46.5 57.75h1.5M166.5 57.75h1.5M196.5 57.75h1.5M213 57.75h3M223.5 57.75h3M46.5 59.25h1.5M51 59.25h1.5M196.5 59.25h1.5M213 59.25h3M225 59.25h1.5M153 60.75h1.5M156 60.75h1.5M213 60.75h1.5M225 60.75h1.5M66 62.25h1.5M156 62.25h1.5M166.5 62.25h3M211.5 62.25h3M225 62.25h1.5M169.5 63.75h1.5M211.5 63.75h1.5M225 63.75h3M64.5 65.25h1.5M162 65.25h1.5M210 65.25h3M226.5 65.25h1.5M58.5 66.75h4.5M196.5 66.75h1.5M210 66.75h1.5M226.5 66.75h1.5M49.5 68.25h1.5M57 68.25h1.5M166.5 68.25h1.5M208.5 68.25h1.5M226.5 68.25h1.5M55.5 69.75h1.5M165 69.75h1.5M175.5 69.75h1.5M201 69.75h1.5M205.5 69.75h3M226.5 69.75h1.5M165 71.25h1.5M177 71.25h1.5M226.5 71.25h1.5M171 72.75h1.5M177 72.75h1.5M181.5 72.75h1.5M226.5 72.75h1.5M168 74.25h3M226.5 74.25h1.5M226.5 75.75h1.5M174 77.25h1.5M226.5 77.25h1.5M226.5 78.75h1.5M226.5 80.25h1.5M226.5 81.75h1.5M177 83.25h3M225 83.25h1.5M225 84.75h1.5M178.5 86.25h1.5M225 86.25h1.5M207 87.75h1.5M225 87.75h1.5M202.5 89.25h1.5M223.5 89.25h1.5M223.5 90.75h1.5M222 92.25h1.5M220.5 93.75h1.5M219 95.25h1.5M192 96.75h1.5M195 98.25h1.5M217.5 98.25h1.5M196.5 99.75h3M210 99.75h1.5M217.5 99.75h1.5M211.5 101.25h1.5M217.5 101.25h1.5M213 102.75h1.5M217.5 102.75h1.5M213 104.25h6M214.5 105.75h6M214.5 107.25h4.5M145.5 108.75h4.5M166.5 108.75h4.5M216 108.75h1.5M142.5 110.25h3M171 110.25h3M141 111.75h1.5M172.5 111.75h3M139.5 113.25h1.5M174 113.25h1.5M138 114.75h3M138 116.25h1.5M138 117.75h1.5M138 119.25h1.5M175.5 119.25h1.5M138 120.75h1.5M138 122.25h1.5M138 123.75h1.5M138 125.25h3M174 125.25h1.5M139.5 126.75h1.5M174 126.75h1.5M141 128.25h1.5M172.5 128.25h1.5M142.5 129.75h3M171 129.75h3M145.5 131.25h4.5M166.5 131.25h4.5M153 132.75h10.5M195 141.75h1.5M208.5 141.75h1.5M192 143.25h1.5M210 143.25h1.5M211.5 144.75h1.5M180 146.25h1.5M211.5 146.25h1.5M211.5 147.75h3M211.5 149.25h3M202.5 150.75h1.5M211.5 150.75h3M211.5 152.25h3M178.5 153.75h1.5M211.5 153.75h3M211.5 155.25h3M177 156.75h3M211.5 156.75h3M211.5 158.25h3M211.5 159.75h1.5M211.5 161.25h1.5M174 162.75h1.5M210 162.75h1.5M210 164.25h1.5M168 165.75h3M208.5 165.75h1.5M171 167.25h1.5M177 167.25h1.5M181.5 167.25h1.5M205.5 167.25h3M165 168.75h1.5M177 168.75h1.5M204 168.75h3M55.5 170.25h1.5M165 170.25h1.5M175.5 170.25h1.5M57 171.75h1.5M166.5 171.75h1.5M58.5 173.25h6M196.5 173.25h1.5M64.5 174.75h1.5M162 174.75h1.5M45 176.25h1.5M66 176.25h1.5M169.5 176.25h1.5M156 177.75h1.5M166.5 177.75h3M153 179.25h1.5M156 179.25h1.5M48 180.75h1.5M51 180.75h1.5M144 182.25h1.5M166.5 182.25h1.5M196.5 182.25h1.5M46.5 183.75h1.5M46.5 185.25h1.5M142.5 185.25h1.5M195 185.25h1.5M58.5 186.75h1.5M51 189.75h1.5M142.5 189.75h1.5M192 189.75h1.5M142.5 191.25h1.5M189 192.75h1.5M141 194.25h1.5M139.5 195.75h1.5M139.5 197.25h1.5M184.5 197.25h1.5M139.5 198.75h1.5M180 198.75h1.5M139.5 200.25h1.5M181.5 200.25h3M139.5 201.75h1.5M181.5 201.75h3M151.5 203.25h1.5M181.5 203.25h3M171 204.75h1.5M180 204.75h4.5M174 206.25h1.5M177 206.25h1.5M183 206.25h1.5M162 207.75h1.5M165 207.75h1.5M183 207.75h1.5M183 209.25h1.5M157.5 210.75h1.5M166.5 210.75h1.5M183 210.75h1.5M166.5 212.25h1.5M183 212.25h1.5M183 213.75h1.5M183 215.25h1.5M147 216.75h1.5M168 216.75h1.5M183 216.75h1.5M147 218.25h1.5M168 218.25h1.5M183 218.25h1.5M156 219.75h1.5M168 219.75h1.5M183 219.75h1.5M156 221.25h1.5M168 221.25h1.5M183 221.25h1.5M156 222.75h1.5M168 222.75h1.5M183 222.75h1.5M148.5 224.25h1.5M156 224.25h1.5M169.5 224.25h1.5M183 224.25h1.5M148.5 225.75h1.5M169.5 225.75h1.5M183 225.75h1.5M148.5 227.25h1.5M169.5 227.25h3M181.5 227.25h3M154.5 228.75h1.5M169.5 228.75h3M180 228.75h3M150 230.25h1.5M154.5 230.25h1.5M171 230.25h4.5M177 230.25h6M150 231.75h6M172.5 231.75h9M151.5 233.25h3"/>
<path stroke="#6b01e5" d="M220.5 21.75h3M225 21.75h3M217.5 23.25h1.5M226.5 23.25h1.5M216 24.75h1.5M228 24.75h1.5M228 26.25h1.5M214.5 27.75h1.5M144 29.25h4.5M213 29.25h1.5M156 30.75h3M160.5 30.75h1.5M211.5 32.25h1.5M153 35.25h1.5M166.5 35.25h1.5M210 35.25h1.5M168 36.75h1.5M210 36.75h1.5M228 36.75h1.5M210 38.25h1.5M228 38.25h1.5M210 39.75h1.5M228 39.75h1.5M141 41.25h1.5M210 41.25h1.5M141 42.75h1.5M226.5 42.75h1.5M141 44.25h1.5M183 44.25h1.5M211.5 44.25h1.5M226.5 44.25h1.5M186 45.75h1.5M211.5 45.75h1.5M142.5 47.25h1.5M169.5 47.25h1.5M189 47.25h1.5M213 47.25h1.5M225 47.25h1.5M66 48.75h1.5M213 48.75h1.5M225 48.75h1.5M192 50.25h1.5M214.5 50.25h1.5M223.5 50.25h1.5M142.5 51.75h1.5M214.5 51.75h3M223.5 51.75h1.5M142.5 53.25h1.5M193.5 53.25h1.5M216 53.25h1.5M222 53.25h3M216 54.75h9M195 56.25h1.5M216 56.25h7.5M144 57.75h1.5M153 57.75h1.5M216 57.75h7.5M48 59.25h1.5M145.5 59.25h1.5M153 59.25h1.5M166.5 59.25h1.5M216 59.25h9M148.5 60.75h1.5M214.5 60.75h10.5M214.5 62.25h10.5M64.5 63.75h1.5M213 63.75h12M63 65.25h1.5M213 65.25h3M220.5 65.25h6M211.5 66.75h3M220.5 66.75h6M210 68.25h3M222 68.25h4.5M51 69.75h1.5M54 69.75h1.5M192 69.75h1.5M208.5 69.75h3M222 69.75h4.5M202.5 71.25h9M222 71.25h4.5M166.5 72.75h1.5M180 72.75h1.5M205.5 72.75h4.5M223.5 72.75h3M223.5 74.25h3M223.5 75.75h3M223.5 77.25h3M223.5 78.75h3M223.5 80.25h3M223.5 81.75h3M223.5 83.25h1.5M222 84.75h3M180 86.25h3M204 86.25h1.5M207 86.25h1.5M222 86.25h3M222 87.75h3M220.5 89.25h3M178.5 90.75h1.5M220.5 90.75h3M219 92.25h3M180 93.75h1.5M219 93.75h1.5M217.5 95.25h1.5M211.5 96.75h1.5M216 96.75h3M196.5 98.25h3M208.5 98.25h9M211.5 99.75h6M213 101.25h4.5M214.5 102.75h3M150 108.75h16.5M145.5 110.25h4.5M166.5 110.25h4.5M142.5 111.75h3M169.5 111.75h3M141 113.25h3M172.5 113.25h1.5M141 114.75h1.5M172.5 114.75h3M139.5 116.25h3M174 116.25h1.5M139.5 117.75h1.5M174 117.75h1.5M139.5 119.25h1.5M174 119.25h1.5M139.5 120.75h1.5M174 120.75h1.5M139.5 122.25h1.5M174 122.25h1.5M139.5 123.75h3M174 123.75h1.5M141 125.25h1.5M172.5 125.25h1.5M141 126.75h3M172.5 126.75h1.5M142.5 128.25h3M169.5 128.25h3M145.5 129.75h4.5M166.5 129.75h4.5M150 131.25h16.5M196.5 141.75h3M183 144.75h1.5M189 144.75h3M178.5 149.25h1.5M210 150.75h1.5M208.5 152.25h3M180 153.75h3M204 153.75h1.5M207 153.75h4.5M210 155.25h1.5M210 156.75h1.5M210 158.25h1.5M210 159.75h1.5M210 161.25h1.5M208.5 164.25h1.5M207 165.75h1.5M166.5 167.25h1.5M180 167.25h1.5M204 167.25h1.5M202.5 168.75h1.5M51 170.25h1.5M54 170.25h1.5M192 170.25h1.5M46.5 174.75h1.5M45 177.75h1.5M66 177.75h1.5M46.5 179.25h1.5M49.5 179.25h1.5M67.5 179.25h1.5M148.5 179.25h1.5M49.5 180.75h1.5M69 180.75h1.5M145.5 180.75h1.5M153 180.75h1.5M166.5 180.75h1.5M153 182.25h1.5M195 182.25h1.5M195 183.75h1.5M69 186.75h1.5M142.5 186.75h1.5M193.5 186.75h1.5M142.5 188.25h1.5M190.5 191.25h1.5M142.5 192.75h1.5M169.5 192.75h1.5M186 194.25h1.5M141 195.75h1.5M184.5 195.75h1.5M141 197.25h1.5M178.5 197.25h1.5M183 197.25h1.5M181.5 198.75h3M172.5 206.25h1.5M178.5 206.25h4.5M141 207.75h1.5M180 207.75h3M142.5 209.25h1.5M166.5 209.25h1.5M181.5 209.25h1.5M181.5 210.75h1.5M168 212.25h1.5M181.5 212.25h1.5M147 213.75h1.5M168 213.75h1.5M180 213.75h3M147 215.25h1.5M168 215.25h1.5M180 215.25h3M156 216.75h1.5M169.5 216.75h1.5M180 216.75h3M156 218.25h1.5M169.5 218.25h1.5M180 218.25h3M148.5 219.75h1.5M169.5 219.75h3M178.5 219.75h4.5M148.5 221.25h1.5M169.5 221.25h13.5M148.5 222.75h1.5M169.5 222.75h13.5M154.5 224.25h1.5M171 224.25h12M150 225.75h1.5M154.5 225.75h1.5M171 225.75h12M150 227.25h6M172.5 227.25h9M150 228.75h4.5M172.5 228.75h7.5M151.5 230.25h3M175.5 230.25h1.5"/>
<path stroke="#6e02eb" d="M223.5 21.75h1.5M219 23.25h3M225 23.25h1.5M217.5 24.75h1.5M226.5 24.75h1.5M216 26.25h1.5M228 27.75h1.5M214.5 29.25h1.5M228 29.25h1.5M150 30.75h1.5M159 30.75h1.5M213 30.75h1.5M228 30.75h1.5M141 32.25h1.5M150 32.25h1.5M163.5 32.25h1.5M228 32.25h1.5M165 33.75h1.5M211.5 33.75h1.5M228 33.75h1.5M211.5 35.25h1.5M228 35.25h1.5M226.5 38.25h1.5M226.5 39.75h1.5M171 41.25h1.5M211.5 41.25h1.5M226.5 41.25h1.5M211.5 42.75h1.5M177 44.25h6M213 44.25h1.5M225 44.25h1.5M213 45.75h1.5M225 45.75h1.5M171 47.25h1.5M214.5 47.25h1.5M223.5 47.25h1.5M54 48.75h1.5M58.5 48.75h3M190.5 48.75h1.5M214.5 48.75h3M223.5 48.75h1.5M216 50.25h3M220.5 50.25h3M49.5 51.75h1.5M67.5 51.75h1.5M217.5 51.75h6M63 53.25h1.5M217.5 53.25h4.5M166.5 56.25h1.5M48 57.75h1.5M195 57.75h1.5M49.5 59.25h1.5M67.5 59.25h1.5M162 59.25h1.5M195 59.25h1.5M45 60.75h1.5M49.5 60.75h1.5M66 60.75h1.5M150 60.75h3M195 60.75h1.5M195 62.25h1.5M45 63.75h1.5M46.5 65.25h1.5M216 65.25h4.5M57 66.75h1.5M214.5 66.75h6M192 68.25h1.5M198 68.25h1.5M213 68.25h9M52.5 69.75h1.5M211.5 69.75h10.5M211.5 71.25h10.5M183 72.75h1.5M204 72.75h1.5M210 72.75h13.5M207 74.25h6M217.5 74.25h6M208.5 75.75h3M217.5 75.75h6M180 77.25h1.5M217.5 77.25h6M219 78.75h4.5M219 80.25h4.5M219 81.75h4.5M219 83.25h4.5M219 84.75h3M208.5 86.25h3M217.5 86.25h4.5M178.5 87.75h1.5M208.5 87.75h4.5M217.5 87.75h4.5M178.5 89.25h1.5M210 89.25h10.5M211.5 90.75h9M211.5 92.25h7.5M211.5 93.75h7.5M183 95.25h1.5M189 95.25h3M211.5 95.25h6M210 96.75h1.5M213 96.75h3M150 110.25h16.5M145.5 111.75h6M165 111.75h4.5M144 113.25h4.5M168 113.25h4.5M142.5 114.75h3M169.5 114.75h3M142.5 116.25h3M171 116.25h3M141 117.75h3M172.5 117.75h1.5M141 119.25h3M172.5 119.25h1.5M141 120.75h3M172.5 120.75h1.5M141 122.25h3M172.5 122.25h1.5M142.5 123.75h3M171 123.75h3M142.5 125.25h3M169.5 125.25h3M144 126.75h4.5M168 126.75h4.5M145.5 128.25h6M165 128.25h4.5M150 129.75h16.5M207 141.75h1.5M193.5 143.25h1.5M187.5 144.75h1.5M210 144.75h1.5M210 146.25h1.5M210 147.75h1.5M210 149.25h1.5M178.5 150.75h1.5M178.5 152.25h1.5M208.5 155.25h1.5M208.5 156.75h1.5M180 162.75h1.5M208.5 162.75h1.5M205.5 165.75h1.5M183 167.25h1.5M52.5 170.25h1.5M192 171.75h1.5M198 171.75h1.5M57 173.25h1.5M63 174.75h1.5M64.5 176.25h1.5M195 177.75h1.5M48 179.25h1.5M150 179.25h3M195 179.25h1.5M162 180.75h1.5M195 180.75h1.5M48 182.25h1.5M69 182.25h1.5M69 183.75h1.5M166.5 183.75h1.5M69 185.25h1.5M193.5 185.25h1.5M63 186.75h1.5M49.5 188.25h1.5M54 191.25h1.5M66 191.25h1.5M61.5 192.75h1.5M171 192.75h1.5M183 195.75h1.5M172.5 197.25h1.5M180 197.25h3M141 198.75h1.5M169.5 201.75h1.5M150 203.25h1.5M169.5 203.25h1.5M169.5 204.75h1.5M165 206.25h1.5M171 206.25h1.5M166.5 207.75h1.5M172.5 207.75h7.5M157.5 209.25h1.5M168 209.25h1.5M177 209.25h4.5M145.5 210.75h1.5M168 210.75h1.5M177 210.75h4.5M147 212.25h1.5M169.5 212.25h1.5M175.5 212.25h6M156 213.75h1.5M169.5 213.75h10.5M156 215.25h1.5M169.5 215.25h10.5M148.5 216.75h1.5M171 216.75h9M148.5 218.25h1.5M171 218.25h9M154.5 219.75h1.5M172.5 219.75h6M150 221.25h6M150 222.75h6M150 224.25h4.5M151.5 225.75h3"/>
<path stroke="#7102f0" d="M222 23.25h3M219 24.75h3M223.5 24.75h3M217.5 26.25h1.5M225 26.25h3M216 27.75h1.5M226.5 27.75h1.5M226.5 29.25h1.5M142.5 30.75h1.5M214.5 30.75h1.5M226.5 30.75h1.5M154.5 32.25h1.5M213 32.25h1.5M226.5 32.25h1.5M213 33.75h1.5M226.5 33.75h1.5M165 35.25h1.5M226.5 35.25h1.5M166.5 36.75h1.5M211.5 36.75h1.5M226.5 36.75h1.5M211.5 38.25h1.5M141 39.75h1.5M211.5 39.75h1.5M225 39.75h1.5M213 41.25h1.5M225 41.25h1.5M160.5 42.75h1.5M213 42.75h1.5M225 42.75h1.5M175.5 44.25h1.5M214.5 44.25h1.5M223.5 44.25h1.5M142.5 45.75h1.5M183 45.75h3M214.5 45.75h1.5M223.5 45.75h1.5M63 47.25h3M216 47.25h3M222 47.25h1.5M55.5 48.75h3M144 48.75h1.5M217.5 48.75h6M52.5 50.25h1.5M219 50.25h1.5M58.5 51.75h1.5M48 53.25h1.5M178.5 53.25h1.5M63 54.75h1.5M193.5 54.75h1.5M61.5 56.25h1.5M193.5 56.25h1.5M54 59.25h1.5M157.5 59.25h1.5M46.5 60.75h3M165 60.75h3M186 60.75h1.5M45 62.25h1.5M55.5 62.25h1.5M64.5 62.25h1.5M169.5 62.25h1.5M160.5 63.75h1.5M195 63.75h1.5M58.5 65.25h4.5M169.5 66.75h1.5M55.5 68.25h1.5M172.5 69.75h1.5M177 69.75h1.5M178.5 72.75h1.5M202.5 72.75h1.5M178.5 74.25h1.5M205.5 74.25h1.5M213 74.25h4.5M211.5 75.75h6M208.5 77.25h9M175.5 78.75h1.5M196.5 78.75h1.5M210 78.75h9M210 80.25h9M180 81.75h1.5M210 81.75h9M208.5 83.25h10.5M208.5 84.75h10.5M211.5 86.25h6M213 87.75h4.5M207 89.25h3M210 90.75h1.5M187.5 95.25h1.5M210 95.25h1.5M193.5 96.75h1.5M199.5 98.25h1.5M207 98.25h1.5M151.5 111.75h13.5M148.5 113.25h19.5M145.5 114.75h6M163.5 114.75h6M145.5 116.25h4.5M166.5 116.25h4.5M144 117.75h4.5M168 117.75h4.5M144 119.25h4.5M168 119.25h4.5M144 120.75h4.5M168 120.75h4.5M144 122.25h4.5M168 122.25h4.5M145.5 123.75h4.5M166.5 123.75h4.5M145.5 125.25h6M163.5 125.25h6M148.5 126.75h19.5M151.5 128.25h13.5M199.5 141.75h1.5M184.5 144.75h3M207 150.75h3M180 158.25h1.5M208.5 158.25h1.5M208.5 159.75h1.5M175.5 161.25h1.5M196.5 161.25h1.5M208.5 161.25h1.5M207 164.25h1.5M178.5 165.75h1.5M204 165.75h1.5M178.5 167.25h1.5M202.5 167.25h1.5M172.5 170.25h1.5M177 170.25h1.5M55.5 171.75h1.5M169.5 173.25h1.5M48 174.75h1.5M58.5 174.75h4.5M46.5 176.25h1.5M160.5 176.25h1.5M195 176.25h1.5M46.5 177.75h1.5M49.5 177.75h1.5M55.5 177.75h1.5M64.5 177.75h1.5M169.5 177.75h1.5M66 179.25h1.5M165 179.25h3M186 179.25h1.5M54 180.75h1.5M67.5 180.75h1.5M157.5 180.75h1.5M49.5 182.25h1.5M193.5 182.25h1.5M61.5 183.75h1.5M193.5 183.75h1.5M63 185.25h1.5M48 186.75h1.5M178.5 186.75h1.5M58.5 188.25h1.5M67.5 188.25h1.5M52.5 189.75h1.5M58.5 191.25h3M142.5 194.25h1.5M184.5 194.25h1.5M181.5 195.75h1.5M160.5 197.25h1.5M168 204.75h1.5M153 206.25h1.5M166.5 206.25h4.5M151.5 207.75h1.5M160.5 207.75h1.5M168 207.75h4.5M169.5 209.25h7.5M156 210.75h1.5M169.5 210.75h7.5M156 212.25h1.5M171 212.25h4.5M148.5 213.75h1.5M148.5 215.25h1.5M154.5 215.25h1.5M150 216.75h1.5M154.5 216.75h1.5M150 218.25h6M150 219.75h4.5"/>
<path stroke="#7302f5" d="M222 24.75h1.5M219 26.25h6M217.5 27.75h3M223.5 27.75h3M216 29.25h3M223.5 29.25h3M216 30.75h1.5M225 30.75h1.5M162 32.25h1.5M214.5 32.25h1.5M225 32.25h1.5M141 33.75h1.5M214.5 33.75h1.5M225 33.75h1.5M213 35.25h1.5M225 35.25h1.5M213 36.75h1.5M225 36.75h1.5M168 38.25h1.5M213 38.25h1.5M225 38.25h1.5M213 39.75h1.5M223.5 39.75h1.5M214.5 41.25h1.5M223.5 41.25h1.5M214.5 42.75h1.5M222 42.75h3M174 44.25h1.5M216 44.25h1.5M222 44.25h1.5M181.5 45.75h1.5M216 45.75h7.5M219 47.25h3M58.5 50.25h3M66 50.25h1.5M51 51.75h1.5M67.5 53.25h1.5M58.5 54.75h1.5M156 54.75h3M165 54.75h1.5M48 56.25h1.5M144 56.25h1.5M159 56.25h3M49.5 57.75h1.5M67.5 57.75h1.5M193.5 57.75h1.5M168 59.25h1.5M168 60.75h1.5M49.5 62.25h1.5M157.5 62.25h1.5M165 62.25h1.5M52.5 63.75h3M63 63.75h1.5M171 63.75h1.5M48 65.25h1.5M57 65.25h1.5M171 65.25h1.5M195 65.25h1.5M49.5 66.75h1.5M174 68.25h3M166.5 71.25h1.5M178.5 71.25h3M168 72.75h1.5M177 74.25h1.5M184.5 74.25h1.5M204 74.25h1.5M207 75.75h1.5M183 78.75h1.5M208.5 78.75h1.5M183 80.25h1.5M177 81.75h1.5M184.5 81.75h1.5M208.5 81.75h1.5M184.5 83.25h1.5M207 84.75h1.5M210 92.25h1.5M210 93.75h1.5M184.5 95.25h1.5M195 96.75h1.5M208.5 96.75h1.5M151.5 114.75h12M150 116.25h16.5M148.5 117.75h19.5M148.5 119.25h19.5M148.5 120.75h19.5M148.5 122.25h19.5M150 123.75h16.5M151.5 125.25h12M195 143.25h1.5M208.5 143.25h1.5M207 155.25h1.5M184.5 156.75h1.5M177 158.25h1.5M184.5 158.25h1.5M183 159.75h1.5M183 161.25h1.5M177 165.75h1.5M184.5 165.75h1.5M168 167.25h1.5M166.5 168.75h1.5M178.5 168.75h3M201 168.75h1.5M174 171.75h3M49.5 173.25h1.5M57 174.75h1.5M171 174.75h1.5M195 174.75h1.5M48 176.25h1.5M52.5 176.25h3M63 176.25h1.5M171 176.25h1.5M48 177.75h1.5M157.5 177.75h1.5M165 177.75h1.5M168 179.25h1.5M168 180.75h1.5M193.5 180.75h1.5M51 182.25h1.5M48 183.75h1.5M144 183.75h1.5M159 183.75h3M58.5 185.25h1.5M156 185.25h3M165 185.25h1.5M67.5 186.75h1.5M51 188.25h1.5M60 189.75h1.5M66 189.75h1.5M55.5 191.25h3M144 191.25h1.5M63 192.75h3M183 194.25h1.5M175.5 195.75h6M171 198.75h1.5M141 200.25h1.5M168 203.25h1.5M153 204.75h1.5M166.5 204.75h1.5M163.5 206.25h1.5M147 210.75h1.5M148.5 212.25h1.5M154.5 212.25h1.5M154.5 213.75h1.5M150 215.25h4.5M151.5 216.75h3"/>
<path stroke="#7603f9" d="M220.5 27.75h3M219 29.25h4.5M148.5 30.75h1.5M217.5 30.75h7.5M216 32.25h9M163.5 33.75h1.5M216 33.75h9M214.5 35.25h4.5M220.5 35.25h4.5M165 36.75h1.5M214.5 36.75h3M222 36.75h3M214.5 38.25h3M220.5 38.25h4.5M169.5 39.75h1.5M214.5 39.75h4.5M220.5 39.75h3M216 41.25h7.5M142.5 42.75h1.5M216 42.75h6M142.5 44.25h1.5M217.5 44.25h4.5M180 45.75h1.5M187.5 47.25h1.5M61.5 48.75h1.5M169.5 48.75h1.5M61.5 50.25h1.5M144 50.25h1.5M63 51.75h1.5M66 51.75h1.5M192 51.75h1.5M48 54.75h1.5M67.5 54.75h1.5M163.5 54.75h1.5M51 57.75h1.5M159 57.75h3M168 57.75h1.5M66 59.25h1.5M147 59.25h1.5M193.5 59.25h1.5M55.5 60.75h1.5M64.5 60.75h1.5M169.5 60.75h1.5M46.5 62.25h3M171 62.25h1.5M46.5 63.75h3M55.5 63.75h3M55.5 66.75h1.5M51 68.25h1.5M54 68.25h1.5M168 68.25h1.5M177 68.25h1.5M166.5 69.75h1.5M178.5 69.75h1.5M190.5 69.75h1.5M199.5 69.75h1.5M171 71.25h1.5M181.5 71.25h1.5M201 71.25h1.5M169.5 72.75h1.5M202.5 74.25h1.5M184.5 75.75h1.5M181.5 78.75h1.5M181.5 80.25h1.5M208.5 80.25h1.5M180 92.25h1.5M186 95.25h1.5M192 95.25h1.5M196.5 96.75h3M205.5 141.75h1.5M196.5 143.25h3M192 144.75h1.5M180 147.75h1.5M181.5 159.75h1.5M181.5 161.25h1.5M207 162.75h1.5M184.5 164.25h1.5M205.5 164.25h1.5M202.5 165.75h1.5M169.5 167.25h1.5M171 168.75h1.5M181.5 168.75h1.5M166.5 170.25h1.5M178.5 170.25h1.5M190.5 170.25h1.5M199.5 170.25h1.5M51 171.75h1.5M54 171.75h1.5M168 171.75h1.5M177 171.75h1.5M55.5 173.25h1.5M49.5 176.25h3M55.5 176.25h4.5M171 177.75h1.5M55.5 179.25h1.5M64.5 179.25h1.5M169.5 179.25h1.5M66 180.75h1.5M147 180.75h1.5M67.5 182.25h1.5M159 182.25h3M168 182.25h1.5M48 185.25h1.5M163.5 185.25h1.5M63 188.25h1.5M66 188.25h1.5M192 188.25h1.5M58.5 189.75h1.5M144 189.75h1.5M61.5 191.25h1.5M169.5 191.25h1.5M187.5 192.75h1.5M181.5 194.25h1.5M142.5 195.75h1.5M142.5 197.25h1.5M166.5 203.25h1.5M165 204.75h1.5M141 206.25h1.5M153 207.75h1.5M156 209.25h1.5M148.5 210.75h1.5M154.5 210.75h1.5M150 212.25h4.5M150 213.75h4.5"/>
<path stroke="#7903fc" d="M144 30.75h1.5M156 32.25h1.5M141 35.25h1.5M219 35.25h1.5M217.5 36.75h4.5M141 38.25h1.5M217.5 38.25h3M219 39.75h1.5M142.5 41.25h1.5M144 47.25h1.5M64.5 48.75h1.5M157.5 48.75h1.5M54 50.25h1.5M52.5 51.75h1.5M64.5 51.75h1.5M49.5 53.25h1.5M66 53.25h1.5M159 54.75h1.5M60 56.25h1.5M67.5 56.25h1.5M52.5 57.75h1.5M64.5 59.25h1.5M169.5 59.25h1.5M157.5 60.75h1.5M63 62.25h1.5M49.5 63.75h3M58.5 63.75h4.5M163.5 63.75h1.5M172.5 63.75h1.5M49.5 65.25h1.5M55.5 65.25h1.5M172.5 65.25h1.5M172.5 66.75h4.5M180 69.75h1.5M175.5 75.75h1.5M205.5 75.75h1.5M207 77.25h1.5M184.5 80.25h1.5M178.5 81.75h1.5M190.5 81.75h1.5M208.5 90.75h1.5M181.5 93.75h1.5M201 98.25h1.5M205.5 98.25h1.5M201 141.75h1.5M181.5 146.25h1.5M208.5 149.25h1.5M178.5 158.25h1.5M190.5 158.25h1.5M184.5 159.75h1.5M175.5 164.25h1.5M180 170.25h1.5M172.5 173.25h4.5M49.5 174.75h1.5M55.5 174.75h1.5M172.5 174.75h1.5M60 176.25h3M163.5 176.25h1.5M172.5 176.25h1.5M63 177.75h1.5M157.5 179.25h1.5M193.5 179.25h1.5M64.5 180.75h1.5M169.5 180.75h1.5M52.5 182.25h1.5M60 183.75h1.5M67.5 183.75h1.5M67.5 185.25h1.5M159 185.25h1.5M49.5 186.75h1.5M52.5 188.25h1.5M54 189.75h1.5M61.5 189.75h1.5M157.5 191.25h1.5M144 192.75h1.5M180 194.25h1.5M174 195.75h1.5M142.5 198.75h1.5M144 209.25h1.5M151.5 209.25h4.5M150 210.75h4.5"/>
<path stroke="#7b03fe" d="M160.5 32.25h1.5M141 36.75h1.5M166.5 38.25h1.5M178.5 45.75h1.5M156 47.25h3M181.5 47.25h1.5M63 48.75h1.5M156 48.75h1.5M57 50.25h1.5M63 50.25h3M157.5 50.25h1.5M144 51.75h1.5M51 53.25h3M64.5 53.25h1.5M144 54.75h1.5M162 54.75h1.5M166.5 54.75h1.5M49.5 56.25h3M63 56.25h1.5M153 56.25h1.5M66 57.75h1.5M145.5 57.75h1.5M192 57.75h1.5M63 60.75h1.5M163.5 60.75h1.5M171 60.75h1.5M193.5 60.75h1.5M57 62.25h1.5M174 65.25h1.5M171 66.75h1.5M52.5 68.25h1.5M172.5 68.25h1.5M178.5 68.25h1.5M184.5 72.75h1.5M201 72.75h1.5M178.5 75.75h1.5M184.5 77.25h1.5M189 81.75h1.5M192 81.75h1.5M190.5 83.25h3M207 83.25h1.5M183 86.25h1.5M204 141.75h1.5M208.5 144.75h1.5M183 153.75h1.5M190.5 156.75h3M207 156.75h1.5M189 158.25h1.5M192 158.25h1.5M184.5 162.75h1.5M178.5 164.25h1.5M184.5 167.25h1.5M201 167.25h1.5M52.5 171.75h1.5M172.5 171.75h1.5M178.5 171.75h1.5M171 173.25h1.5M174 174.75h1.5M57 177.75h1.5M163.5 179.25h1.5M171 179.25h1.5M145.5 182.25h1.5M192 182.25h1.5M49.5 183.75h3M63 183.75h1.5M153 183.75h1.5M144 185.25h1.5M162 185.25h1.5M166.5 185.25h1.5M51 186.75h3M64.5 186.75h3M192 186.75h1.5M64.5 188.25h1.5M144 188.25h1.5M57 189.75h1.5M157.5 189.75h1.5M64.5 191.25h1.5M156 191.25h1.5M157.5 192.75h1.5M169.5 200.25h1.5M141 201.75h1.5M168 201.75h1.5M165 203.25h1.5M150 207.75h1.5M154.5 207.75h1.5M159 207.75h1.5M150 209.25h1.5"/>
<path stroke="#7e04ff" d="M145.5 30.75h3M157.5 32.25h1.5M154.5 33.75h1.5M172.5 44.25h1.5M183 47.25h4.5M159 48.75h1.5M171 48.75h1.5M55.5 50.25h1.5M54 51.75h1.5M57 51.75h1.5M157.5 51.75h1.5M57 53.25h1.5M144 53.25h1.5M157.5 53.25h1.5M192 53.25h1.5M49.5 54.75h3M64.5 54.75h3M154.5 54.75h1.5M160.5 54.75h1.5M192 54.75h1.5M52.5 56.25h1.5M168 56.25h1.5M192 56.25h1.5M61.5 57.75h4.5M63 59.25h1.5M151.5 59.25h1.5M172.5 62.25h1.5M174 63.75h1.5M175.5 65.25h1.5M51 66.75h1.5M177 66.75h1.5M195 66.75h1.5M190.5 68.25h1.5M183 71.25h1.5M184.5 78.75h1.5M190.5 80.25h1.5M186 81.75h3M184.5 84.75h1.5M180 87.75h1.5M208.5 95.25h1.5M202.5 98.25h3M202.5 141.75h1.5M208.5 147.75h1.5M180 152.25h1.5M184.5 155.25h1.5M186 158.25h3M190.5 159.75h1.5M184.5 161.25h1.5M207 161.25h1.5M183 168.75h1.5M190.5 171.75h1.5M51 173.25h1.5M177 173.25h1.5M195 173.25h1.5M51 174.75h1.5M175.5 174.75h1.5M174 176.25h1.5M172.5 177.75h1.5M63 179.25h1.5M63 180.75h1.5M151.5 180.75h1.5M192 180.75h1.5M61.5 182.25h6M52.5 183.75h1.5M168 183.75h1.5M192 183.75h1.5M49.5 185.25h3M64.5 185.25h3M154.5 185.25h1.5M160.5 185.25h1.5M192 185.25h1.5M57 186.75h1.5M144 186.75h1.5M157.5 186.75h1.5M54 188.25h1.5M57 188.25h1.5M157.5 188.25h1.5M55.5 189.75h1.5M63 189.75h3M63 191.25h1.5M159 191.25h1.5M189 191.25h1.5M156 192.75h1.5M181.5 192.75h3M186 192.75h1.5M178.5 194.25h1.5M141 203.25h1.5M141 204.75h1.5M162 206.25h1.5"/>
<path stroke="#8104ff" d="M142.5 32.25h1.5M159 32.25h1.5M163.5 35.25h1.5M165 38.25h1.5M142.5 39.75h1.5M154.5 47.25h1.5M159 47.25h1.5M180 47.25h1.5M189 48.75h1.5M159 50.25h1.5M190.5 50.25h1.5M55.5 51.75h1.5M54 53.25h1.5M159 53.25h1.5M165 53.25h1.5M52.5 54.75h1.5M64.5 56.25h3M169.5 57.75h1.5M148.5 59.25h1.5M171 59.25h1.5M192 59.25h1.5M172.5 60.75h1.5M58.5 62.25h1.5M61.5 62.25h1.5M162 63.75h1.5M51 65.25h1.5M54 65.25h1.5M54 66.75h1.5M178.5 66.75h1.5M180 68.25h1.5M181.5 69.75h1.5M168 71.25h1.5M186 74.25h1.5M201 74.25h1.5M204 75.75h1.5M175.5 77.25h1.5M207 78.75h1.5M186 80.25h1.5M189 80.25h1.5M192 80.25h1.5M192 84.75h1.5M205.5 84.75h1.5M180 90.75h1.5M208.5 92.25h1.5M199.5 96.75h1.5M199.5 143.25h1.5M207 143.25h1.5M190.5 146.25h1.5M208.5 146.25h1.5M180 149.25h1.5M192 155.25h1.5M205.5 155.25h1.5M207 158.25h1.5M186 159.75h1.5M189 159.75h1.5M192 159.75h1.5M175.5 162.75h1.5M204 164.25h1.5M186 165.75h1.5M201 165.75h1.5M168 168.75h1.5M181.5 170.25h1.5M180 171.75h1.5M54 173.25h1.5M178.5 173.25h1.5M54 174.75h1.5M162 176.25h1.5M58.5 177.75h1.5M61.5 177.75h1.5M172.5 179.25h1.5M148.5 180.75h1.5M171 180.75h1.5M169.5 182.25h1.5M64.5 183.75h3M52.5 185.25h1.5M54 186.75h1.5M159 186.75h1.5M165 186.75h1.5M55.5 188.25h1.5M159 189.75h1.5M190.5 189.75h1.5M171 191.25h1.5M159 192.75h1.5M180 192.75h1.5M184.5 192.75h1.5M172.5 195.75h1.5M142.5 200.25h1.5M166.5 201.75h1.5M163.5 204.75h1.5M142.5 207.75h1.5M156 207.75h3M145.5 209.25h1.5M148.5 209.25h1.5"/>
<path stroke="#8405fe" d="M148.5 32.25h1.5M148.5 35.25h1.5M160.5 41.25h1.5M171 42.75h1.5M177 45.75h1.5M145.5 48.75h1.5M156 50.25h1.5M159 51.75h1.5M55.5 53.25h1.5M166.5 53.25h1.5M177 53.25h1.5M54 54.75h1.5M61.5 59.25h1.5M159 59.25h1.5M61.5 60.75h1.5M60 62.25h1.5M159 62.25h1.5M174 62.25h1.5M186 62.25h1.5M193.5 62.25h1.5M52.5 65.25h1.5M177 65.25h1.5M52.5 66.75h1.5M196.5 68.25h1.5M186 72.75h1.5M198 78.75h1.5M177 80.25h1.5M180 80.25h1.5M187.5 80.25h1.5M207 80.25h1.5M207 81.75h1.5M189 83.25h1.5M204 90.75h1.5M190.5 93.75h1.5M208.5 93.75h1.5M207 96.75h1.5M204 149.25h1.5M189 156.75h1.5M177 159.75h1.5M180 159.75h1.5M187.5 159.75h1.5M207 159.75h1.5M198 161.25h1.5M186 167.25h1.5M196.5 171.75h1.5M52.5 173.25h1.5M52.5 174.75h1.5M177 174.75h1.5M60 177.75h1.5M159 177.75h1.5M174 177.75h1.5M186 177.75h1.5M193.5 177.75h1.5M61.5 179.25h1.5M61.5 180.75h1.5M159 180.75h1.5M54 185.25h1.5M55.5 186.75h1.5M166.5 186.75h1.5M177 186.75h1.5M159 188.25h1.5M156 189.75h1.5M145.5 191.25h1.5M154.5 192.75h1.5M160.5 198.75h1.5M165 201.75h1.5"/>
<path stroke="#8605fb" d="M148.5 33.75h1.5M162 33.75h1.5M163.5 36.75h1.5M144 45.75h1.5M157.5 45.75h1.5M154.5 48.75h1.5M156 53.25h1.5M54 57.75h1.5M150 59.25h1.5M160.5 59.25h1.5M172.5 59.25h1.5M57 60.75h1.5M60 60.75h1.5M163.5 62.25h1.5M175.5 63.75h1.5M180 66.75h1.5M169.5 68.25h3M168 69.75h1.5M171 69.75h1.5M169.5 71.25h1.5M177 75.75h1.5M202.5 75.75h1.5M180 78.75h1.5M193.5 81.75h1.5M186 83.25h1.5M190.5 84.75h1.5M180 89.25h1.5M205.5 90.75h3M189 93.75h1.5M193.5 95.25h1.5M193.5 144.75h1.5M183 146.25h1.5M189 146.25h1.5M205.5 149.25h3M180 150.75h1.5M190.5 155.25h1.5M186 156.75h1.5M193.5 158.25h1.5M180 161.25h1.5M205.5 162.75h1.5M177 164.25h1.5M202.5 164.25h1.5M169.5 168.75h1.5M168 170.25h1.5M171 170.25h1.5M169.5 171.75h3M180 173.25h1.5M175.5 176.25h1.5M163.5 177.75h1.5M57 179.25h1.5M60 179.25h1.5M150 180.75h1.5M160.5 180.75h1.5M54 182.25h1.5M156 186.75h1.5M154.5 191.25h1.5M144 194.25h1.5M177 194.25h1.5M171 197.25h1.5M147 209.25h1.5"/>
<path stroke="#8906f8" d="M153 36.75h1.5M168 39.75h1.5M159 45.75h1.5M145.5 50.25h1.5M156 51.75h1.5M163.5 53.25h1.5M168 54.75h1.5M178.5 54.75h1.5M54 56.25h1.5M145.5 56.25h1.5M60 57.75h1.5M58.5 60.75h1.5M174 60.75h1.5M184.5 60.75h1.5M178.5 65.25h1.5M184.5 71.25h1.5M199.5 71.25h1.5M186 75.75h1.5M205.5 77.25h1.5M193.5 80.25h1.5M187.5 83.25h1.5M202.5 86.25h1.5M183 93.75h1.5M202.5 153.75h1.5M187.5 156.75h1.5M193.5 159.75h1.5M186 164.25h1.5M184.5 168.75h1.5M199.5 168.75h1.5M178.5 174.75h1.5M58.5 179.25h1.5M174 179.25h1.5M184.5 179.25h1.5M172.5 180.75h1.5M60 182.25h1.5M54 183.75h1.5M145.5 183.75h1.5M168 185.25h1.5M178.5 185.25h1.5M163.5 186.75h1.5M156 188.25h1.5M145.5 189.75h1.5M157.5 194.25h3M163.5 203.25h1.5M148.5 204.75h1.5M154.5 206.25h1.5"/>
<path stroke="#8c07f3" d="M150 38.25h3M163.5 38.25h1.5M163.5 41.25h1.5M169.5 41.25h1.5M160.5 44.25h1.5M156 45.75h1.5M175.5 45.75h1.5M153 47.25h1.5M178.5 47.25h1.5M181.5 48.75h1.5M160.5 53.25h1.5M55.5 54.75h3M147 57.75h1.5M171 57.75h1.5M190.5 57.75h1.5M55.5 59.25h1.5M60 59.25h1.5M192 60.75h1.5M193.5 63.75h1.5M181.5 68.25h1.5M198 69.75h1.5M198 75.75h1.5M201 75.75h1.5M186 78.75h1.5M195 78.75h1.5M193.5 83.25h1.5M192 86.25h1.5M201 87.75h1.5M201 89.25h1.5M181.5 92.25h1.5M181.5 147.75h1.5M201 150.75h1.5M201 152.25h1.5M192 153.75h1.5M193.5 156.75h1.5M186 161.25h1.5M195 161.25h1.5M198 164.25h1.5M201 164.25h1.5M198 170.25h1.5M181.5 171.75h1.5M193.5 176.25h1.5M192 179.25h1.5M55.5 180.75h1.5M60 180.75h1.5M147 182.25h1.5M171 182.25h1.5M190.5 182.25h1.5M55.5 185.25h3M160.5 186.75h1.5M153 192.75h1.5M156 194.25h1.5M160.5 195.75h1.5M163.5 198.75h1.5"/>
<path stroke="#8e08ec" d="M142.5 38.25h1.5M144 41.25h1.5M163.5 42.75h1.5M154.5 45.75h1.5M171 45.75h1.5M160.5 48.75h1.5M160.5 50.25h1.5M160.5 51.75h1.5M165 51.75h3M162 53.25h1.5M169.5 56.25h1.5M159 60.75h1.5M162 60.75h1.5M175.5 62.25h1.5M177 63.75h1.5M193.5 68.25h1.5M169.5 69.75h1.5M183 69.75h1.5M187.5 72.75h1.5M187.5 74.25h1.5M196.5 75.75h1.5M178.5 77.25h1.5M186 77.25h1.5M187.5 78.75h4.5M178.5 80.25h1.5M193.5 84.75h1.5M187.5 93.75h1.5M192 93.75h1.5M198 95.25h1.5M201 96.75h1.5M201 143.25h1.5M198 144.75h1.5M187.5 146.25h1.5M192 146.25h1.5M193.5 155.25h1.5M178.5 159.75h1.5M187.5 161.25h4.5M178.5 162.75h1.5M186 162.75h1.5M196.5 164.25h1.5M187.5 165.75h1.5M187.5 167.25h1.5M169.5 170.25h1.5M183 170.25h1.5M193.5 171.75h1.5M177 176.25h1.5M175.5 177.75h1.5M159 179.25h1.5M162 179.25h1.5M190.5 180.75h1.5M169.5 183.75h1.5M162 186.75h1.5M160.5 188.25h1.5M165 188.25h3M160.5 189.75h1.5M160.5 191.25h1.5M181.5 191.25h1.5M178.5 192.75h1.5M154.5 194.25h1.5M175.5 194.25h1.5M163.5 197.25h1.5M168 200.25h1.5M163.5 201.75h1.5M153 203.25h1.5M148.5 206.25h1.5M160.5 206.25h1.5M148.5 207.75h1.5"/>
<path stroke="#9109e5" d="M144 32.25h1.5M142.5 33.75h1.5M156 33.75h1.5M148.5 36.75h1.5M163.5 39.75h1.5M144 42.75h1.5M144 44.25h1.5M162 44.25h1.5M172.5 45.75h3M145.5 47.25h1.5M153 48.75h1.5M180 48.75h1.5M187.5 48.75h1.5M145.5 51.75h1.5M190.5 51.75h1.5M177 54.75h1.5M58.5 56.25h1.5M151.5 57.75h1.5M174 59.25h1.5M190.5 59.25h1.5M184.5 62.25h1.5M180 65.25h1.5M193.5 65.25h1.5M193.5 66.75h1.5M199.5 75.75h1.5M195 77.25h1.5M190.5 86.25h1.5M181.5 87.75h1.5M202.5 90.75h1.5M184.5 93.75h1.5M195 95.25h3M207 95.25h1.5M205.5 96.75h1.5M205.5 143.25h1.5M195 144.75h3M207 144.75h1.5M184.5 146.25h1.5M202.5 149.25h1.5M181.5 152.25h1.5M190.5 153.75h1.5M205.5 156.75h1.5M195 162.75h1.5M199.5 164.25h1.5M193.5 173.25h1.5M180 174.75h1.5M193.5 174.75h1.5M184.5 177.75h1.5M174 180.75h1.5M151.5 182.25h1.5M58.5 183.75h1.5M177 185.25h1.5M145.5 188.25h1.5M190.5 188.25h1.5M180 191.25h1.5M187.5 191.25h1.5M145.5 192.75h1.5M171 194.25h1.5M144 195.75h1.5M162 195.75h1.5M144 197.25h1.5M144 198.75h1.5M169.5 198.75h1.5M142.5 201.75h1.5M150 201.75h3M142.5 206.25h1.5M144 207.75h1.5"/>
<path stroke="#940adb" d="M147 32.25h1.5M160.5 33.75h1.5M144 39.75h1.5M162 39.75h1.5M159 44.25h1.5M171 44.25h1.5M160.5 47.25h1.5M183 48.75h1.5M154.5 50.25h1.5M163.5 51.75h1.5M145.5 54.75h1.5M190.5 56.25h1.5M160.5 62.25h3M195 68.25h1.5M187.5 75.75h1.5M177 77.25h1.5M199.5 77.25h1.5M177 78.75h1.5M192 78.75h1.5M195 80.25h1.5M205.5 83.25h1.5M189 84.75h1.5M186 93.75h1.5M199.5 95.25h1.5M199.5 144.75h1.5M186 146.25h1.5M207 147.75h1.5M189 155.25h1.5M195 159.75h1.5M177 161.25h1.5M192 161.25h1.5M205.5 161.25h1.5M177 162.75h1.5M199.5 162.75h1.5M187.5 164.25h1.5M199.5 167.25h1.5M195 171.75h1.5M160.5 177.75h3M190.5 183.75h1.5M145.5 185.25h1.5M163.5 188.25h1.5M154.5 189.75h1.5M153 191.25h1.5M183 191.25h1.5M160.5 192.75h1.5M172.5 194.25h3M162 200.25h3M162 204.75h1.5"/>
<path stroke="#960bd1" d="M145.5 32.25h1.5M154.5 35.25h1.5M162 35.25h1.5M142.5 36.75h1.5M165 39.75h3M153 45.75h1.5M160.5 45.75h1.5M147 48.75h1.5M162 51.75h1.5M145.5 53.25h1.5M168 53.25h1.5M172.5 57.75h1.5M58.5 59.25h1.5M175.5 60.75h1.5M178.5 63.75h1.5M181.5 66.75h1.5M186 71.25h1.5M199.5 72.75h1.5M199.5 74.25h1.5M187.5 77.25h1.5M204 77.25h1.5M193.5 78.75h1.5M205.5 78.75h1.5M204 84.75h1.5M193.5 86.25h1.5M190.5 92.25h1.5M207 92.25h1.5M207 146.25h1.5M190.5 147.75h1.5M193.5 153.75h1.5M204 155.25h1.5M193.5 161.25h1.5M187.5 162.75h1.5M204 162.75h1.5M199.5 165.75h1.5M186 168.75h1.5M181.5 173.25h1.5M178.5 176.25h1.5M175.5 179.25h1.5M58.5 180.75h1.5M172.5 182.25h1.5M145.5 186.75h1.5M168 186.75h1.5M162 188.25h1.5M153 194.25h1.5M159 195.75h1.5M171 195.75h1.5M144 200.25h1.5M148.5 203.25h1.5M156 206.25h1.5"/>
<path stroke="#990cc4" d="M142.5 35.25h1.5M184.5 48.75h3M162 50.25h1.5M189 50.25h1.5M154.5 53.25h1.5M190.5 53.25h1.5M190.5 54.75h1.5M148.5 57.75h1.5M160.5 60.75h1.5M177 62.25h1.5M189 77.25h1.5M178.5 78.75h1.5M186 84.75h1.5M181.5 90.75h1.5M207 93.75h1.5M202.5 96.75h3M202.5 143.25h3M181.5 149.25h1.5M186 155.25h1.5M178.5 161.25h1.5M189 162.75h1.5M177 177.75h1.5M160.5 179.25h1.5M148.5 182.25h1.5M190.5 185.25h1.5M154.5 186.75h1.5M190.5 186.75h1.5M162 189.75h1.5M189 189.75h1.5M147 191.25h1.5M184.5 191.25h3M160.5 194.25h1.5M165 200.25h3M142.5 203.25h1.5M142.5 204.75h1.5M159 206.25h1.5M147 207.75h1.5"/>
<path stroke="#9c0db7" d="M157.5 33.75h3M151.5 47.25h1.5M177 47.25h1.5M147 50.25h1.5M154.5 51.75h1.5M153 54.75h1.5M55.5 56.25h1.5M57 59.25h1.5M192 62.25h1.5M205.5 81.75h1.5M187.5 84.75h1.5M184.5 86.25h1.5M192 87.75h1.5M189 92.25h1.5M189 147.75h1.5M192 152.25h1.5M184.5 153.75h1.5M187.5 155.25h1.5M205.5 158.25h1.5M205.5 159.75h1.5M192 177.75h1.5M57 180.75h1.5M55.5 183.75h1.5M153 185.25h1.5M154.5 188.25h1.5M147 189.75h1.5M151.5 192.75h1.5M145.5 207.75h1.5"/>
<path stroke="#9e0fa8" d="M148.5 38.25h1.5M157.5 44.25h1.5M169.5 45.75h1.5M172.5 47.25h1.5M151.5 48.75h1.5M163.5 50.25h1.5M168 51.75h1.5M147 56.25h1.5M55.5 57.75h1.5M58.5 57.75h1.5M150 57.75h1.5M175.5 59.25h1.5M180 63.75h1.5M192 66.75h1.5M193.5 69.75h1.5M187.5 71.25h1.5M189 75.75h1.5M205.5 80.25h1.5M195 81.75h1.5M190.5 87.75h1.5M181.5 89.25h1.5M201 90.75h1.5M183 92.25h1.5M183 147.75h1.5M201 149.25h1.5M181.5 150.75h1.5M190.5 152.25h1.5M195 158.25h1.5M189 164.25h1.5M187.5 168.75h1.5M193.5 170.25h1.5M192 173.25h1.5M180 176.25h1.5M175.5 180.75h1.5M55.5 182.25h1.5M58.5 182.25h1.5M150 182.25h1.5M147 183.75h1.5M168 188.25h1.5M163.5 189.75h1.5M151.5 191.25h1.5M172.5 192.75h1.5M177 192.75h1.5M169.5 194.25h1.5M154.5 204.75h1.5M157.5 206.25h1.5"/>
<path stroke="#a11097" d="M144 33.75h1.5M147 33.75h1.5M162 36.75h1.5M144 38.25h1.5M162 38.25h1.5M159 42.75h1.5M162 48.75h1.5M168 48.75h1.5M178.5 48.75h1.5M153 50.25h1.5M165 50.25h3M180 50.25h1.5M178.5 51.75h1.5M169.5 54.75h1.5M57 56.25h1.5M151.5 56.25h1.5M171 56.25h1.5M174 57.75h1.5M189 59.25h1.5M187.5 60.75h1.5M190.5 60.75h1.5M181.5 65.25h1.5M183 68.25h1.5M184.5 69.75h1.5M190.5 71.25h1.5M189 72.75h1.5M189 74.25h1.5M190.5 77.25h1.5M202.5 77.25h1.5M196.5 80.25h1.5M189 86.25h1.5M183 87.75h1.5M205.5 92.25h1.5M201 95.25h1.5M205.5 95.25h1.5M201 144.75h1.5M205.5 144.75h1.5M205.5 147.75h1.5M183 152.25h1.5M189 153.75h1.5M196.5 159.75h1.5M190.5 162.75h1.5M201 162.75h3M189 165.75h1.5M189 167.25h1.5M190.5 168.75h1.5M184.5 170.25h1.5M183 171.75h1.5M181.5 174.75h1.5M187.5 179.25h1.5M190.5 179.25h1.5M189 180.75h1.5M174 182.25h1.5M57 183.75h1.5M151.5 183.75h1.5M171 183.75h1.5M169.5 185.25h1.5M178.5 188.25h1.5M165 189.75h3M180 189.75h1.5M162 191.25h1.5M168 191.25h1.5M178.5 191.25h1.5M157.5 195.75h1.5M159 197.25h1.5M144 201.75h1.5M162 203.25h1.5"/>
<path stroke="#a41286" d="M147 35.25h1.5M150 39.75h1.5M168 41.25h1.5M169.5 42.75h1.5M156 44.25h1.5M145.5 45.75h1.5M147 47.25h1.5M148.5 48.75h1.5M168 50.25h1.5M181.5 50.25h1.5M189 57.75h1.5M177 60.75h1.5M178.5 62.25h1.5M196.5 69.75h1.5M189 71.25h1.5M198 71.25h1.5M201 77.25h1.5M195 83.25h1.5M199.5 89.25h1.5M190.5 90.75h1.5M192 92.25h1.5M193.5 93.75h1.5M193.5 146.25h1.5M192 147.75h1.5M190.5 149.25h1.5M199.5 150.75h1.5M195 156.75h1.5M189 168.75h1.5M198 168.75h1.5M196.5 170.25h1.5M178.5 177.75h1.5M177 179.25h1.5M189 182.25h1.5M153 189.75h1.5M168 189.75h1.5M181.5 189.75h1.5M148.5 191.25h1.5M147 192.75h1.5M145.5 194.25h1.5M148.5 201.75h1.5M162 201.75h1.5M144 206.25h1.5"/>
<path stroke="#a61472" d="M145.5 33.75h1.5M153 38.25h1.5M145.5 39.75h1.5M151.5 39.75h1.5M154.5 44.25h1.5M151.5 45.75h1.5M168 47.25h1.5M150 48.75h1.5M169.5 50.25h1.5M147 51.75h1.5M189 69.75h1.5M192 71.25h1.5M195 84.75h1.5M201 86.25h1.5M193.5 87.75h1.5M199.5 87.75h1.5M190.5 89.25h1.5M187.5 92.25h1.5M204 92.25h1.5M199.5 93.75h1.5M205.5 93.75h1.5M199.5 146.25h1.5M205.5 146.25h1.5M187.5 147.75h1.5M204 147.75h1.5M190.5 150.75h1.5M193.5 152.25h1.5M199.5 152.25h1.5M201 153.75h1.5M195 155.25h1.5M192 168.75h1.5M189 170.25h1.5M147 188.25h1.5M169.5 189.75h1.5M150 191.25h1.5M154.5 195.75h3M169.5 197.25h1.5M147 206.25h1.5"/>
<path stroke="#a9165e" d="M144 35.25h1.5M160.5 35.25h1.5M144 36.75h1.5M147 36.75h1.5M145.5 38.25h1.5M145.5 41.25h1.5M153 44.25h1.5M150 47.25h1.5M148.5 50.25h1.5M180 51.75h1.5M180 53.25h1.5M147 54.75h1.5M186 59.25h3M195 86.25h1.5M192 89.25h1.5M189 90.75h1.5M184.5 92.25h1.5M202.5 92.25h1.5M198 93.75h1.5M201 93.75h1.5M202.5 95.25h3M202.5 144.75h3M198 146.25h1.5M201 146.25h1.5M184.5 147.75h3M202.5 147.75h1.5M189 149.25h1.5M192 150.75h1.5M195 153.75h1.5M204 161.25h1.5M192 176.25h1.5M186 180.75h3M147 185.25h1.5M180 186.75h1.5M148.5 189.75h1.5M168 192.75h1.5M151.5 194.25h1.5M168 198.75h1.5M145.5 200.25h1.5M150 200.25h1.5M144 203.25h1.5M147 204.75h1.5M160.5 204.75h1.5"/>
<path stroke="#ac1849" d="M145.5 35.25h1.5M145.5 36.75h1.5M147 38.25h1.5M148.5 39.75h1.5M160.5 39.75h1.5M165 41.25h1.5M162 47.25h1.5M175.5 47.25h1.5M151.5 50.25h1.5M187.5 50.25h1.5M189 51.75h1.5M147 53.25h1.5M153 53.25h1.5M148.5 56.25h1.5M57 57.75h1.5M175.5 57.75h1.5M181.5 63.75h1.5M192 63.75h1.5M198 74.25h1.5M192 77.25h1.5M199.5 78.75h1.5M204 78.75h1.5M186 86.25h1.5M189 87.75h1.5M183 90.75h1.5M199.5 90.75h1.5M186 92.25h1.5M201 92.25h1.5M202.5 93.75h3M202.5 146.25h3M201 147.75h1.5M183 149.25h1.5M199.5 149.25h1.5M189 152.25h1.5M186 153.75h1.5M199.5 161.25h1.5M192 162.75h1.5M198 165.75h1.5M181.5 176.25h1.5M57 182.25h1.5M175.5 182.25h1.5M148.5 183.75h1.5M147 186.75h1.5M153 186.75h1.5M180 188.25h1.5M189 188.25h1.5M151.5 189.75h1.5M187.5 189.75h1.5M150 192.75h1.5M162 192.75h1.5M175.5 192.75h1.5M153 195.75h1.5M145.5 198.75h1.5M151.5 200.25h1.5M160.5 200.25h1.5M145.5 201.75h1.5M153 201.75h1.5M147 203.25h1.5M144 204.75h1.5M145.5 206.25h1.5"/>
<path stroke="#ae1a33" d="M156 35.25h1.5M154.5 36.75h1.5M145.5 42.75h1.5M145.5 44.25h1.5M163.5 44.25h1.5M169.5 44.25h1.5M162 45.75h1.5M148.5 47.25h1.5M174 47.25h1.5M163.5 48.75h1.5M150 50.25h1.5M178.5 50.25h1.5M183 50.25h1.5M153 51.75h1.5M169.5 53.25h1.5M150 56.25h1.5M172.5 56.25h1.5M189 56.25h1.5M177 59.25h1.5M189 60.75h1.5M180 62.25h1.5M192 65.25h1.5M183 66.75h1.5M186 69.75h1.5M195 69.75h1.5M190.5 75.75h1.5M195 75.75h1.5M193.5 77.25h1.5M204 83.25h1.5M202.5 84.75h1.5M187.5 86.25h1.5M183 89.25h1.5M189 89.25h1.5M192 90.75h1.5M195 93.75h3M195 146.25h3M192 149.25h1.5M183 150.75h1.5M189 150.75h1.5M187.5 153.75h1.5M202.5 155.25h1.5M204 156.75h1.5M193.5 162.75h1.5M190.5 164.25h1.5M195 164.25h1.5M186 170.25h1.5M195 170.25h1.5M183 173.25h1.5M192 174.75h1.5M180 177.75h1.5M189 179.25h1.5M177 180.75h1.5M150 183.75h1.5M172.5 183.75h1.5M189 183.75h1.5M169.5 186.75h1.5M153 188.25h1.5M150 189.75h1.5M183 189.75h1.5M163.5 191.25h1.5M148.5 192.75h1.5M162 194.25h1.5M145.5 195.75h1.5M163.5 195.75h1.5M145.5 197.25h1.5M165 198.75h1.5M147 201.75h1.5M145.5 204.75h1.5"/>
<path stroke="#b11d1c" d="M147 39.75h1.5M166.5 41.25h1.5M172.5 48.75h1.5M177 51.75h1.5M151.5 54.75h1.5M187.5 62.25h1.5M190.5 66.75h1.5M198 72.75h1.5M184.5 87.75h1.5M199.5 92.25h1.5M199.5 147.75h1.5M184.5 152.25h1.5M198 167.25h1.5M190.5 173.25h1.5M187.5 177.75h1.5M151.5 185.25h1.5M178.5 189.75h1.5M174 192.75h1.5M169.5 195.75h1.5M148.5 200.25h1.5M145.5 203.25h1.5"/>
<path stroke="#b41f04" d="M159 41.25h1.5M171 50.25h1.5M186 50.25h1.5M148.5 51.75h1.5M169.5 51.75h1.5M189 53.25h1.5M148.5 54.75h1.5M177 56.25h1.5M178.5 60.75h1.5M183 62.25h1.5M189 68.25h1.5M187.5 69.75h1.5M198 80.25h1.5M184.5 90.75h1.5M187.5 90.75h1.5M184.5 149.25h1.5M187.5 149.25h1.5M198 159.75h1.5M187.5 170.25h1.5M189 171.75h1.5M183 177.75h1.5M190.5 177.75h1.5M178.5 179.25h1.5M177 183.75h1.5M148.5 185.25h1.5M189 186.75h1.5M148.5 188.25h1.5M169.5 188.25h1.5M177 188.25h1.5M171 189.75h1.5M186 189.75h1.5M172.5 191.25h1.5M159 198.75h1.5M166.5 198.75h1.5M147 200.25h1.5M154.5 203.25h1.5M156 204.75h1.5"/>
<path stroke="#b72200" d="M157.5 35.25h3M160.5 36.75h1.5M153 39.75h1.5M151.5 41.25h1.5M157.5 42.75h1.5M151.5 44.25h1.5M147 45.75h1.5M150 45.75h1.5M165 48.75h3M177 48.75h1.5M184.5 50.25h1.5M150 51.75h3M148.5 53.25h1.5M151.5 53.25h1.5M150 54.75h1.5M171 54.75h1.5M189 54.75h1.5M177 57.75h1.5M181.5 62.25h1.5M190.5 62.25h1.5M184.5 68.25h1.5M190.5 72.75h1.5M190.5 74.25h1.5M204 80.25h1.5M196.5 81.75h1.5M204 81.75h1.5M199.5 86.25h1.5M186 87.75h3M195 87.75h1.5M198 87.75h1.5M184.5 89.25h1.5M187.5 89.25h1.5M193.5 89.25h1.5M186 90.75h1.5M193.5 92.25h1.5M193.5 147.75h1.5M186 149.25h1.5M184.5 150.75h1.5M187.5 150.75h1.5M193.5 150.75h1.5M186 152.25h3M195 152.25h1.5M198 152.25h1.5M199.5 153.75h1.5M196.5 158.25h1.5M204 158.25h1.5M204 159.75h1.5M202.5 161.25h1.5M190.5 165.75h1.5M190.5 167.25h1.5M184.5 171.75h1.5M181.5 177.75h1.5M177 182.25h1.5M150 185.25h1.5M171 185.25h1.5M189 185.25h1.5M148.5 186.75h1.5M151.5 186.75h1.5M150 188.25h3M184.5 189.75h1.5M165 191.25h3M177 191.25h1.5M147 194.25h1.5M159 204.75h1.5"/>
<path stroke="#b92500" d="M147 41.25h1.5M150 41.25h1.5M153 42.75h1.5M165 42.75h1.5M168 42.75h1.5M181.5 51.75h1.5M150 53.25h1.5M174 56.25h3M187.5 57.75h1.5M183 63.75h1.5M183 65.25h1.5M196.5 71.25h1.5M196.5 74.25h1.5M202.5 78.75h1.5M196.5 86.25h1.5M186 89.25h1.5M198 89.25h1.5M198 92.25h1.5M198 147.75h1.5M186 150.75h1.5M198 150.75h1.5M196.5 153.75h1.5M196.5 165.75h1.5M196.5 168.75h1.5M183 174.75h1.5M183 176.25h1.5M187.5 182.25h1.5M174 183.75h3M150 186.75h1.5M181.5 188.25h1.5M150 194.25h1.5M151.5 195.75h1.5M157.5 197.25h1.5M160.5 203.25h1.5M157.5 204.75h1.5"/>
<path stroke="#bc2900" d="M160.5 38.25h1.5M148.5 41.25h1.5M153 41.25h1.5M154.5 42.75h3M148.5 45.75h1.5M168 45.75h1.5M187.5 51.75h1.5M193.5 71.25h1.5M201 78.75h1.5M196.5 83.25h1.5M196.5 84.75h1.5M198 86.25h1.5M193.5 90.75h1.5M198 90.75h1.5M193.5 149.25h1.5M198 149.25h1.5M198 153.75h1.5M196.5 155.25h1.5M196.5 156.75h1.5M201 161.25h1.5M193.5 168.75h1.5M187.5 188.25h1.5M148.5 194.25h1.5M168 194.25h1.5M153 197.25h3M165 197.25h1.5M168 197.25h1.5M147 198.75h1.5M150 198.75h3M153 200.25h1.5M160.5 201.75h1.5"/>
<path stroke="#bf2c00" d="M147 42.75h1.5M151.5 42.75h1.5M147 44.25h1.5M163.5 47.25h1.5M175.5 54.75h1.5M180 54.75h1.5M178.5 56.25h1.5M184.5 59.25h1.5M183 60.75h1.5M184.5 63.75h1.5M192 75.75h1.5M196.5 87.75h1.5M195 92.25h3M195 147.75h3M196.5 152.25h1.5M192 164.25h1.5M184.5 176.25h1.5M183 179.25h1.5M184.5 180.75h1.5M175.5 185.25h1.5M180 185.25h1.5M163.5 192.75h1.5M147 195.75h1.5M147 197.25h1.5M156 197.25h1.5M148.5 198.75h1.5"/>
<path stroke="#c13000" d="M156 36.75h1.5M154.5 38.25h1.5M148.5 42.75h3M166.5 42.75h1.5M148.5 44.25h3M168 44.25h1.5M163.5 45.75h1.5M177 50.25h1.5M175.5 53.25h1.5M189 62.25h1.5M186 63.75h1.5M195 71.25h1.5M196.5 72.75h1.5M193.5 75.75h1.5M201 84.75h1.5M195 89.25h3M195 90.75h3M195 149.25h3M195 150.75h3M201 155.25h1.5M202.5 156.75h1.5M193.5 164.25h1.5M192 167.25h1.5M196.5 167.25h1.5M195 168.75h1.5M186 176.25h1.5M190.5 176.25h1.5M189 177.75h1.5M178.5 183.75h1.5M175.5 186.75h1.5M163.5 194.25h1.5M151.5 197.25h1.5M153 198.75h1.5"/>
<path stroke="#c43400" d="M159 36.75h1.5M159 39.75h1.5M165 44.25h1.5M165 47.25h3M174 48.75h3M171 53.25h1.5M172.5 54.75h1.5M178.5 59.25h1.5M180 60.75h1.5M190.5 63.75h1.5M190.5 65.25h1.5M184.5 66.75h1.5M186 68.25h1.5M192 72.75h1.5M192 74.25h1.5M195 74.25h1.5M199.5 80.25h1.5M202.5 80.25h1.5M202.5 83.25h1.5M199.5 159.75h1.5M202.5 159.75h1.5M192 165.75h1.5M195 165.75h1.5M186 171.75h1.5M184.5 173.25h1.5M190.5 174.75h1.5M180 179.25h1.5M178.5 180.75h1.5M172.5 185.25h1.5M171 186.75h1.5M177 189.75h1.5M175.5 191.25h1.5M166.5 192.75h1.5M148.5 195.75h3M168 195.75h1.5M148.5 197.25h3M166.5 197.25h1.5"/>
<path stroke="#c73900" d="M157.5 36.75h1.5M154.5 39.75h1.5M154.5 41.25h1.5M157.5 41.25h1.5M171 51.75h1.5M183 51.75h1.5M186 51.75h1.5M187.5 53.25h1.5M187.5 56.25h1.5M187.5 68.25h1.5M198 81.75h1.5M198 84.75h3M198 155.25h3M198 158.25h1.5M202.5 158.25h1.5M187.5 171.75h1.5M187.5 183.75h1.5M187.5 186.75h1.5M171 188.25h1.5M183 188.25h1.5M186 188.25h1.5M174 191.25h1.5M165 192.75h1.5M165 195.75h1.5M159 200.25h1.5M154.5 201.75h1.5M156 203.25h1.5M159 203.25h1.5"/>
<path stroke="#c93e00" d="M159 38.25h1.5M156 41.25h1.5M166.5 44.25h1.5M165 45.75h3M172.5 50.25h1.5M184.5 51.75h1.5M187.5 54.75h1.5M189 66.75h1.5M193.5 72.75h3M193.5 74.25h1.5M201 80.25h1.5M202.5 81.75h1.5M198 83.25h1.5M198 156.75h1.5M201 159.75h1.5M193.5 165.75h1.5M193.5 167.25h3M189 173.25h1.5M187.5 185.25h1.5M184.5 188.25h1.5M172.5 189.75h1.5M165 194.25h3M166.5 195.75h1.5M154.5 198.75h1.5M157.5 198.75h1.5"/>
<path stroke="#cc4300" d="M156 38.25h1.5M175.5 51.75h1.5M181.5 53.25h1.5M174 54.75h1.5M186 57.75h1.5M187.5 63.75h1.5M184.5 65.25h1.5M201 83.25h1.5M201 156.75h1.5M184.5 174.75h1.5M187.5 176.25h1.5M186 182.25h1.5M174 185.25h1.5M181.5 186.75h1.5M175.5 188.25h1.5M156 198.75h1.5M154.5 200.25h1.5M159 201.75h1.5M157.5 203.25h1.5"/>
<path stroke="#cf4800" d="M157.5 38.25h1.5M156 39.75h3M175.5 50.25h1.5M172.5 53.25h1.5M178.5 57.75h1.5M181.5 60.75h1.5M189 63.75h1.5M186 66.75h1.5M199.5 81.75h3M199.5 83.25h1.5M199.5 156.75h1.5M199.5 158.25h3M186 173.25h1.5M189 176.25h1.5M181.5 179.25h1.5M178.5 182.25h1.5M172.5 186.75h1.5M175.5 189.75h1.5M157.5 200.25h1.5M156 201.75h1.5"/>
<path stroke="#d14e00" d="M174 50.25h1.5M172.5 51.75h1.5M186 53.25h1.5M189 65.25h1.5M187.5 66.75h1.5M187.5 173.25h1.5M186 174.75h1.5M189 174.75h1.5M186 186.75h1.5M172.5 188.25h1.5M174 189.75h1.5M156 200.25h1.5M157.5 201.75h1.5"/>
<path stroke="#d45400" d="M174 51.75h1.5M174 53.25h1.5M186 65.25h3M187.5 174.75h1.5M174 186.75h1.5M174 188.25h1.5"/>
<path stroke="#d96200" d="M183 53.25h3M186 54.75h1.5M186 56.25h1.5M186 183.75h1.5M186 185.25h1.5M183 186.75h3"/>
<path stroke="#df7100" d="M180 59.25h1.5M180 180.75h1.5"/>
<path stroke="#e48300" d="M181.5 54.75h1.5M180 56.25h1.5M184.5 57.75h1.5M183 59.25h1.5M183 180.75h1.5M184.5 182.25h1.5M180 183.75h1.5M181.5 185.25h1.5"/>
<path stroke="#e78c00" d="M184.5 54.75h1.5M184.5 185.25h1.5"/>
<path stroke="#efac00" d="M183 54.75h1.5M184.5 56.25h1.5M180 57.75h1.5M181.5 59.25h1.5M181.5 180.75h1.5M180 182.25h1.5M184.5 183.75h1.5M183 185.25h1.5"/>
<path stroke="#ffff00" d="M181.5 56.25h3M181.5 57.75h3M181.5 182.25h3M181.5 183.75h3"/>
</g>
<circle cx="120" cy="120.4" r="80.3" fill="none" stroke="#14e61e" stroke-width="1.7"/>
<line x1="120.1" y1="0.6" x2="120.1" y2="241" stroke="#08c4c8" stroke-width="1.9"/>
</g>
<rect x="0" y="0" width="240" height="241" fill="none" stroke="#000" stroke-opacity="0.9" stroke-width="1"/>
</g>
<text class="t" x="32.3" y="254.7" text-anchor="middle">0.0</text>
<text class="t" x="29.3" y="248.2" text-anchor="end">0.0</text>
<text class="t" x="80.3" y="254.7" text-anchor="middle">0.2</text>
<text class="t" x="29.3" y="200.0" text-anchor="end">0.2</text>
<text class="t" x="128.3" y="254.7" text-anchor="middle">0.4</text>
<text class="t" x="29.3" y="151.8" text-anchor="end">0.4</text>
<text class="t" x="176.3" y="254.7" text-anchor="middle">0.6</text>
<text class="t" x="29.3" y="103.6" text-anchor="end">0.6</text>
<text class="t" x="224.3" y="254.7" text-anchor="middle">0.8</text>
<text class="t" x="29.3" y="55.4" text-anchor="end">0.8</text>
<text class="t" x="272.3" y="254.7" text-anchor="middle">1.0</text>
<text class="t" x="29.3" y="7.2" text-anchor="end">1.0</text>
<text class="m" y="269.4" font-size="12.5"><tspan x="142.1">x</tspan><tspan class="r" x="148.9" y="273.5" font-size="18.2">/</tspan><tspan x="155.2" y="269.5" font-size="13.5">L</tspan></text>
<text class="m" transform="translate(9.6 134.5) rotate(-90)" font-size="12.5"><tspan x="1.0">y</tspan><tspan class="r" x="6.4" y="2.5" font-size="18.2">/</tspan><tspan x="11.6" y="0.1" font-size="13.5">L</tspan></text>
<rect x="287.4" y="4.4" width="12.1" height="240.8" fill="url(#cb)" stroke="#111" stroke-width="0.8"/>
<text class="t" x="302.4" y="247.6">0.0</text>
<line x1="297.4" y1="221.0" x2="299.4" y2="221.0" stroke="#222" stroke-width="0.6"/>
<text class="t" x="302.4" y="223.5">0.1</text>
<line x1="297.4" y1="197.0" x2="299.4" y2="197.0" stroke="#222" stroke-width="0.6"/>
<text class="t" x="302.4" y="199.5">0.2</text>
<line x1="297.4" y1="172.9" x2="299.4" y2="172.9" stroke="#222" stroke-width="0.6"/>
<text class="t" x="302.4" y="175.4">0.3</text>
<line x1="297.4" y1="148.9" x2="299.4" y2="148.9" stroke="#222" stroke-width="0.6"/>
<text class="t" x="302.4" y="151.4">0.4</text>
<line x1="297.4" y1="124.8" x2="299.4" y2="124.8" stroke="#222" stroke-width="0.6"/>
<text class="t" x="302.4" y="127.3">0.5</text>
<line x1="297.4" y1="100.7" x2="299.4" y2="100.7" stroke="#222" stroke-width="0.6"/>
<text class="t" x="302.4" y="103.2">0.6</text>
<line x1="297.4" y1="76.7" x2="299.4" y2="76.7" stroke="#222" stroke-width="0.6"/>
<text class="t" x="302.4" y="79.2">0.7</text>
<line x1="297.4" y1="52.6" x2="299.4" y2="52.6" stroke="#222" stroke-width="0.6"/>
<text class="t" x="302.4" y="55.1">0.8</text>
<line x1="297.4" y1="28.6" x2="299.4" y2="28.6" stroke="#222" stroke-width="0.6"/>
<text class="t" x="302.4" y="31.1">0.9</text>
<text class="t" x="302.4" y="7.0">1.0</text>
<g fill="none">
<rect x="372.2" y="6.3" width="306.1" height="236.7" stroke="#555" stroke-width="0.75"/>
<path d="M372.2 232.3h2.9M678.3 232.3h-2.9M433.4 243v-2.9M433.4 6.3v2.9M372.2 189.3h2.9M678.3 189.3h-2.9M494.6 243v-2.9M494.6 6.3v2.9M372.2 146.3h2.9M678.3 146.3h-2.9M555.9 243v-2.9M555.9 6.3v2.9M372.2 103.3h2.9M678.3 103.3h-2.9M617.1 243v-2.9M617.1 6.3v2.9M372.2 60.3h2.9M678.3 60.3h-2.9M372.2 17.3h2.9M678.3 17.3h-2.9" stroke="#000" stroke-width="0.8"/>
<polyline points="372.2,232.3 397.0,232.3 402.0,232.0 407.0,228.5 411.5,219.0 415.0,200.0 420.5,165.0 423.4,125.0 426.6,85.0 431.0,45.0 435.1,24.6 438.8,17.0 441.0,15.0 444.6,14.0 450.0,14.6 455.0,15.2 460.0,14.6 466.5,14.2 480.0,14.8 500.0,15.6 524.9,16.3 549.7,15.6 569.7,14.8 583.2,14.2 589.7,14.6 594.7,15.2 599.7,14.6 605.1,14.0 608.7,15.0 610.9,17.0 614.6,24.6 618.7,45.0 623.1,85.0 626.3,125.0 629.2,165.0 634.7,200.0 638.2,219.0 642.7,228.5 647.7,232.0 652.7,232.3 677.5,232.3" stroke="#b4b4b4" stroke-width="1.5" stroke-linejoin="round"/>
<polyline points="372.2,232.4 385.0,232.9 400.0,233.1 407.0,233.0 409.3,232.5 412.5,228.5 415.1,219.0 418.0,200.0 420.6,165.0 423.4,125.0 425.8,85.0 429.2,45.0 433.0,21.0 435.5,17.2 437.5,15.6 441.0,15.0 450.0,15.3 470.0,15.4 490.0,15.8 510.0,17.0 524.9,17.6 539.7,17.0 559.7,15.8 579.7,15.4 599.7,15.3 608.7,15.0 612.2,15.6 614.2,17.2 616.7,21.0 620.5,45.0 623.9,85.0 626.3,125.0 629.1,165.0 631.7,200.0 634.6,219.0 637.2,228.5 640.4,232.5 642.7,233.0 649.7,233.1 664.7,232.9 677.5,232.4" stroke="#0a0a0a" stroke-width="1.55" stroke-dasharray="4.8 3.2" stroke-linejoin="round"/>
<polyline points="372.2,232.3 421.5,232.3 421.5,17.3 628.5,17.3 628.5,232.3 678.3,232.3" stroke="#333" stroke-width="0.7"/>
</g>
<text class="t" x="372.5" y="252.3" text-anchor="middle">0.0</text>
<text class="t" x="369.6" y="235.3" text-anchor="end">0.0</text>
<text class="t" x="433.7" y="252.3" text-anchor="middle">0.2</text>
<text class="t" x="369.6" y="192.3" text-anchor="end">0.2</text>
<text class="t" x="494.9" y="252.3" text-anchor="middle">0.4</text>
<text class="t" x="369.6" y="149.3" text-anchor="end">0.4</text>
<text class="t" x="556.2" y="252.3" text-anchor="middle">0.6</text>
<text class="t" x="369.6" y="106.3" text-anchor="end">0.6</text>
<text class="t" x="617.4" y="252.3" text-anchor="middle">0.8</text>
<text class="t" x="369.6" y="63.3" text-anchor="end">0.8</text>
<text class="t" x="678.6" y="252.3" text-anchor="middle">1.0</text>
<text class="t" x="369.6" y="20.3" text-anchor="end">1.0</text>
<text class="m" y="268.6" font-size="14.0"><tspan x="512.4">x</tspan><tspan class="r" x="520.0" y="273.2" font-size="20.4">/</tspan><tspan x="527.1" y="268.7" font-size="15.1">L</tspan></text>
<text class="m" transform="translate(348.8 173) rotate(-90)" font-size="13.5"><tspan class="r" x="-0.6" y="1.0" font-size="16">(</tspan><tspan x="5.6" y="0" font-size="14.3">p</tspan><tspan class="r" x="11.7" y="3.8" font-size="9.6">in</tspan><tspan class="r" x="20.6" y="0.2" font-size="16">−</tspan><tspan x="30.3" y="0" font-size="14.3">p</tspan><tspan class="r" x="37.9" y="3.8" font-size="9.6" letter-spacing="0.35">out</tspan><tspan class="r" x="51.4" y="1.0" font-size="16">)</tspan><tspan class="r" x="58.5" y="2.9" font-size="18.2">/</tspan><tspan class="r" x="65.3" y="0" font-size="15.6">Δ</tspan><tspan x="76.7" y="0" font-size="14.3">p</tspan><tspan class="r" x="84.2" y="3.8" font-size="9.8">YL</tspan></text>
<rect x="481.3" y="192.5" width="87.4" height="46.2" fill="#fff" stroke="#444" stroke-width="0.7"/>
<line x1="487.5" y1="200.8" x2="503" y2="200.8" stroke="#b0b0b0" stroke-width="1.6"/>
<line x1="487.5" y1="214.6" x2="503" y2="214.6" stroke="#111" stroke-width="1.7" stroke-dasharray="4.6 3.1"/>
<line x1="487.5" y1="228.6" x2="503" y2="228.6" stroke="#555" stroke-width="0.7"/>
<text class="t" x="512.7" y="204.0" style="font-size:9.9px">with <tspan class="m" font-size="9.4">c</tspan></text>
<text class="t" x="512.7" y="217.9" style="font-size:9.9px">without <tspan class="m" font-size="9.4">c</tspan></text>
<path d="M537.4 197.7h4M553.6 211.6h4" stroke="#444" stroke-width="0.6" fill="none"/>
<text class="t" x="512.7" y="231.9" style="font-size:9.9px">theoretical</text>
</svg></body></html>
